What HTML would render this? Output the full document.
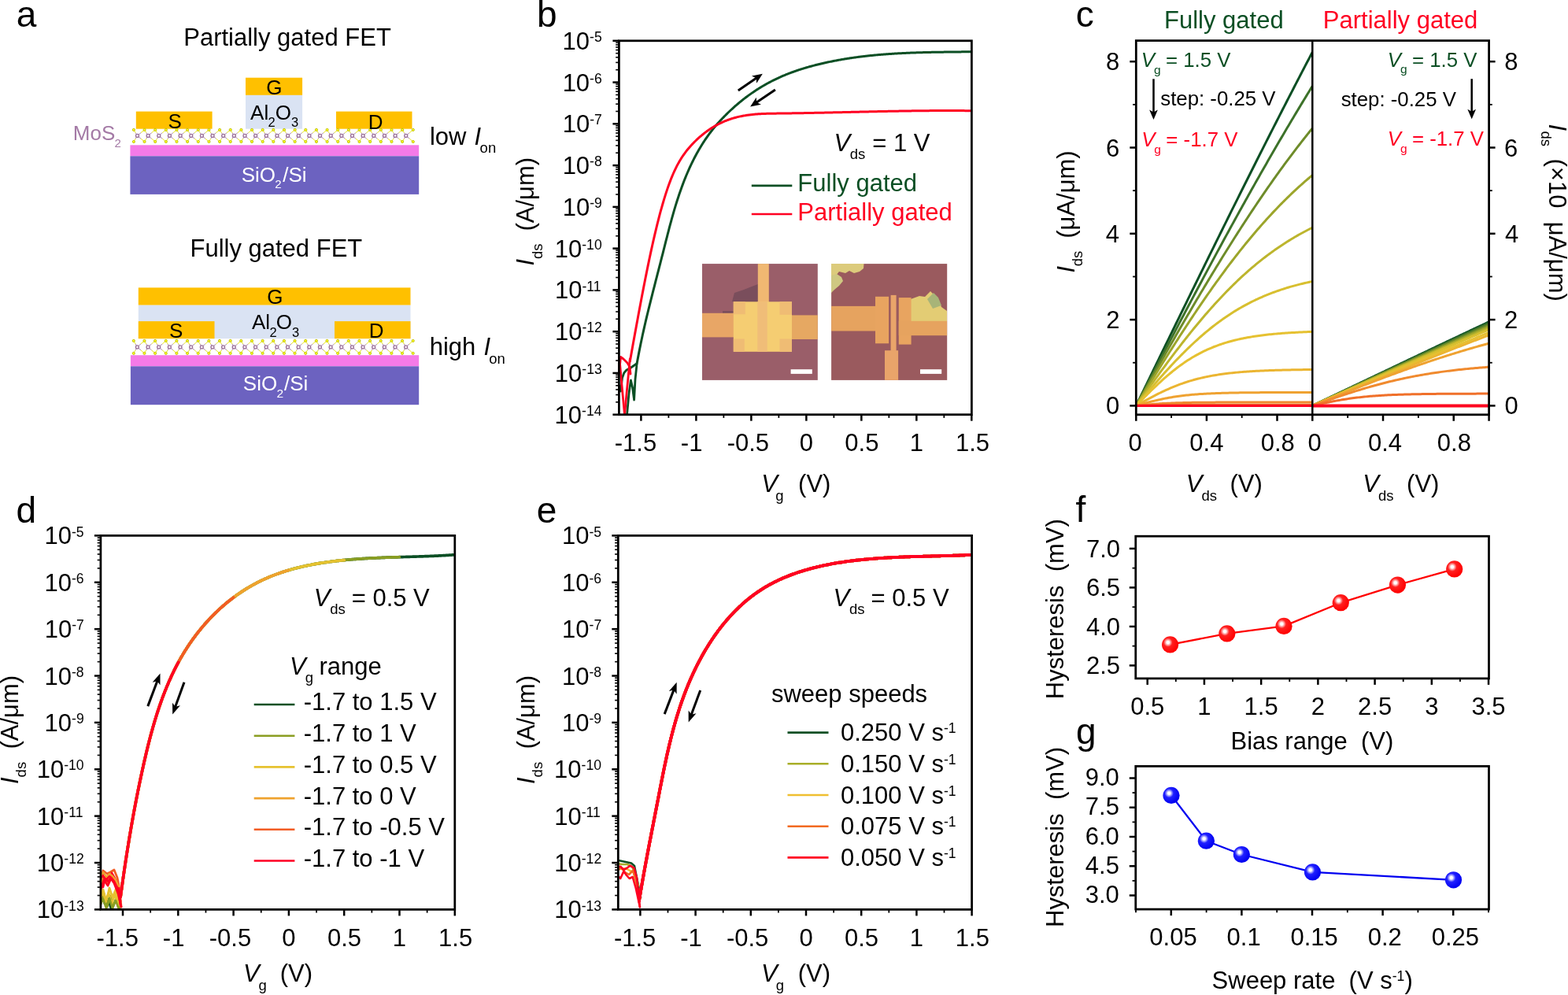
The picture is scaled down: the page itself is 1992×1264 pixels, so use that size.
<!DOCTYPE html>
<html><head><meta charset="utf-8"><title>Figure</title>
<style>
html,body{margin:0;padding:0;background:#fff;}
svg{display:block;}
text{font-family:'Liberation Sans', Arial, sans-serif;white-space:pre;}
</style></head>
<body>
<svg width="1992" height="1264" viewBox="0 0 1992 1264">
<rect width="1992" height="1264" fill="#fff"/>
<text x="20.65" y="34.00" font-size="46">a</text>
<text x="233.26" y="57.80" font-size="31">Partially gated FET</text>
<text x="241.46" y="325.50" font-size="31">Fully gated FET</text>
<rect x="312.00" y="98.70" width="72.10" height="22.20" fill="#ffc000"/>
<rect x="312.00" y="120.90" width="72.10" height="42.80" fill="#dae3f3"/>
<rect x="172.80" y="141.60" width="96.80" height="22.10" fill="#ffc000"/>
<rect x="427.00" y="141.60" width="96.50" height="22.10" fill="#ffc000"/>
<rect x="165.40" y="184.30" width="366.80" height="14.00" fill="#f57ae8"/>
<rect x="165.40" y="198.30" width="366.80" height="48.60" fill="#6c62c0"/>
<line x1="174.50" y1="172.40" x2="172.20" y2="168.65" stroke="#a07aa0" stroke-width="0.9" stroke-linecap="butt"/>
<line x1="172.20" y1="168.65" x2="169.90" y2="164.90" stroke="#e6e600" stroke-width="0.9" stroke-linecap="butt"/>
<line x1="174.50" y1="172.40" x2="172.20" y2="176.20" stroke="#a07aa0" stroke-width="0.9" stroke-linecap="butt"/>
<line x1="172.20" y1="176.20" x2="169.90" y2="180.00" stroke="#e6e600" stroke-width="0.9" stroke-linecap="butt"/>
<line x1="174.50" y1="172.40" x2="179.03" y2="168.65" stroke="#a07aa0" stroke-width="0.9" stroke-linecap="butt"/>
<line x1="179.03" y1="168.65" x2="183.55" y2="164.90" stroke="#e6e600" stroke-width="0.9" stroke-linecap="butt"/>
<line x1="174.50" y1="172.40" x2="179.03" y2="176.20" stroke="#a07aa0" stroke-width="0.9" stroke-linecap="butt"/>
<line x1="179.03" y1="176.20" x2="183.55" y2="180.00" stroke="#e6e600" stroke-width="0.9" stroke-linecap="butt"/>
<line x1="188.15" y1="172.40" x2="185.85" y2="168.65" stroke="#a07aa0" stroke-width="0.9" stroke-linecap="butt"/>
<line x1="185.85" y1="168.65" x2="183.55" y2="164.90" stroke="#e6e600" stroke-width="0.9" stroke-linecap="butt"/>
<line x1="188.15" y1="172.40" x2="185.85" y2="176.20" stroke="#a07aa0" stroke-width="0.9" stroke-linecap="butt"/>
<line x1="185.85" y1="176.20" x2="183.55" y2="180.00" stroke="#e6e600" stroke-width="0.9" stroke-linecap="butt"/>
<line x1="188.15" y1="172.40" x2="192.68" y2="168.65" stroke="#a07aa0" stroke-width="0.9" stroke-linecap="butt"/>
<line x1="192.68" y1="168.65" x2="197.20" y2="164.90" stroke="#e6e600" stroke-width="0.9" stroke-linecap="butt"/>
<line x1="188.15" y1="172.40" x2="192.68" y2="176.20" stroke="#a07aa0" stroke-width="0.9" stroke-linecap="butt"/>
<line x1="192.68" y1="176.20" x2="197.20" y2="180.00" stroke="#e6e600" stroke-width="0.9" stroke-linecap="butt"/>
<line x1="201.80" y1="172.40" x2="199.50" y2="168.65" stroke="#a07aa0" stroke-width="0.9" stroke-linecap="butt"/>
<line x1="199.50" y1="168.65" x2="197.20" y2="164.90" stroke="#e6e600" stroke-width="0.9" stroke-linecap="butt"/>
<line x1="201.80" y1="172.40" x2="199.50" y2="176.20" stroke="#a07aa0" stroke-width="0.9" stroke-linecap="butt"/>
<line x1="199.50" y1="176.20" x2="197.20" y2="180.00" stroke="#e6e600" stroke-width="0.9" stroke-linecap="butt"/>
<line x1="201.80" y1="172.40" x2="206.33" y2="168.65" stroke="#a07aa0" stroke-width="0.9" stroke-linecap="butt"/>
<line x1="206.33" y1="168.65" x2="210.85" y2="164.90" stroke="#e6e600" stroke-width="0.9" stroke-linecap="butt"/>
<line x1="201.80" y1="172.40" x2="206.33" y2="176.20" stroke="#a07aa0" stroke-width="0.9" stroke-linecap="butt"/>
<line x1="206.33" y1="176.20" x2="210.85" y2="180.00" stroke="#e6e600" stroke-width="0.9" stroke-linecap="butt"/>
<line x1="215.45" y1="172.40" x2="213.15" y2="168.65" stroke="#a07aa0" stroke-width="0.9" stroke-linecap="butt"/>
<line x1="213.15" y1="168.65" x2="210.85" y2="164.90" stroke="#e6e600" stroke-width="0.9" stroke-linecap="butt"/>
<line x1="215.45" y1="172.40" x2="213.15" y2="176.20" stroke="#a07aa0" stroke-width="0.9" stroke-linecap="butt"/>
<line x1="213.15" y1="176.20" x2="210.85" y2="180.00" stroke="#e6e600" stroke-width="0.9" stroke-linecap="butt"/>
<line x1="215.45" y1="172.40" x2="219.97" y2="168.65" stroke="#a07aa0" stroke-width="0.9" stroke-linecap="butt"/>
<line x1="219.97" y1="168.65" x2="224.50" y2="164.90" stroke="#e6e600" stroke-width="0.9" stroke-linecap="butt"/>
<line x1="215.45" y1="172.40" x2="219.97" y2="176.20" stroke="#a07aa0" stroke-width="0.9" stroke-linecap="butt"/>
<line x1="219.97" y1="176.20" x2="224.50" y2="180.00" stroke="#e6e600" stroke-width="0.9" stroke-linecap="butt"/>
<line x1="229.10" y1="172.40" x2="226.80" y2="168.65" stroke="#a07aa0" stroke-width="0.9" stroke-linecap="butt"/>
<line x1="226.80" y1="168.65" x2="224.50" y2="164.90" stroke="#e6e600" stroke-width="0.9" stroke-linecap="butt"/>
<line x1="229.10" y1="172.40" x2="226.80" y2="176.20" stroke="#a07aa0" stroke-width="0.9" stroke-linecap="butt"/>
<line x1="226.80" y1="176.20" x2="224.50" y2="180.00" stroke="#e6e600" stroke-width="0.9" stroke-linecap="butt"/>
<line x1="229.10" y1="172.40" x2="233.62" y2="168.65" stroke="#a07aa0" stroke-width="0.9" stroke-linecap="butt"/>
<line x1="233.62" y1="168.65" x2="238.15" y2="164.90" stroke="#e6e600" stroke-width="0.9" stroke-linecap="butt"/>
<line x1="229.10" y1="172.40" x2="233.62" y2="176.20" stroke="#a07aa0" stroke-width="0.9" stroke-linecap="butt"/>
<line x1="233.62" y1="176.20" x2="238.15" y2="180.00" stroke="#e6e600" stroke-width="0.9" stroke-linecap="butt"/>
<line x1="242.75" y1="172.40" x2="240.45" y2="168.65" stroke="#a07aa0" stroke-width="0.9" stroke-linecap="butt"/>
<line x1="240.45" y1="168.65" x2="238.15" y2="164.90" stroke="#e6e600" stroke-width="0.9" stroke-linecap="butt"/>
<line x1="242.75" y1="172.40" x2="240.45" y2="176.20" stroke="#a07aa0" stroke-width="0.9" stroke-linecap="butt"/>
<line x1="240.45" y1="176.20" x2="238.15" y2="180.00" stroke="#e6e600" stroke-width="0.9" stroke-linecap="butt"/>
<line x1="242.75" y1="172.40" x2="247.28" y2="168.65" stroke="#a07aa0" stroke-width="0.9" stroke-linecap="butt"/>
<line x1="247.28" y1="168.65" x2="251.80" y2="164.90" stroke="#e6e600" stroke-width="0.9" stroke-linecap="butt"/>
<line x1="242.75" y1="172.40" x2="247.28" y2="176.20" stroke="#a07aa0" stroke-width="0.9" stroke-linecap="butt"/>
<line x1="247.28" y1="176.20" x2="251.80" y2="180.00" stroke="#e6e600" stroke-width="0.9" stroke-linecap="butt"/>
<line x1="256.40" y1="172.40" x2="254.10" y2="168.65" stroke="#a07aa0" stroke-width="0.9" stroke-linecap="butt"/>
<line x1="254.10" y1="168.65" x2="251.80" y2="164.90" stroke="#e6e600" stroke-width="0.9" stroke-linecap="butt"/>
<line x1="256.40" y1="172.40" x2="254.10" y2="176.20" stroke="#a07aa0" stroke-width="0.9" stroke-linecap="butt"/>
<line x1="254.10" y1="176.20" x2="251.80" y2="180.00" stroke="#e6e600" stroke-width="0.9" stroke-linecap="butt"/>
<line x1="256.40" y1="172.40" x2="260.92" y2="168.65" stroke="#a07aa0" stroke-width="0.9" stroke-linecap="butt"/>
<line x1="260.92" y1="168.65" x2="265.45" y2="164.90" stroke="#e6e600" stroke-width="0.9" stroke-linecap="butt"/>
<line x1="256.40" y1="172.40" x2="260.92" y2="176.20" stroke="#a07aa0" stroke-width="0.9" stroke-linecap="butt"/>
<line x1="260.92" y1="176.20" x2="265.45" y2="180.00" stroke="#e6e600" stroke-width="0.9" stroke-linecap="butt"/>
<line x1="270.05" y1="172.40" x2="267.75" y2="168.65" stroke="#a07aa0" stroke-width="0.9" stroke-linecap="butt"/>
<line x1="267.75" y1="168.65" x2="265.45" y2="164.90" stroke="#e6e600" stroke-width="0.9" stroke-linecap="butt"/>
<line x1="270.05" y1="172.40" x2="267.75" y2="176.20" stroke="#a07aa0" stroke-width="0.9" stroke-linecap="butt"/>
<line x1="267.75" y1="176.20" x2="265.45" y2="180.00" stroke="#e6e600" stroke-width="0.9" stroke-linecap="butt"/>
<line x1="270.05" y1="172.40" x2="274.58" y2="168.65" stroke="#a07aa0" stroke-width="0.9" stroke-linecap="butt"/>
<line x1="274.58" y1="168.65" x2="279.10" y2="164.90" stroke="#e6e600" stroke-width="0.9" stroke-linecap="butt"/>
<line x1="270.05" y1="172.40" x2="274.58" y2="176.20" stroke="#a07aa0" stroke-width="0.9" stroke-linecap="butt"/>
<line x1="274.58" y1="176.20" x2="279.10" y2="180.00" stroke="#e6e600" stroke-width="0.9" stroke-linecap="butt"/>
<line x1="283.70" y1="172.40" x2="281.40" y2="168.65" stroke="#a07aa0" stroke-width="0.9" stroke-linecap="butt"/>
<line x1="281.40" y1="168.65" x2="279.10" y2="164.90" stroke="#e6e600" stroke-width="0.9" stroke-linecap="butt"/>
<line x1="283.70" y1="172.40" x2="281.40" y2="176.20" stroke="#a07aa0" stroke-width="0.9" stroke-linecap="butt"/>
<line x1="281.40" y1="176.20" x2="279.10" y2="180.00" stroke="#e6e600" stroke-width="0.9" stroke-linecap="butt"/>
<line x1="283.70" y1="172.40" x2="288.23" y2="168.65" stroke="#a07aa0" stroke-width="0.9" stroke-linecap="butt"/>
<line x1="288.23" y1="168.65" x2="292.75" y2="164.90" stroke="#e6e600" stroke-width="0.9" stroke-linecap="butt"/>
<line x1="283.70" y1="172.40" x2="288.23" y2="176.20" stroke="#a07aa0" stroke-width="0.9" stroke-linecap="butt"/>
<line x1="288.23" y1="176.20" x2="292.75" y2="180.00" stroke="#e6e600" stroke-width="0.9" stroke-linecap="butt"/>
<line x1="297.35" y1="172.40" x2="295.05" y2="168.65" stroke="#a07aa0" stroke-width="0.9" stroke-linecap="butt"/>
<line x1="295.05" y1="168.65" x2="292.75" y2="164.90" stroke="#e6e600" stroke-width="0.9" stroke-linecap="butt"/>
<line x1="297.35" y1="172.40" x2="295.05" y2="176.20" stroke="#a07aa0" stroke-width="0.9" stroke-linecap="butt"/>
<line x1="295.05" y1="176.20" x2="292.75" y2="180.00" stroke="#e6e600" stroke-width="0.9" stroke-linecap="butt"/>
<line x1="297.35" y1="172.40" x2="301.88" y2="168.65" stroke="#a07aa0" stroke-width="0.9" stroke-linecap="butt"/>
<line x1="301.88" y1="168.65" x2="306.40" y2="164.90" stroke="#e6e600" stroke-width="0.9" stroke-linecap="butt"/>
<line x1="297.35" y1="172.40" x2="301.88" y2="176.20" stroke="#a07aa0" stroke-width="0.9" stroke-linecap="butt"/>
<line x1="301.88" y1="176.20" x2="306.40" y2="180.00" stroke="#e6e600" stroke-width="0.9" stroke-linecap="butt"/>
<line x1="311.00" y1="172.40" x2="308.70" y2="168.65" stroke="#a07aa0" stroke-width="0.9" stroke-linecap="butt"/>
<line x1="308.70" y1="168.65" x2="306.40" y2="164.90" stroke="#e6e600" stroke-width="0.9" stroke-linecap="butt"/>
<line x1="311.00" y1="172.40" x2="308.70" y2="176.20" stroke="#a07aa0" stroke-width="0.9" stroke-linecap="butt"/>
<line x1="308.70" y1="176.20" x2="306.40" y2="180.00" stroke="#e6e600" stroke-width="0.9" stroke-linecap="butt"/>
<line x1="311.00" y1="172.40" x2="315.52" y2="168.65" stroke="#a07aa0" stroke-width="0.9" stroke-linecap="butt"/>
<line x1="315.52" y1="168.65" x2="320.05" y2="164.90" stroke="#e6e600" stroke-width="0.9" stroke-linecap="butt"/>
<line x1="311.00" y1="172.40" x2="315.52" y2="176.20" stroke="#a07aa0" stroke-width="0.9" stroke-linecap="butt"/>
<line x1="315.52" y1="176.20" x2="320.05" y2="180.00" stroke="#e6e600" stroke-width="0.9" stroke-linecap="butt"/>
<line x1="324.65" y1="172.40" x2="322.35" y2="168.65" stroke="#a07aa0" stroke-width="0.9" stroke-linecap="butt"/>
<line x1="322.35" y1="168.65" x2="320.05" y2="164.90" stroke="#e6e600" stroke-width="0.9" stroke-linecap="butt"/>
<line x1="324.65" y1="172.40" x2="322.35" y2="176.20" stroke="#a07aa0" stroke-width="0.9" stroke-linecap="butt"/>
<line x1="322.35" y1="176.20" x2="320.05" y2="180.00" stroke="#e6e600" stroke-width="0.9" stroke-linecap="butt"/>
<line x1="324.65" y1="172.40" x2="329.18" y2="168.65" stroke="#a07aa0" stroke-width="0.9" stroke-linecap="butt"/>
<line x1="329.18" y1="168.65" x2="333.70" y2="164.90" stroke="#e6e600" stroke-width="0.9" stroke-linecap="butt"/>
<line x1="324.65" y1="172.40" x2="329.18" y2="176.20" stroke="#a07aa0" stroke-width="0.9" stroke-linecap="butt"/>
<line x1="329.18" y1="176.20" x2="333.70" y2="180.00" stroke="#e6e600" stroke-width="0.9" stroke-linecap="butt"/>
<line x1="338.30" y1="172.40" x2="336.00" y2="168.65" stroke="#a07aa0" stroke-width="0.9" stroke-linecap="butt"/>
<line x1="336.00" y1="168.65" x2="333.70" y2="164.90" stroke="#e6e600" stroke-width="0.9" stroke-linecap="butt"/>
<line x1="338.30" y1="172.40" x2="336.00" y2="176.20" stroke="#a07aa0" stroke-width="0.9" stroke-linecap="butt"/>
<line x1="336.00" y1="176.20" x2="333.70" y2="180.00" stroke="#e6e600" stroke-width="0.9" stroke-linecap="butt"/>
<line x1="338.30" y1="172.40" x2="342.83" y2="168.65" stroke="#a07aa0" stroke-width="0.9" stroke-linecap="butt"/>
<line x1="342.83" y1="168.65" x2="347.35" y2="164.90" stroke="#e6e600" stroke-width="0.9" stroke-linecap="butt"/>
<line x1="338.30" y1="172.40" x2="342.83" y2="176.20" stroke="#a07aa0" stroke-width="0.9" stroke-linecap="butt"/>
<line x1="342.83" y1="176.20" x2="347.35" y2="180.00" stroke="#e6e600" stroke-width="0.9" stroke-linecap="butt"/>
<line x1="351.95" y1="172.40" x2="349.65" y2="168.65" stroke="#a07aa0" stroke-width="0.9" stroke-linecap="butt"/>
<line x1="349.65" y1="168.65" x2="347.35" y2="164.90" stroke="#e6e600" stroke-width="0.9" stroke-linecap="butt"/>
<line x1="351.95" y1="172.40" x2="349.65" y2="176.20" stroke="#a07aa0" stroke-width="0.9" stroke-linecap="butt"/>
<line x1="349.65" y1="176.20" x2="347.35" y2="180.00" stroke="#e6e600" stroke-width="0.9" stroke-linecap="butt"/>
<line x1="351.95" y1="172.40" x2="356.48" y2="168.65" stroke="#a07aa0" stroke-width="0.9" stroke-linecap="butt"/>
<line x1="356.48" y1="168.65" x2="361.00" y2="164.90" stroke="#e6e600" stroke-width="0.9" stroke-linecap="butt"/>
<line x1="351.95" y1="172.40" x2="356.48" y2="176.20" stroke="#a07aa0" stroke-width="0.9" stroke-linecap="butt"/>
<line x1="356.48" y1="176.20" x2="361.00" y2="180.00" stroke="#e6e600" stroke-width="0.9" stroke-linecap="butt"/>
<line x1="365.60" y1="172.40" x2="363.30" y2="168.65" stroke="#a07aa0" stroke-width="0.9" stroke-linecap="butt"/>
<line x1="363.30" y1="168.65" x2="361.00" y2="164.90" stroke="#e6e600" stroke-width="0.9" stroke-linecap="butt"/>
<line x1="365.60" y1="172.40" x2="363.30" y2="176.20" stroke="#a07aa0" stroke-width="0.9" stroke-linecap="butt"/>
<line x1="363.30" y1="176.20" x2="361.00" y2="180.00" stroke="#e6e600" stroke-width="0.9" stroke-linecap="butt"/>
<line x1="365.60" y1="172.40" x2="370.12" y2="168.65" stroke="#a07aa0" stroke-width="0.9" stroke-linecap="butt"/>
<line x1="370.12" y1="168.65" x2="374.65" y2="164.90" stroke="#e6e600" stroke-width="0.9" stroke-linecap="butt"/>
<line x1="365.60" y1="172.40" x2="370.12" y2="176.20" stroke="#a07aa0" stroke-width="0.9" stroke-linecap="butt"/>
<line x1="370.12" y1="176.20" x2="374.65" y2="180.00" stroke="#e6e600" stroke-width="0.9" stroke-linecap="butt"/>
<line x1="379.25" y1="172.40" x2="376.95" y2="168.65" stroke="#a07aa0" stroke-width="0.9" stroke-linecap="butt"/>
<line x1="376.95" y1="168.65" x2="374.65" y2="164.90" stroke="#e6e600" stroke-width="0.9" stroke-linecap="butt"/>
<line x1="379.25" y1="172.40" x2="376.95" y2="176.20" stroke="#a07aa0" stroke-width="0.9" stroke-linecap="butt"/>
<line x1="376.95" y1="176.20" x2="374.65" y2="180.00" stroke="#e6e600" stroke-width="0.9" stroke-linecap="butt"/>
<line x1="379.25" y1="172.40" x2="383.77" y2="168.65" stroke="#a07aa0" stroke-width="0.9" stroke-linecap="butt"/>
<line x1="383.77" y1="168.65" x2="388.30" y2="164.90" stroke="#e6e600" stroke-width="0.9" stroke-linecap="butt"/>
<line x1="379.25" y1="172.40" x2="383.77" y2="176.20" stroke="#a07aa0" stroke-width="0.9" stroke-linecap="butt"/>
<line x1="383.77" y1="176.20" x2="388.30" y2="180.00" stroke="#e6e600" stroke-width="0.9" stroke-linecap="butt"/>
<line x1="392.90" y1="172.40" x2="390.60" y2="168.65" stroke="#a07aa0" stroke-width="0.9" stroke-linecap="butt"/>
<line x1="390.60" y1="168.65" x2="388.30" y2="164.90" stroke="#e6e600" stroke-width="0.9" stroke-linecap="butt"/>
<line x1="392.90" y1="172.40" x2="390.60" y2="176.20" stroke="#a07aa0" stroke-width="0.9" stroke-linecap="butt"/>
<line x1="390.60" y1="176.20" x2="388.30" y2="180.00" stroke="#e6e600" stroke-width="0.9" stroke-linecap="butt"/>
<line x1="392.90" y1="172.40" x2="397.43" y2="168.65" stroke="#a07aa0" stroke-width="0.9" stroke-linecap="butt"/>
<line x1="397.43" y1="168.65" x2="401.95" y2="164.90" stroke="#e6e600" stroke-width="0.9" stroke-linecap="butt"/>
<line x1="392.90" y1="172.40" x2="397.43" y2="176.20" stroke="#a07aa0" stroke-width="0.9" stroke-linecap="butt"/>
<line x1="397.43" y1="176.20" x2="401.95" y2="180.00" stroke="#e6e600" stroke-width="0.9" stroke-linecap="butt"/>
<line x1="406.55" y1="172.40" x2="404.25" y2="168.65" stroke="#a07aa0" stroke-width="0.9" stroke-linecap="butt"/>
<line x1="404.25" y1="168.65" x2="401.95" y2="164.90" stroke="#e6e600" stroke-width="0.9" stroke-linecap="butt"/>
<line x1="406.55" y1="172.40" x2="404.25" y2="176.20" stroke="#a07aa0" stroke-width="0.9" stroke-linecap="butt"/>
<line x1="404.25" y1="176.20" x2="401.95" y2="180.00" stroke="#e6e600" stroke-width="0.9" stroke-linecap="butt"/>
<line x1="406.55" y1="172.40" x2="411.08" y2="168.65" stroke="#a07aa0" stroke-width="0.9" stroke-linecap="butt"/>
<line x1="411.08" y1="168.65" x2="415.60" y2="164.90" stroke="#e6e600" stroke-width="0.9" stroke-linecap="butt"/>
<line x1="406.55" y1="172.40" x2="411.08" y2="176.20" stroke="#a07aa0" stroke-width="0.9" stroke-linecap="butt"/>
<line x1="411.08" y1="176.20" x2="415.60" y2="180.00" stroke="#e6e600" stroke-width="0.9" stroke-linecap="butt"/>
<line x1="420.20" y1="172.40" x2="417.90" y2="168.65" stroke="#a07aa0" stroke-width="0.9" stroke-linecap="butt"/>
<line x1="417.90" y1="168.65" x2="415.60" y2="164.90" stroke="#e6e600" stroke-width="0.9" stroke-linecap="butt"/>
<line x1="420.20" y1="172.40" x2="417.90" y2="176.20" stroke="#a07aa0" stroke-width="0.9" stroke-linecap="butt"/>
<line x1="417.90" y1="176.20" x2="415.60" y2="180.00" stroke="#e6e600" stroke-width="0.9" stroke-linecap="butt"/>
<line x1="420.20" y1="172.40" x2="424.73" y2="168.65" stroke="#a07aa0" stroke-width="0.9" stroke-linecap="butt"/>
<line x1="424.73" y1="168.65" x2="429.25" y2="164.90" stroke="#e6e600" stroke-width="0.9" stroke-linecap="butt"/>
<line x1="420.20" y1="172.40" x2="424.73" y2="176.20" stroke="#a07aa0" stroke-width="0.9" stroke-linecap="butt"/>
<line x1="424.73" y1="176.20" x2="429.25" y2="180.00" stroke="#e6e600" stroke-width="0.9" stroke-linecap="butt"/>
<line x1="433.85" y1="172.40" x2="431.55" y2="168.65" stroke="#a07aa0" stroke-width="0.9" stroke-linecap="butt"/>
<line x1="431.55" y1="168.65" x2="429.25" y2="164.90" stroke="#e6e600" stroke-width="0.9" stroke-linecap="butt"/>
<line x1="433.85" y1="172.40" x2="431.55" y2="176.20" stroke="#a07aa0" stroke-width="0.9" stroke-linecap="butt"/>
<line x1="431.55" y1="176.20" x2="429.25" y2="180.00" stroke="#e6e600" stroke-width="0.9" stroke-linecap="butt"/>
<line x1="433.85" y1="172.40" x2="438.38" y2="168.65" stroke="#a07aa0" stroke-width="0.9" stroke-linecap="butt"/>
<line x1="438.38" y1="168.65" x2="442.90" y2="164.90" stroke="#e6e600" stroke-width="0.9" stroke-linecap="butt"/>
<line x1="433.85" y1="172.40" x2="438.38" y2="176.20" stroke="#a07aa0" stroke-width="0.9" stroke-linecap="butt"/>
<line x1="438.38" y1="176.20" x2="442.90" y2="180.00" stroke="#e6e600" stroke-width="0.9" stroke-linecap="butt"/>
<line x1="447.50" y1="172.40" x2="445.20" y2="168.65" stroke="#a07aa0" stroke-width="0.9" stroke-linecap="butt"/>
<line x1="445.20" y1="168.65" x2="442.90" y2="164.90" stroke="#e6e600" stroke-width="0.9" stroke-linecap="butt"/>
<line x1="447.50" y1="172.40" x2="445.20" y2="176.20" stroke="#a07aa0" stroke-width="0.9" stroke-linecap="butt"/>
<line x1="445.20" y1="176.20" x2="442.90" y2="180.00" stroke="#e6e600" stroke-width="0.9" stroke-linecap="butt"/>
<line x1="447.50" y1="172.40" x2="452.03" y2="168.65" stroke="#a07aa0" stroke-width="0.9" stroke-linecap="butt"/>
<line x1="452.03" y1="168.65" x2="456.55" y2="164.90" stroke="#e6e600" stroke-width="0.9" stroke-linecap="butt"/>
<line x1="447.50" y1="172.40" x2="452.03" y2="176.20" stroke="#a07aa0" stroke-width="0.9" stroke-linecap="butt"/>
<line x1="452.03" y1="176.20" x2="456.55" y2="180.00" stroke="#e6e600" stroke-width="0.9" stroke-linecap="butt"/>
<line x1="461.15" y1="172.40" x2="458.85" y2="168.65" stroke="#a07aa0" stroke-width="0.9" stroke-linecap="butt"/>
<line x1="458.85" y1="168.65" x2="456.55" y2="164.90" stroke="#e6e600" stroke-width="0.9" stroke-linecap="butt"/>
<line x1="461.15" y1="172.40" x2="458.85" y2="176.20" stroke="#a07aa0" stroke-width="0.9" stroke-linecap="butt"/>
<line x1="458.85" y1="176.20" x2="456.55" y2="180.00" stroke="#e6e600" stroke-width="0.9" stroke-linecap="butt"/>
<line x1="461.15" y1="172.40" x2="465.68" y2="168.65" stroke="#a07aa0" stroke-width="0.9" stroke-linecap="butt"/>
<line x1="465.68" y1="168.65" x2="470.20" y2="164.90" stroke="#e6e600" stroke-width="0.9" stroke-linecap="butt"/>
<line x1="461.15" y1="172.40" x2="465.68" y2="176.20" stroke="#a07aa0" stroke-width="0.9" stroke-linecap="butt"/>
<line x1="465.68" y1="176.20" x2="470.20" y2="180.00" stroke="#e6e600" stroke-width="0.9" stroke-linecap="butt"/>
<line x1="474.80" y1="172.40" x2="472.50" y2="168.65" stroke="#a07aa0" stroke-width="0.9" stroke-linecap="butt"/>
<line x1="472.50" y1="168.65" x2="470.20" y2="164.90" stroke="#e6e600" stroke-width="0.9" stroke-linecap="butt"/>
<line x1="474.80" y1="172.40" x2="472.50" y2="176.20" stroke="#a07aa0" stroke-width="0.9" stroke-linecap="butt"/>
<line x1="472.50" y1="176.20" x2="470.20" y2="180.00" stroke="#e6e600" stroke-width="0.9" stroke-linecap="butt"/>
<line x1="474.80" y1="172.40" x2="479.33" y2="168.65" stroke="#a07aa0" stroke-width="0.9" stroke-linecap="butt"/>
<line x1="479.33" y1="168.65" x2="483.85" y2="164.90" stroke="#e6e600" stroke-width="0.9" stroke-linecap="butt"/>
<line x1="474.80" y1="172.40" x2="479.33" y2="176.20" stroke="#a07aa0" stroke-width="0.9" stroke-linecap="butt"/>
<line x1="479.33" y1="176.20" x2="483.85" y2="180.00" stroke="#e6e600" stroke-width="0.9" stroke-linecap="butt"/>
<line x1="488.45" y1="172.40" x2="486.15" y2="168.65" stroke="#a07aa0" stroke-width="0.9" stroke-linecap="butt"/>
<line x1="486.15" y1="168.65" x2="483.85" y2="164.90" stroke="#e6e600" stroke-width="0.9" stroke-linecap="butt"/>
<line x1="488.45" y1="172.40" x2="486.15" y2="176.20" stroke="#a07aa0" stroke-width="0.9" stroke-linecap="butt"/>
<line x1="486.15" y1="176.20" x2="483.85" y2="180.00" stroke="#e6e600" stroke-width="0.9" stroke-linecap="butt"/>
<line x1="488.45" y1="172.40" x2="492.98" y2="168.65" stroke="#a07aa0" stroke-width="0.9" stroke-linecap="butt"/>
<line x1="492.98" y1="168.65" x2="497.50" y2="164.90" stroke="#e6e600" stroke-width="0.9" stroke-linecap="butt"/>
<line x1="488.45" y1="172.40" x2="492.98" y2="176.20" stroke="#a07aa0" stroke-width="0.9" stroke-linecap="butt"/>
<line x1="492.98" y1="176.20" x2="497.50" y2="180.00" stroke="#e6e600" stroke-width="0.9" stroke-linecap="butt"/>
<line x1="502.10" y1="172.40" x2="499.80" y2="168.65" stroke="#a07aa0" stroke-width="0.9" stroke-linecap="butt"/>
<line x1="499.80" y1="168.65" x2="497.50" y2="164.90" stroke="#e6e600" stroke-width="0.9" stroke-linecap="butt"/>
<line x1="502.10" y1="172.40" x2="499.80" y2="176.20" stroke="#a07aa0" stroke-width="0.9" stroke-linecap="butt"/>
<line x1="499.80" y1="176.20" x2="497.50" y2="180.00" stroke="#e6e600" stroke-width="0.9" stroke-linecap="butt"/>
<line x1="502.10" y1="172.40" x2="506.62" y2="168.65" stroke="#a07aa0" stroke-width="0.9" stroke-linecap="butt"/>
<line x1="506.62" y1="168.65" x2="511.15" y2="164.90" stroke="#e6e600" stroke-width="0.9" stroke-linecap="butt"/>
<line x1="502.10" y1="172.40" x2="506.62" y2="176.20" stroke="#a07aa0" stroke-width="0.9" stroke-linecap="butt"/>
<line x1="506.62" y1="176.20" x2="511.15" y2="180.00" stroke="#e6e600" stroke-width="0.9" stroke-linecap="butt"/>
<line x1="515.75" y1="172.40" x2="513.45" y2="168.65" stroke="#a07aa0" stroke-width="0.9" stroke-linecap="butt"/>
<line x1="513.45" y1="168.65" x2="511.15" y2="164.90" stroke="#e6e600" stroke-width="0.9" stroke-linecap="butt"/>
<line x1="515.75" y1="172.40" x2="513.45" y2="176.20" stroke="#a07aa0" stroke-width="0.9" stroke-linecap="butt"/>
<line x1="513.45" y1="176.20" x2="511.15" y2="180.00" stroke="#e6e600" stroke-width="0.9" stroke-linecap="butt"/>
<line x1="515.75" y1="172.40" x2="520.28" y2="168.65" stroke="#a07aa0" stroke-width="0.9" stroke-linecap="butt"/>
<line x1="520.28" y1="168.65" x2="524.80" y2="164.90" stroke="#e6e600" stroke-width="0.9" stroke-linecap="butt"/>
<line x1="515.75" y1="172.40" x2="520.28" y2="176.20" stroke="#a07aa0" stroke-width="0.9" stroke-linecap="butt"/>
<line x1="520.28" y1="176.20" x2="524.80" y2="180.00" stroke="#e6e600" stroke-width="0.9" stroke-linecap="butt"/>
<circle cx="169.90" cy="164.90" r="1.6" fill="#ffff20" stroke="#b4b400" stroke-width="0.8"/>
<circle cx="169.90" cy="180.00" r="1.6" fill="#ffff20" stroke="#b4b400" stroke-width="0.8"/>
<circle cx="183.55" cy="164.90" r="1.6" fill="#ffff20" stroke="#b4b400" stroke-width="0.8"/>
<circle cx="183.55" cy="180.00" r="1.6" fill="#ffff20" stroke="#b4b400" stroke-width="0.8"/>
<circle cx="197.20" cy="164.90" r="1.6" fill="#ffff20" stroke="#b4b400" stroke-width="0.8"/>
<circle cx="197.20" cy="180.00" r="1.6" fill="#ffff20" stroke="#b4b400" stroke-width="0.8"/>
<circle cx="210.85" cy="164.90" r="1.6" fill="#ffff20" stroke="#b4b400" stroke-width="0.8"/>
<circle cx="210.85" cy="180.00" r="1.6" fill="#ffff20" stroke="#b4b400" stroke-width="0.8"/>
<circle cx="224.50" cy="164.90" r="1.6" fill="#ffff20" stroke="#b4b400" stroke-width="0.8"/>
<circle cx="224.50" cy="180.00" r="1.6" fill="#ffff20" stroke="#b4b400" stroke-width="0.8"/>
<circle cx="238.15" cy="164.90" r="1.6" fill="#ffff20" stroke="#b4b400" stroke-width="0.8"/>
<circle cx="238.15" cy="180.00" r="1.6" fill="#ffff20" stroke="#b4b400" stroke-width="0.8"/>
<circle cx="251.80" cy="164.90" r="1.6" fill="#ffff20" stroke="#b4b400" stroke-width="0.8"/>
<circle cx="251.80" cy="180.00" r="1.6" fill="#ffff20" stroke="#b4b400" stroke-width="0.8"/>
<circle cx="265.45" cy="164.90" r="1.6" fill="#ffff20" stroke="#b4b400" stroke-width="0.8"/>
<circle cx="265.45" cy="180.00" r="1.6" fill="#ffff20" stroke="#b4b400" stroke-width="0.8"/>
<circle cx="279.10" cy="164.90" r="1.6" fill="#ffff20" stroke="#b4b400" stroke-width="0.8"/>
<circle cx="279.10" cy="180.00" r="1.6" fill="#ffff20" stroke="#b4b400" stroke-width="0.8"/>
<circle cx="292.75" cy="164.90" r="1.6" fill="#ffff20" stroke="#b4b400" stroke-width="0.8"/>
<circle cx="292.75" cy="180.00" r="1.6" fill="#ffff20" stroke="#b4b400" stroke-width="0.8"/>
<circle cx="306.40" cy="164.90" r="1.6" fill="#ffff20" stroke="#b4b400" stroke-width="0.8"/>
<circle cx="306.40" cy="180.00" r="1.6" fill="#ffff20" stroke="#b4b400" stroke-width="0.8"/>
<circle cx="320.05" cy="164.90" r="1.6" fill="#ffff20" stroke="#b4b400" stroke-width="0.8"/>
<circle cx="320.05" cy="180.00" r="1.6" fill="#ffff20" stroke="#b4b400" stroke-width="0.8"/>
<circle cx="333.70" cy="164.90" r="1.6" fill="#ffff20" stroke="#b4b400" stroke-width="0.8"/>
<circle cx="333.70" cy="180.00" r="1.6" fill="#ffff20" stroke="#b4b400" stroke-width="0.8"/>
<circle cx="347.35" cy="164.90" r="1.6" fill="#ffff20" stroke="#b4b400" stroke-width="0.8"/>
<circle cx="347.35" cy="180.00" r="1.6" fill="#ffff20" stroke="#b4b400" stroke-width="0.8"/>
<circle cx="361.00" cy="164.90" r="1.6" fill="#ffff20" stroke="#b4b400" stroke-width="0.8"/>
<circle cx="361.00" cy="180.00" r="1.6" fill="#ffff20" stroke="#b4b400" stroke-width="0.8"/>
<circle cx="374.65" cy="164.90" r="1.6" fill="#ffff20" stroke="#b4b400" stroke-width="0.8"/>
<circle cx="374.65" cy="180.00" r="1.6" fill="#ffff20" stroke="#b4b400" stroke-width="0.8"/>
<circle cx="388.30" cy="164.90" r="1.6" fill="#ffff20" stroke="#b4b400" stroke-width="0.8"/>
<circle cx="388.30" cy="180.00" r="1.6" fill="#ffff20" stroke="#b4b400" stroke-width="0.8"/>
<circle cx="401.95" cy="164.90" r="1.6" fill="#ffff20" stroke="#b4b400" stroke-width="0.8"/>
<circle cx="401.95" cy="180.00" r="1.6" fill="#ffff20" stroke="#b4b400" stroke-width="0.8"/>
<circle cx="415.60" cy="164.90" r="1.6" fill="#ffff20" stroke="#b4b400" stroke-width="0.8"/>
<circle cx="415.60" cy="180.00" r="1.6" fill="#ffff20" stroke="#b4b400" stroke-width="0.8"/>
<circle cx="429.25" cy="164.90" r="1.6" fill="#ffff20" stroke="#b4b400" stroke-width="0.8"/>
<circle cx="429.25" cy="180.00" r="1.6" fill="#ffff20" stroke="#b4b400" stroke-width="0.8"/>
<circle cx="442.90" cy="164.90" r="1.6" fill="#ffff20" stroke="#b4b400" stroke-width="0.8"/>
<circle cx="442.90" cy="180.00" r="1.6" fill="#ffff20" stroke="#b4b400" stroke-width="0.8"/>
<circle cx="456.55" cy="164.90" r="1.6" fill="#ffff20" stroke="#b4b400" stroke-width="0.8"/>
<circle cx="456.55" cy="180.00" r="1.6" fill="#ffff20" stroke="#b4b400" stroke-width="0.8"/>
<circle cx="470.20" cy="164.90" r="1.6" fill="#ffff20" stroke="#b4b400" stroke-width="0.8"/>
<circle cx="470.20" cy="180.00" r="1.6" fill="#ffff20" stroke="#b4b400" stroke-width="0.8"/>
<circle cx="483.85" cy="164.90" r="1.6" fill="#ffff20" stroke="#b4b400" stroke-width="0.8"/>
<circle cx="483.85" cy="180.00" r="1.6" fill="#ffff20" stroke="#b4b400" stroke-width="0.8"/>
<circle cx="497.50" cy="164.90" r="1.6" fill="#ffff20" stroke="#b4b400" stroke-width="0.8"/>
<circle cx="497.50" cy="180.00" r="1.6" fill="#ffff20" stroke="#b4b400" stroke-width="0.8"/>
<circle cx="511.15" cy="164.90" r="1.6" fill="#ffff20" stroke="#b4b400" stroke-width="0.8"/>
<circle cx="511.15" cy="180.00" r="1.6" fill="#ffff20" stroke="#b4b400" stroke-width="0.8"/>
<circle cx="524.80" cy="164.90" r="1.6" fill="#ffff20" stroke="#b4b400" stroke-width="0.8"/>
<circle cx="524.80" cy="180.00" r="1.6" fill="#ffff20" stroke="#b4b400" stroke-width="0.8"/>
<circle cx="174.50" cy="172.40" r="2.0" fill="#f6eef6" stroke="#9a709a" stroke-width="1.3"/>
<circle cx="188.15" cy="172.40" r="2.0" fill="#f6eef6" stroke="#9a709a" stroke-width="1.3"/>
<circle cx="201.80" cy="172.40" r="2.0" fill="#f6eef6" stroke="#9a709a" stroke-width="1.3"/>
<circle cx="215.45" cy="172.40" r="2.0" fill="#f6eef6" stroke="#9a709a" stroke-width="1.3"/>
<circle cx="229.10" cy="172.40" r="2.0" fill="#f6eef6" stroke="#9a709a" stroke-width="1.3"/>
<circle cx="242.75" cy="172.40" r="2.0" fill="#f6eef6" stroke="#9a709a" stroke-width="1.3"/>
<circle cx="256.40" cy="172.40" r="2.0" fill="#f6eef6" stroke="#9a709a" stroke-width="1.3"/>
<circle cx="270.05" cy="172.40" r="2.0" fill="#f6eef6" stroke="#9a709a" stroke-width="1.3"/>
<circle cx="283.70" cy="172.40" r="2.0" fill="#f6eef6" stroke="#9a709a" stroke-width="1.3"/>
<circle cx="297.35" cy="172.40" r="2.0" fill="#f6eef6" stroke="#9a709a" stroke-width="1.3"/>
<circle cx="311.00" cy="172.40" r="2.0" fill="#f6eef6" stroke="#9a709a" stroke-width="1.3"/>
<circle cx="324.65" cy="172.40" r="2.0" fill="#f6eef6" stroke="#9a709a" stroke-width="1.3"/>
<circle cx="338.30" cy="172.40" r="2.0" fill="#f6eef6" stroke="#9a709a" stroke-width="1.3"/>
<circle cx="351.95" cy="172.40" r="2.0" fill="#f6eef6" stroke="#9a709a" stroke-width="1.3"/>
<circle cx="365.60" cy="172.40" r="2.0" fill="#f6eef6" stroke="#9a709a" stroke-width="1.3"/>
<circle cx="379.25" cy="172.40" r="2.0" fill="#f6eef6" stroke="#9a709a" stroke-width="1.3"/>
<circle cx="392.90" cy="172.40" r="2.0" fill="#f6eef6" stroke="#9a709a" stroke-width="1.3"/>
<circle cx="406.55" cy="172.40" r="2.0" fill="#f6eef6" stroke="#9a709a" stroke-width="1.3"/>
<circle cx="420.20" cy="172.40" r="2.0" fill="#f6eef6" stroke="#9a709a" stroke-width="1.3"/>
<circle cx="433.85" cy="172.40" r="2.0" fill="#f6eef6" stroke="#9a709a" stroke-width="1.3"/>
<circle cx="447.50" cy="172.40" r="2.0" fill="#f6eef6" stroke="#9a709a" stroke-width="1.3"/>
<circle cx="461.15" cy="172.40" r="2.0" fill="#f6eef6" stroke="#9a709a" stroke-width="1.3"/>
<circle cx="474.80" cy="172.40" r="2.0" fill="#f6eef6" stroke="#9a709a" stroke-width="1.3"/>
<circle cx="488.45" cy="172.40" r="2.0" fill="#f6eef6" stroke="#9a709a" stroke-width="1.3"/>
<circle cx="502.10" cy="172.40" r="2.0" fill="#f6eef6" stroke="#9a709a" stroke-width="1.3"/>
<circle cx="515.75" cy="172.40" r="2.0" fill="#f6eef6" stroke="#9a709a" stroke-width="1.3"/>
<text x="338.29" y="119.90" font-size="26">G</text>
<text x="318.05" y="151.90" font-size="26">Al</text>
<text x="340.47" y="161.00" font-size="16.5">2</text>
<text x="349.77" y="151.90" font-size="26">O</text>
<text x="369.97" y="161.00" font-size="16.5">3</text>
<text x="213.42" y="163.40" font-size="26">S</text>
<text x="467.67" y="163.60" font-size="26">D</text>
<text x="92.77" y="177.80" font-size="26" fill="#a47aa6">MoS</text>
<text x="145.45" y="186.80" font-size="15" fill="#a47aa6">2</text>
<text x="306.72" y="230.90" font-size="26" fill="#fff">SiO</text>
<text x="349.35" y="238.70" font-size="15" fill="#fff">2</text>
<text x="359.20" y="230.90" font-size="26" fill="#fff">/Si</text>
<text x="545.91" y="183.70" font-size="31">low</text>
<text x="602.57" y="183.70" font-size="31" font-style="italic">I</text>
<text x="609.62" y="193.90" font-size="18.5">on</text>
<rect x="175.80" y="365.40" width="345.70" height="22.30" fill="#ffc000"/>
<rect x="175.80" y="387.70" width="345.70" height="42.50" fill="#dae3f3"/>
<rect x="175.80" y="408.10" width="96.70" height="22.10" fill="#ffc000"/>
<rect x="425.00" y="408.10" width="96.50" height="22.10" fill="#ffc000"/>
<rect x="165.90" y="451.20" width="366.30" height="14.10" fill="#f57ae8"/>
<rect x="165.90" y="465.30" width="366.30" height="48.90" fill="#6c62c0"/>
<line x1="174.40" y1="440.90" x2="172.10" y2="436.90" stroke="#a07aa0" stroke-width="0.9" stroke-linecap="butt"/>
<line x1="172.10" y1="436.90" x2="169.80" y2="432.90" stroke="#e6e600" stroke-width="0.9" stroke-linecap="butt"/>
<line x1="174.40" y1="440.90" x2="172.10" y2="444.85" stroke="#a07aa0" stroke-width="0.9" stroke-linecap="butt"/>
<line x1="172.10" y1="444.85" x2="169.80" y2="448.80" stroke="#e6e600" stroke-width="0.9" stroke-linecap="butt"/>
<line x1="174.40" y1="440.90" x2="178.93" y2="436.90" stroke="#a07aa0" stroke-width="0.9" stroke-linecap="butt"/>
<line x1="178.93" y1="436.90" x2="183.45" y2="432.90" stroke="#e6e600" stroke-width="0.9" stroke-linecap="butt"/>
<line x1="174.40" y1="440.90" x2="178.93" y2="444.85" stroke="#a07aa0" stroke-width="0.9" stroke-linecap="butt"/>
<line x1="178.93" y1="444.85" x2="183.45" y2="448.80" stroke="#e6e600" stroke-width="0.9" stroke-linecap="butt"/>
<line x1="188.05" y1="440.90" x2="185.75" y2="436.90" stroke="#a07aa0" stroke-width="0.9" stroke-linecap="butt"/>
<line x1="185.75" y1="436.90" x2="183.45" y2="432.90" stroke="#e6e600" stroke-width="0.9" stroke-linecap="butt"/>
<line x1="188.05" y1="440.90" x2="185.75" y2="444.85" stroke="#a07aa0" stroke-width="0.9" stroke-linecap="butt"/>
<line x1="185.75" y1="444.85" x2="183.45" y2="448.80" stroke="#e6e600" stroke-width="0.9" stroke-linecap="butt"/>
<line x1="188.05" y1="440.90" x2="192.58" y2="436.90" stroke="#a07aa0" stroke-width="0.9" stroke-linecap="butt"/>
<line x1="192.58" y1="436.90" x2="197.10" y2="432.90" stroke="#e6e600" stroke-width="0.9" stroke-linecap="butt"/>
<line x1="188.05" y1="440.90" x2="192.58" y2="444.85" stroke="#a07aa0" stroke-width="0.9" stroke-linecap="butt"/>
<line x1="192.58" y1="444.85" x2="197.10" y2="448.80" stroke="#e6e600" stroke-width="0.9" stroke-linecap="butt"/>
<line x1="201.70" y1="440.90" x2="199.40" y2="436.90" stroke="#a07aa0" stroke-width="0.9" stroke-linecap="butt"/>
<line x1="199.40" y1="436.90" x2="197.10" y2="432.90" stroke="#e6e600" stroke-width="0.9" stroke-linecap="butt"/>
<line x1="201.70" y1="440.90" x2="199.40" y2="444.85" stroke="#a07aa0" stroke-width="0.9" stroke-linecap="butt"/>
<line x1="199.40" y1="444.85" x2="197.10" y2="448.80" stroke="#e6e600" stroke-width="0.9" stroke-linecap="butt"/>
<line x1="201.70" y1="440.90" x2="206.23" y2="436.90" stroke="#a07aa0" stroke-width="0.9" stroke-linecap="butt"/>
<line x1="206.23" y1="436.90" x2="210.75" y2="432.90" stroke="#e6e600" stroke-width="0.9" stroke-linecap="butt"/>
<line x1="201.70" y1="440.90" x2="206.23" y2="444.85" stroke="#a07aa0" stroke-width="0.9" stroke-linecap="butt"/>
<line x1="206.23" y1="444.85" x2="210.75" y2="448.80" stroke="#e6e600" stroke-width="0.9" stroke-linecap="butt"/>
<line x1="215.35" y1="440.90" x2="213.05" y2="436.90" stroke="#a07aa0" stroke-width="0.9" stroke-linecap="butt"/>
<line x1="213.05" y1="436.90" x2="210.75" y2="432.90" stroke="#e6e600" stroke-width="0.9" stroke-linecap="butt"/>
<line x1="215.35" y1="440.90" x2="213.05" y2="444.85" stroke="#a07aa0" stroke-width="0.9" stroke-linecap="butt"/>
<line x1="213.05" y1="444.85" x2="210.75" y2="448.80" stroke="#e6e600" stroke-width="0.9" stroke-linecap="butt"/>
<line x1="215.35" y1="440.90" x2="219.88" y2="436.90" stroke="#a07aa0" stroke-width="0.9" stroke-linecap="butt"/>
<line x1="219.88" y1="436.90" x2="224.40" y2="432.90" stroke="#e6e600" stroke-width="0.9" stroke-linecap="butt"/>
<line x1="215.35" y1="440.90" x2="219.88" y2="444.85" stroke="#a07aa0" stroke-width="0.9" stroke-linecap="butt"/>
<line x1="219.88" y1="444.85" x2="224.40" y2="448.80" stroke="#e6e600" stroke-width="0.9" stroke-linecap="butt"/>
<line x1="229.00" y1="440.90" x2="226.70" y2="436.90" stroke="#a07aa0" stroke-width="0.9" stroke-linecap="butt"/>
<line x1="226.70" y1="436.90" x2="224.40" y2="432.90" stroke="#e6e600" stroke-width="0.9" stroke-linecap="butt"/>
<line x1="229.00" y1="440.90" x2="226.70" y2="444.85" stroke="#a07aa0" stroke-width="0.9" stroke-linecap="butt"/>
<line x1="226.70" y1="444.85" x2="224.40" y2="448.80" stroke="#e6e600" stroke-width="0.9" stroke-linecap="butt"/>
<line x1="229.00" y1="440.90" x2="233.53" y2="436.90" stroke="#a07aa0" stroke-width="0.9" stroke-linecap="butt"/>
<line x1="233.53" y1="436.90" x2="238.05" y2="432.90" stroke="#e6e600" stroke-width="0.9" stroke-linecap="butt"/>
<line x1="229.00" y1="440.90" x2="233.53" y2="444.85" stroke="#a07aa0" stroke-width="0.9" stroke-linecap="butt"/>
<line x1="233.53" y1="444.85" x2="238.05" y2="448.80" stroke="#e6e600" stroke-width="0.9" stroke-linecap="butt"/>
<line x1="242.65" y1="440.90" x2="240.35" y2="436.90" stroke="#a07aa0" stroke-width="0.9" stroke-linecap="butt"/>
<line x1="240.35" y1="436.90" x2="238.05" y2="432.90" stroke="#e6e600" stroke-width="0.9" stroke-linecap="butt"/>
<line x1="242.65" y1="440.90" x2="240.35" y2="444.85" stroke="#a07aa0" stroke-width="0.9" stroke-linecap="butt"/>
<line x1="240.35" y1="444.85" x2="238.05" y2="448.80" stroke="#e6e600" stroke-width="0.9" stroke-linecap="butt"/>
<line x1="242.65" y1="440.90" x2="247.18" y2="436.90" stroke="#a07aa0" stroke-width="0.9" stroke-linecap="butt"/>
<line x1="247.18" y1="436.90" x2="251.70" y2="432.90" stroke="#e6e600" stroke-width="0.9" stroke-linecap="butt"/>
<line x1="242.65" y1="440.90" x2="247.18" y2="444.85" stroke="#a07aa0" stroke-width="0.9" stroke-linecap="butt"/>
<line x1="247.18" y1="444.85" x2="251.70" y2="448.80" stroke="#e6e600" stroke-width="0.9" stroke-linecap="butt"/>
<line x1="256.30" y1="440.90" x2="254.00" y2="436.90" stroke="#a07aa0" stroke-width="0.9" stroke-linecap="butt"/>
<line x1="254.00" y1="436.90" x2="251.70" y2="432.90" stroke="#e6e600" stroke-width="0.9" stroke-linecap="butt"/>
<line x1="256.30" y1="440.90" x2="254.00" y2="444.85" stroke="#a07aa0" stroke-width="0.9" stroke-linecap="butt"/>
<line x1="254.00" y1="444.85" x2="251.70" y2="448.80" stroke="#e6e600" stroke-width="0.9" stroke-linecap="butt"/>
<line x1="256.30" y1="440.90" x2="260.83" y2="436.90" stroke="#a07aa0" stroke-width="0.9" stroke-linecap="butt"/>
<line x1="260.83" y1="436.90" x2="265.35" y2="432.90" stroke="#e6e600" stroke-width="0.9" stroke-linecap="butt"/>
<line x1="256.30" y1="440.90" x2="260.83" y2="444.85" stroke="#a07aa0" stroke-width="0.9" stroke-linecap="butt"/>
<line x1="260.83" y1="444.85" x2="265.35" y2="448.80" stroke="#e6e600" stroke-width="0.9" stroke-linecap="butt"/>
<line x1="269.95" y1="440.90" x2="267.65" y2="436.90" stroke="#a07aa0" stroke-width="0.9" stroke-linecap="butt"/>
<line x1="267.65" y1="436.90" x2="265.35" y2="432.90" stroke="#e6e600" stroke-width="0.9" stroke-linecap="butt"/>
<line x1="269.95" y1="440.90" x2="267.65" y2="444.85" stroke="#a07aa0" stroke-width="0.9" stroke-linecap="butt"/>
<line x1="267.65" y1="444.85" x2="265.35" y2="448.80" stroke="#e6e600" stroke-width="0.9" stroke-linecap="butt"/>
<line x1="269.95" y1="440.90" x2="274.48" y2="436.90" stroke="#a07aa0" stroke-width="0.9" stroke-linecap="butt"/>
<line x1="274.48" y1="436.90" x2="279.00" y2="432.90" stroke="#e6e600" stroke-width="0.9" stroke-linecap="butt"/>
<line x1="269.95" y1="440.90" x2="274.48" y2="444.85" stroke="#a07aa0" stroke-width="0.9" stroke-linecap="butt"/>
<line x1="274.48" y1="444.85" x2="279.00" y2="448.80" stroke="#e6e600" stroke-width="0.9" stroke-linecap="butt"/>
<line x1="283.60" y1="440.90" x2="281.30" y2="436.90" stroke="#a07aa0" stroke-width="0.9" stroke-linecap="butt"/>
<line x1="281.30" y1="436.90" x2="279.00" y2="432.90" stroke="#e6e600" stroke-width="0.9" stroke-linecap="butt"/>
<line x1="283.60" y1="440.90" x2="281.30" y2="444.85" stroke="#a07aa0" stroke-width="0.9" stroke-linecap="butt"/>
<line x1="281.30" y1="444.85" x2="279.00" y2="448.80" stroke="#e6e600" stroke-width="0.9" stroke-linecap="butt"/>
<line x1="283.60" y1="440.90" x2="288.12" y2="436.90" stroke="#a07aa0" stroke-width="0.9" stroke-linecap="butt"/>
<line x1="288.12" y1="436.90" x2="292.65" y2="432.90" stroke="#e6e600" stroke-width="0.9" stroke-linecap="butt"/>
<line x1="283.60" y1="440.90" x2="288.12" y2="444.85" stroke="#a07aa0" stroke-width="0.9" stroke-linecap="butt"/>
<line x1="288.12" y1="444.85" x2="292.65" y2="448.80" stroke="#e6e600" stroke-width="0.9" stroke-linecap="butt"/>
<line x1="297.25" y1="440.90" x2="294.95" y2="436.90" stroke="#a07aa0" stroke-width="0.9" stroke-linecap="butt"/>
<line x1="294.95" y1="436.90" x2="292.65" y2="432.90" stroke="#e6e600" stroke-width="0.9" stroke-linecap="butt"/>
<line x1="297.25" y1="440.90" x2="294.95" y2="444.85" stroke="#a07aa0" stroke-width="0.9" stroke-linecap="butt"/>
<line x1="294.95" y1="444.85" x2="292.65" y2="448.80" stroke="#e6e600" stroke-width="0.9" stroke-linecap="butt"/>
<line x1="297.25" y1="440.90" x2="301.77" y2="436.90" stroke="#a07aa0" stroke-width="0.9" stroke-linecap="butt"/>
<line x1="301.77" y1="436.90" x2="306.30" y2="432.90" stroke="#e6e600" stroke-width="0.9" stroke-linecap="butt"/>
<line x1="297.25" y1="440.90" x2="301.77" y2="444.85" stroke="#a07aa0" stroke-width="0.9" stroke-linecap="butt"/>
<line x1="301.77" y1="444.85" x2="306.30" y2="448.80" stroke="#e6e600" stroke-width="0.9" stroke-linecap="butt"/>
<line x1="310.90" y1="440.90" x2="308.60" y2="436.90" stroke="#a07aa0" stroke-width="0.9" stroke-linecap="butt"/>
<line x1="308.60" y1="436.90" x2="306.30" y2="432.90" stroke="#e6e600" stroke-width="0.9" stroke-linecap="butt"/>
<line x1="310.90" y1="440.90" x2="308.60" y2="444.85" stroke="#a07aa0" stroke-width="0.9" stroke-linecap="butt"/>
<line x1="308.60" y1="444.85" x2="306.30" y2="448.80" stroke="#e6e600" stroke-width="0.9" stroke-linecap="butt"/>
<line x1="310.90" y1="440.90" x2="315.43" y2="436.90" stroke="#a07aa0" stroke-width="0.9" stroke-linecap="butt"/>
<line x1="315.43" y1="436.90" x2="319.95" y2="432.90" stroke="#e6e600" stroke-width="0.9" stroke-linecap="butt"/>
<line x1="310.90" y1="440.90" x2="315.43" y2="444.85" stroke="#a07aa0" stroke-width="0.9" stroke-linecap="butt"/>
<line x1="315.43" y1="444.85" x2="319.95" y2="448.80" stroke="#e6e600" stroke-width="0.9" stroke-linecap="butt"/>
<line x1="324.55" y1="440.90" x2="322.25" y2="436.90" stroke="#a07aa0" stroke-width="0.9" stroke-linecap="butt"/>
<line x1="322.25" y1="436.90" x2="319.95" y2="432.90" stroke="#e6e600" stroke-width="0.9" stroke-linecap="butt"/>
<line x1="324.55" y1="440.90" x2="322.25" y2="444.85" stroke="#a07aa0" stroke-width="0.9" stroke-linecap="butt"/>
<line x1="322.25" y1="444.85" x2="319.95" y2="448.80" stroke="#e6e600" stroke-width="0.9" stroke-linecap="butt"/>
<line x1="324.55" y1="440.90" x2="329.08" y2="436.90" stroke="#a07aa0" stroke-width="0.9" stroke-linecap="butt"/>
<line x1="329.08" y1="436.90" x2="333.60" y2="432.90" stroke="#e6e600" stroke-width="0.9" stroke-linecap="butt"/>
<line x1="324.55" y1="440.90" x2="329.08" y2="444.85" stroke="#a07aa0" stroke-width="0.9" stroke-linecap="butt"/>
<line x1="329.08" y1="444.85" x2="333.60" y2="448.80" stroke="#e6e600" stroke-width="0.9" stroke-linecap="butt"/>
<line x1="338.20" y1="440.90" x2="335.90" y2="436.90" stroke="#a07aa0" stroke-width="0.9" stroke-linecap="butt"/>
<line x1="335.90" y1="436.90" x2="333.60" y2="432.90" stroke="#e6e600" stroke-width="0.9" stroke-linecap="butt"/>
<line x1="338.20" y1="440.90" x2="335.90" y2="444.85" stroke="#a07aa0" stroke-width="0.9" stroke-linecap="butt"/>
<line x1="335.90" y1="444.85" x2="333.60" y2="448.80" stroke="#e6e600" stroke-width="0.9" stroke-linecap="butt"/>
<line x1="338.20" y1="440.90" x2="342.73" y2="436.90" stroke="#a07aa0" stroke-width="0.9" stroke-linecap="butt"/>
<line x1="342.73" y1="436.90" x2="347.25" y2="432.90" stroke="#e6e600" stroke-width="0.9" stroke-linecap="butt"/>
<line x1="338.20" y1="440.90" x2="342.73" y2="444.85" stroke="#a07aa0" stroke-width="0.9" stroke-linecap="butt"/>
<line x1="342.73" y1="444.85" x2="347.25" y2="448.80" stroke="#e6e600" stroke-width="0.9" stroke-linecap="butt"/>
<line x1="351.85" y1="440.90" x2="349.55" y2="436.90" stroke="#a07aa0" stroke-width="0.9" stroke-linecap="butt"/>
<line x1="349.55" y1="436.90" x2="347.25" y2="432.90" stroke="#e6e600" stroke-width="0.9" stroke-linecap="butt"/>
<line x1="351.85" y1="440.90" x2="349.55" y2="444.85" stroke="#a07aa0" stroke-width="0.9" stroke-linecap="butt"/>
<line x1="349.55" y1="444.85" x2="347.25" y2="448.80" stroke="#e6e600" stroke-width="0.9" stroke-linecap="butt"/>
<line x1="351.85" y1="440.90" x2="356.38" y2="436.90" stroke="#a07aa0" stroke-width="0.9" stroke-linecap="butt"/>
<line x1="356.38" y1="436.90" x2="360.90" y2="432.90" stroke="#e6e600" stroke-width="0.9" stroke-linecap="butt"/>
<line x1="351.85" y1="440.90" x2="356.38" y2="444.85" stroke="#a07aa0" stroke-width="0.9" stroke-linecap="butt"/>
<line x1="356.38" y1="444.85" x2="360.90" y2="448.80" stroke="#e6e600" stroke-width="0.9" stroke-linecap="butt"/>
<line x1="365.50" y1="440.90" x2="363.20" y2="436.90" stroke="#a07aa0" stroke-width="0.9" stroke-linecap="butt"/>
<line x1="363.20" y1="436.90" x2="360.90" y2="432.90" stroke="#e6e600" stroke-width="0.9" stroke-linecap="butt"/>
<line x1="365.50" y1="440.90" x2="363.20" y2="444.85" stroke="#a07aa0" stroke-width="0.9" stroke-linecap="butt"/>
<line x1="363.20" y1="444.85" x2="360.90" y2="448.80" stroke="#e6e600" stroke-width="0.9" stroke-linecap="butt"/>
<line x1="365.50" y1="440.90" x2="370.02" y2="436.90" stroke="#a07aa0" stroke-width="0.9" stroke-linecap="butt"/>
<line x1="370.02" y1="436.90" x2="374.55" y2="432.90" stroke="#e6e600" stroke-width="0.9" stroke-linecap="butt"/>
<line x1="365.50" y1="440.90" x2="370.02" y2="444.85" stroke="#a07aa0" stroke-width="0.9" stroke-linecap="butt"/>
<line x1="370.02" y1="444.85" x2="374.55" y2="448.80" stroke="#e6e600" stroke-width="0.9" stroke-linecap="butt"/>
<line x1="379.15" y1="440.90" x2="376.85" y2="436.90" stroke="#a07aa0" stroke-width="0.9" stroke-linecap="butt"/>
<line x1="376.85" y1="436.90" x2="374.55" y2="432.90" stroke="#e6e600" stroke-width="0.9" stroke-linecap="butt"/>
<line x1="379.15" y1="440.90" x2="376.85" y2="444.85" stroke="#a07aa0" stroke-width="0.9" stroke-linecap="butt"/>
<line x1="376.85" y1="444.85" x2="374.55" y2="448.80" stroke="#e6e600" stroke-width="0.9" stroke-linecap="butt"/>
<line x1="379.15" y1="440.90" x2="383.68" y2="436.90" stroke="#a07aa0" stroke-width="0.9" stroke-linecap="butt"/>
<line x1="383.68" y1="436.90" x2="388.20" y2="432.90" stroke="#e6e600" stroke-width="0.9" stroke-linecap="butt"/>
<line x1="379.15" y1="440.90" x2="383.68" y2="444.85" stroke="#a07aa0" stroke-width="0.9" stroke-linecap="butt"/>
<line x1="383.68" y1="444.85" x2="388.20" y2="448.80" stroke="#e6e600" stroke-width="0.9" stroke-linecap="butt"/>
<line x1="392.80" y1="440.90" x2="390.50" y2="436.90" stroke="#a07aa0" stroke-width="0.9" stroke-linecap="butt"/>
<line x1="390.50" y1="436.90" x2="388.20" y2="432.90" stroke="#e6e600" stroke-width="0.9" stroke-linecap="butt"/>
<line x1="392.80" y1="440.90" x2="390.50" y2="444.85" stroke="#a07aa0" stroke-width="0.9" stroke-linecap="butt"/>
<line x1="390.50" y1="444.85" x2="388.20" y2="448.80" stroke="#e6e600" stroke-width="0.9" stroke-linecap="butt"/>
<line x1="392.80" y1="440.90" x2="397.33" y2="436.90" stroke="#a07aa0" stroke-width="0.9" stroke-linecap="butt"/>
<line x1="397.33" y1="436.90" x2="401.85" y2="432.90" stroke="#e6e600" stroke-width="0.9" stroke-linecap="butt"/>
<line x1="392.80" y1="440.90" x2="397.33" y2="444.85" stroke="#a07aa0" stroke-width="0.9" stroke-linecap="butt"/>
<line x1="397.33" y1="444.85" x2="401.85" y2="448.80" stroke="#e6e600" stroke-width="0.9" stroke-linecap="butt"/>
<line x1="406.45" y1="440.90" x2="404.15" y2="436.90" stroke="#a07aa0" stroke-width="0.9" stroke-linecap="butt"/>
<line x1="404.15" y1="436.90" x2="401.85" y2="432.90" stroke="#e6e600" stroke-width="0.9" stroke-linecap="butt"/>
<line x1="406.45" y1="440.90" x2="404.15" y2="444.85" stroke="#a07aa0" stroke-width="0.9" stroke-linecap="butt"/>
<line x1="404.15" y1="444.85" x2="401.85" y2="448.80" stroke="#e6e600" stroke-width="0.9" stroke-linecap="butt"/>
<line x1="406.45" y1="440.90" x2="410.98" y2="436.90" stroke="#a07aa0" stroke-width="0.9" stroke-linecap="butt"/>
<line x1="410.98" y1="436.90" x2="415.50" y2="432.90" stroke="#e6e600" stroke-width="0.9" stroke-linecap="butt"/>
<line x1="406.45" y1="440.90" x2="410.98" y2="444.85" stroke="#a07aa0" stroke-width="0.9" stroke-linecap="butt"/>
<line x1="410.98" y1="444.85" x2="415.50" y2="448.80" stroke="#e6e600" stroke-width="0.9" stroke-linecap="butt"/>
<line x1="420.10" y1="440.90" x2="417.80" y2="436.90" stroke="#a07aa0" stroke-width="0.9" stroke-linecap="butt"/>
<line x1="417.80" y1="436.90" x2="415.50" y2="432.90" stroke="#e6e600" stroke-width="0.9" stroke-linecap="butt"/>
<line x1="420.10" y1="440.90" x2="417.80" y2="444.85" stroke="#a07aa0" stroke-width="0.9" stroke-linecap="butt"/>
<line x1="417.80" y1="444.85" x2="415.50" y2="448.80" stroke="#e6e600" stroke-width="0.9" stroke-linecap="butt"/>
<line x1="420.10" y1="440.90" x2="424.62" y2="436.90" stroke="#a07aa0" stroke-width="0.9" stroke-linecap="butt"/>
<line x1="424.62" y1="436.90" x2="429.15" y2="432.90" stroke="#e6e600" stroke-width="0.9" stroke-linecap="butt"/>
<line x1="420.10" y1="440.90" x2="424.62" y2="444.85" stroke="#a07aa0" stroke-width="0.9" stroke-linecap="butt"/>
<line x1="424.62" y1="444.85" x2="429.15" y2="448.80" stroke="#e6e600" stroke-width="0.9" stroke-linecap="butt"/>
<line x1="433.75" y1="440.90" x2="431.45" y2="436.90" stroke="#a07aa0" stroke-width="0.9" stroke-linecap="butt"/>
<line x1="431.45" y1="436.90" x2="429.15" y2="432.90" stroke="#e6e600" stroke-width="0.9" stroke-linecap="butt"/>
<line x1="433.75" y1="440.90" x2="431.45" y2="444.85" stroke="#a07aa0" stroke-width="0.9" stroke-linecap="butt"/>
<line x1="431.45" y1="444.85" x2="429.15" y2="448.80" stroke="#e6e600" stroke-width="0.9" stroke-linecap="butt"/>
<line x1="433.75" y1="440.90" x2="438.27" y2="436.90" stroke="#a07aa0" stroke-width="0.9" stroke-linecap="butt"/>
<line x1="438.27" y1="436.90" x2="442.80" y2="432.90" stroke="#e6e600" stroke-width="0.9" stroke-linecap="butt"/>
<line x1="433.75" y1="440.90" x2="438.27" y2="444.85" stroke="#a07aa0" stroke-width="0.9" stroke-linecap="butt"/>
<line x1="438.27" y1="444.85" x2="442.80" y2="448.80" stroke="#e6e600" stroke-width="0.9" stroke-linecap="butt"/>
<line x1="447.40" y1="440.90" x2="445.10" y2="436.90" stroke="#a07aa0" stroke-width="0.9" stroke-linecap="butt"/>
<line x1="445.10" y1="436.90" x2="442.80" y2="432.90" stroke="#e6e600" stroke-width="0.9" stroke-linecap="butt"/>
<line x1="447.40" y1="440.90" x2="445.10" y2="444.85" stroke="#a07aa0" stroke-width="0.9" stroke-linecap="butt"/>
<line x1="445.10" y1="444.85" x2="442.80" y2="448.80" stroke="#e6e600" stroke-width="0.9" stroke-linecap="butt"/>
<line x1="447.40" y1="440.90" x2="451.93" y2="436.90" stroke="#a07aa0" stroke-width="0.9" stroke-linecap="butt"/>
<line x1="451.93" y1="436.90" x2="456.45" y2="432.90" stroke="#e6e600" stroke-width="0.9" stroke-linecap="butt"/>
<line x1="447.40" y1="440.90" x2="451.93" y2="444.85" stroke="#a07aa0" stroke-width="0.9" stroke-linecap="butt"/>
<line x1="451.93" y1="444.85" x2="456.45" y2="448.80" stroke="#e6e600" stroke-width="0.9" stroke-linecap="butt"/>
<line x1="461.05" y1="440.90" x2="458.75" y2="436.90" stroke="#a07aa0" stroke-width="0.9" stroke-linecap="butt"/>
<line x1="458.75" y1="436.90" x2="456.45" y2="432.90" stroke="#e6e600" stroke-width="0.9" stroke-linecap="butt"/>
<line x1="461.05" y1="440.90" x2="458.75" y2="444.85" stroke="#a07aa0" stroke-width="0.9" stroke-linecap="butt"/>
<line x1="458.75" y1="444.85" x2="456.45" y2="448.80" stroke="#e6e600" stroke-width="0.9" stroke-linecap="butt"/>
<line x1="461.05" y1="440.90" x2="465.58" y2="436.90" stroke="#a07aa0" stroke-width="0.9" stroke-linecap="butt"/>
<line x1="465.58" y1="436.90" x2="470.10" y2="432.90" stroke="#e6e600" stroke-width="0.9" stroke-linecap="butt"/>
<line x1="461.05" y1="440.90" x2="465.58" y2="444.85" stroke="#a07aa0" stroke-width="0.9" stroke-linecap="butt"/>
<line x1="465.58" y1="444.85" x2="470.10" y2="448.80" stroke="#e6e600" stroke-width="0.9" stroke-linecap="butt"/>
<line x1="474.70" y1="440.90" x2="472.40" y2="436.90" stroke="#a07aa0" stroke-width="0.9" stroke-linecap="butt"/>
<line x1="472.40" y1="436.90" x2="470.10" y2="432.90" stroke="#e6e600" stroke-width="0.9" stroke-linecap="butt"/>
<line x1="474.70" y1="440.90" x2="472.40" y2="444.85" stroke="#a07aa0" stroke-width="0.9" stroke-linecap="butt"/>
<line x1="472.40" y1="444.85" x2="470.10" y2="448.80" stroke="#e6e600" stroke-width="0.9" stroke-linecap="butt"/>
<line x1="474.70" y1="440.90" x2="479.23" y2="436.90" stroke="#a07aa0" stroke-width="0.9" stroke-linecap="butt"/>
<line x1="479.23" y1="436.90" x2="483.75" y2="432.90" stroke="#e6e600" stroke-width="0.9" stroke-linecap="butt"/>
<line x1="474.70" y1="440.90" x2="479.23" y2="444.85" stroke="#a07aa0" stroke-width="0.9" stroke-linecap="butt"/>
<line x1="479.23" y1="444.85" x2="483.75" y2="448.80" stroke="#e6e600" stroke-width="0.9" stroke-linecap="butt"/>
<line x1="488.35" y1="440.90" x2="486.05" y2="436.90" stroke="#a07aa0" stroke-width="0.9" stroke-linecap="butt"/>
<line x1="486.05" y1="436.90" x2="483.75" y2="432.90" stroke="#e6e600" stroke-width="0.9" stroke-linecap="butt"/>
<line x1="488.35" y1="440.90" x2="486.05" y2="444.85" stroke="#a07aa0" stroke-width="0.9" stroke-linecap="butt"/>
<line x1="486.05" y1="444.85" x2="483.75" y2="448.80" stroke="#e6e600" stroke-width="0.9" stroke-linecap="butt"/>
<line x1="488.35" y1="440.90" x2="492.88" y2="436.90" stroke="#a07aa0" stroke-width="0.9" stroke-linecap="butt"/>
<line x1="492.88" y1="436.90" x2="497.40" y2="432.90" stroke="#e6e600" stroke-width="0.9" stroke-linecap="butt"/>
<line x1="488.35" y1="440.90" x2="492.88" y2="444.85" stroke="#a07aa0" stroke-width="0.9" stroke-linecap="butt"/>
<line x1="492.88" y1="444.85" x2="497.40" y2="448.80" stroke="#e6e600" stroke-width="0.9" stroke-linecap="butt"/>
<line x1="502.00" y1="440.90" x2="499.70" y2="436.90" stroke="#a07aa0" stroke-width="0.9" stroke-linecap="butt"/>
<line x1="499.70" y1="436.90" x2="497.40" y2="432.90" stroke="#e6e600" stroke-width="0.9" stroke-linecap="butt"/>
<line x1="502.00" y1="440.90" x2="499.70" y2="444.85" stroke="#a07aa0" stroke-width="0.9" stroke-linecap="butt"/>
<line x1="499.70" y1="444.85" x2="497.40" y2="448.80" stroke="#e6e600" stroke-width="0.9" stroke-linecap="butt"/>
<line x1="502.00" y1="440.90" x2="506.52" y2="436.90" stroke="#a07aa0" stroke-width="0.9" stroke-linecap="butt"/>
<line x1="506.52" y1="436.90" x2="511.05" y2="432.90" stroke="#e6e600" stroke-width="0.9" stroke-linecap="butt"/>
<line x1="502.00" y1="440.90" x2="506.52" y2="444.85" stroke="#a07aa0" stroke-width="0.9" stroke-linecap="butt"/>
<line x1="506.52" y1="444.85" x2="511.05" y2="448.80" stroke="#e6e600" stroke-width="0.9" stroke-linecap="butt"/>
<line x1="515.65" y1="440.90" x2="513.35" y2="436.90" stroke="#a07aa0" stroke-width="0.9" stroke-linecap="butt"/>
<line x1="513.35" y1="436.90" x2="511.05" y2="432.90" stroke="#e6e600" stroke-width="0.9" stroke-linecap="butt"/>
<line x1="515.65" y1="440.90" x2="513.35" y2="444.85" stroke="#a07aa0" stroke-width="0.9" stroke-linecap="butt"/>
<line x1="513.35" y1="444.85" x2="511.05" y2="448.80" stroke="#e6e600" stroke-width="0.9" stroke-linecap="butt"/>
<line x1="515.65" y1="440.90" x2="520.17" y2="436.90" stroke="#a07aa0" stroke-width="0.9" stroke-linecap="butt"/>
<line x1="520.17" y1="436.90" x2="524.70" y2="432.90" stroke="#e6e600" stroke-width="0.9" stroke-linecap="butt"/>
<line x1="515.65" y1="440.90" x2="520.17" y2="444.85" stroke="#a07aa0" stroke-width="0.9" stroke-linecap="butt"/>
<line x1="520.17" y1="444.85" x2="524.70" y2="448.80" stroke="#e6e600" stroke-width="0.9" stroke-linecap="butt"/>
<circle cx="169.80" cy="432.90" r="1.6" fill="#ffff20" stroke="#b4b400" stroke-width="0.8"/>
<circle cx="169.80" cy="448.80" r="1.6" fill="#ffff20" stroke="#b4b400" stroke-width="0.8"/>
<circle cx="183.45" cy="432.90" r="1.6" fill="#ffff20" stroke="#b4b400" stroke-width="0.8"/>
<circle cx="183.45" cy="448.80" r="1.6" fill="#ffff20" stroke="#b4b400" stroke-width="0.8"/>
<circle cx="197.10" cy="432.90" r="1.6" fill="#ffff20" stroke="#b4b400" stroke-width="0.8"/>
<circle cx="197.10" cy="448.80" r="1.6" fill="#ffff20" stroke="#b4b400" stroke-width="0.8"/>
<circle cx="210.75" cy="432.90" r="1.6" fill="#ffff20" stroke="#b4b400" stroke-width="0.8"/>
<circle cx="210.75" cy="448.80" r="1.6" fill="#ffff20" stroke="#b4b400" stroke-width="0.8"/>
<circle cx="224.40" cy="432.90" r="1.6" fill="#ffff20" stroke="#b4b400" stroke-width="0.8"/>
<circle cx="224.40" cy="448.80" r="1.6" fill="#ffff20" stroke="#b4b400" stroke-width="0.8"/>
<circle cx="238.05" cy="432.90" r="1.6" fill="#ffff20" stroke="#b4b400" stroke-width="0.8"/>
<circle cx="238.05" cy="448.80" r="1.6" fill="#ffff20" stroke="#b4b400" stroke-width="0.8"/>
<circle cx="251.70" cy="432.90" r="1.6" fill="#ffff20" stroke="#b4b400" stroke-width="0.8"/>
<circle cx="251.70" cy="448.80" r="1.6" fill="#ffff20" stroke="#b4b400" stroke-width="0.8"/>
<circle cx="265.35" cy="432.90" r="1.6" fill="#ffff20" stroke="#b4b400" stroke-width="0.8"/>
<circle cx="265.35" cy="448.80" r="1.6" fill="#ffff20" stroke="#b4b400" stroke-width="0.8"/>
<circle cx="279.00" cy="432.90" r="1.6" fill="#ffff20" stroke="#b4b400" stroke-width="0.8"/>
<circle cx="279.00" cy="448.80" r="1.6" fill="#ffff20" stroke="#b4b400" stroke-width="0.8"/>
<circle cx="292.65" cy="432.90" r="1.6" fill="#ffff20" stroke="#b4b400" stroke-width="0.8"/>
<circle cx="292.65" cy="448.80" r="1.6" fill="#ffff20" stroke="#b4b400" stroke-width="0.8"/>
<circle cx="306.30" cy="432.90" r="1.6" fill="#ffff20" stroke="#b4b400" stroke-width="0.8"/>
<circle cx="306.30" cy="448.80" r="1.6" fill="#ffff20" stroke="#b4b400" stroke-width="0.8"/>
<circle cx="319.95" cy="432.90" r="1.6" fill="#ffff20" stroke="#b4b400" stroke-width="0.8"/>
<circle cx="319.95" cy="448.80" r="1.6" fill="#ffff20" stroke="#b4b400" stroke-width="0.8"/>
<circle cx="333.60" cy="432.90" r="1.6" fill="#ffff20" stroke="#b4b400" stroke-width="0.8"/>
<circle cx="333.60" cy="448.80" r="1.6" fill="#ffff20" stroke="#b4b400" stroke-width="0.8"/>
<circle cx="347.25" cy="432.90" r="1.6" fill="#ffff20" stroke="#b4b400" stroke-width="0.8"/>
<circle cx="347.25" cy="448.80" r="1.6" fill="#ffff20" stroke="#b4b400" stroke-width="0.8"/>
<circle cx="360.90" cy="432.90" r="1.6" fill="#ffff20" stroke="#b4b400" stroke-width="0.8"/>
<circle cx="360.90" cy="448.80" r="1.6" fill="#ffff20" stroke="#b4b400" stroke-width="0.8"/>
<circle cx="374.55" cy="432.90" r="1.6" fill="#ffff20" stroke="#b4b400" stroke-width="0.8"/>
<circle cx="374.55" cy="448.80" r="1.6" fill="#ffff20" stroke="#b4b400" stroke-width="0.8"/>
<circle cx="388.20" cy="432.90" r="1.6" fill="#ffff20" stroke="#b4b400" stroke-width="0.8"/>
<circle cx="388.20" cy="448.80" r="1.6" fill="#ffff20" stroke="#b4b400" stroke-width="0.8"/>
<circle cx="401.85" cy="432.90" r="1.6" fill="#ffff20" stroke="#b4b400" stroke-width="0.8"/>
<circle cx="401.85" cy="448.80" r="1.6" fill="#ffff20" stroke="#b4b400" stroke-width="0.8"/>
<circle cx="415.50" cy="432.90" r="1.6" fill="#ffff20" stroke="#b4b400" stroke-width="0.8"/>
<circle cx="415.50" cy="448.80" r="1.6" fill="#ffff20" stroke="#b4b400" stroke-width="0.8"/>
<circle cx="429.15" cy="432.90" r="1.6" fill="#ffff20" stroke="#b4b400" stroke-width="0.8"/>
<circle cx="429.15" cy="448.80" r="1.6" fill="#ffff20" stroke="#b4b400" stroke-width="0.8"/>
<circle cx="442.80" cy="432.90" r="1.6" fill="#ffff20" stroke="#b4b400" stroke-width="0.8"/>
<circle cx="442.80" cy="448.80" r="1.6" fill="#ffff20" stroke="#b4b400" stroke-width="0.8"/>
<circle cx="456.45" cy="432.90" r="1.6" fill="#ffff20" stroke="#b4b400" stroke-width="0.8"/>
<circle cx="456.45" cy="448.80" r="1.6" fill="#ffff20" stroke="#b4b400" stroke-width="0.8"/>
<circle cx="470.10" cy="432.90" r="1.6" fill="#ffff20" stroke="#b4b400" stroke-width="0.8"/>
<circle cx="470.10" cy="448.80" r="1.6" fill="#ffff20" stroke="#b4b400" stroke-width="0.8"/>
<circle cx="483.75" cy="432.90" r="1.6" fill="#ffff20" stroke="#b4b400" stroke-width="0.8"/>
<circle cx="483.75" cy="448.80" r="1.6" fill="#ffff20" stroke="#b4b400" stroke-width="0.8"/>
<circle cx="497.40" cy="432.90" r="1.6" fill="#ffff20" stroke="#b4b400" stroke-width="0.8"/>
<circle cx="497.40" cy="448.80" r="1.6" fill="#ffff20" stroke="#b4b400" stroke-width="0.8"/>
<circle cx="511.05" cy="432.90" r="1.6" fill="#ffff20" stroke="#b4b400" stroke-width="0.8"/>
<circle cx="511.05" cy="448.80" r="1.6" fill="#ffff20" stroke="#b4b400" stroke-width="0.8"/>
<circle cx="524.70" cy="432.90" r="1.6" fill="#ffff20" stroke="#b4b400" stroke-width="0.8"/>
<circle cx="524.70" cy="448.80" r="1.6" fill="#ffff20" stroke="#b4b400" stroke-width="0.8"/>
<circle cx="174.40" cy="440.90" r="2.0" fill="#f6eef6" stroke="#9a709a" stroke-width="1.3"/>
<circle cx="188.05" cy="440.90" r="2.0" fill="#f6eef6" stroke="#9a709a" stroke-width="1.3"/>
<circle cx="201.70" cy="440.90" r="2.0" fill="#f6eef6" stroke="#9a709a" stroke-width="1.3"/>
<circle cx="215.35" cy="440.90" r="2.0" fill="#f6eef6" stroke="#9a709a" stroke-width="1.3"/>
<circle cx="229.00" cy="440.90" r="2.0" fill="#f6eef6" stroke="#9a709a" stroke-width="1.3"/>
<circle cx="242.65" cy="440.90" r="2.0" fill="#f6eef6" stroke="#9a709a" stroke-width="1.3"/>
<circle cx="256.30" cy="440.90" r="2.0" fill="#f6eef6" stroke="#9a709a" stroke-width="1.3"/>
<circle cx="269.95" cy="440.90" r="2.0" fill="#f6eef6" stroke="#9a709a" stroke-width="1.3"/>
<circle cx="283.60" cy="440.90" r="2.0" fill="#f6eef6" stroke="#9a709a" stroke-width="1.3"/>
<circle cx="297.25" cy="440.90" r="2.0" fill="#f6eef6" stroke="#9a709a" stroke-width="1.3"/>
<circle cx="310.90" cy="440.90" r="2.0" fill="#f6eef6" stroke="#9a709a" stroke-width="1.3"/>
<circle cx="324.55" cy="440.90" r="2.0" fill="#f6eef6" stroke="#9a709a" stroke-width="1.3"/>
<circle cx="338.20" cy="440.90" r="2.0" fill="#f6eef6" stroke="#9a709a" stroke-width="1.3"/>
<circle cx="351.85" cy="440.90" r="2.0" fill="#f6eef6" stroke="#9a709a" stroke-width="1.3"/>
<circle cx="365.50" cy="440.90" r="2.0" fill="#f6eef6" stroke="#9a709a" stroke-width="1.3"/>
<circle cx="379.15" cy="440.90" r="2.0" fill="#f6eef6" stroke="#9a709a" stroke-width="1.3"/>
<circle cx="392.80" cy="440.90" r="2.0" fill="#f6eef6" stroke="#9a709a" stroke-width="1.3"/>
<circle cx="406.45" cy="440.90" r="2.0" fill="#f6eef6" stroke="#9a709a" stroke-width="1.3"/>
<circle cx="420.10" cy="440.90" r="2.0" fill="#f6eef6" stroke="#9a709a" stroke-width="1.3"/>
<circle cx="433.75" cy="440.90" r="2.0" fill="#f6eef6" stroke="#9a709a" stroke-width="1.3"/>
<circle cx="447.40" cy="440.90" r="2.0" fill="#f6eef6" stroke="#9a709a" stroke-width="1.3"/>
<circle cx="461.05" cy="440.90" r="2.0" fill="#f6eef6" stroke="#9a709a" stroke-width="1.3"/>
<circle cx="474.70" cy="440.90" r="2.0" fill="#f6eef6" stroke="#9a709a" stroke-width="1.3"/>
<circle cx="488.35" cy="440.90" r="2.0" fill="#f6eef6" stroke="#9a709a" stroke-width="1.3"/>
<circle cx="502.00" cy="440.90" r="2.0" fill="#f6eef6" stroke="#9a709a" stroke-width="1.3"/>
<circle cx="515.65" cy="440.90" r="2.0" fill="#f6eef6" stroke="#9a709a" stroke-width="1.3"/>
<text x="339.29" y="386.00" font-size="26">G</text>
<text x="319.95" y="418.00" font-size="26">Al</text>
<text x="342.47" y="427.50" font-size="16.5">2</text>
<text x="350.77" y="418.00" font-size="26">O</text>
<text x="370.97" y="427.50" font-size="16.5">3</text>
<text x="214.92" y="428.80" font-size="26">S</text>
<text x="468.67" y="428.80" font-size="26">D</text>
<text x="308.82" y="495.80" font-size="26" fill="#fff">SiO</text>
<text x="351.42" y="504.60" font-size="15.5" fill="#fff">2</text>
<text x="361.00" y="495.80" font-size="26" fill="#fff">/Si</text>
<text x="545.65" y="451.00" font-size="31">high</text>
<text x="614.57" y="451.00" font-size="31" font-style="italic">I</text>
<text x="621.22" y="461.80" font-size="18.5">on</text>
<text x="682.04" y="33.80" font-size="46">b</text>
<g>
<rect x="892.00" y="335.10" width="146.80" height="147.80" fill="#9a5e69"/>
<path d="M930,383 L933,372 L945,368 L955,364 L963,361 L963,384 Z" fill="#7a4e5c"/>
<path d="M918,395 L933,395 L933,400 L918,400 Z" fill="#7a4e5c"/>
<rect x="892.00" y="397.80" width="40.00" height="30.60" fill="#e8a666"/>
<rect x="1005.00" y="400.40" width="33.80" height="30.60" fill="#e6a862"/>
<rect x="962.80" y="335.10" width="14.00" height="49.00" fill="#f0b872"/>
<rect x="931.80" y="383.30" width="74.20" height="63.50" fill="#f5cd72"/>
<rect x="931.80" y="383.30" width="15.00" height="16.00" fill="#efbc74"/>
<rect x="990.50" y="383.30" width="15.50" height="16.50" fill="#efbc74"/>
<rect x="931.80" y="430.50" width="14.00" height="16.30" fill="#efbc74"/>
<rect x="990.50" y="430.50" width="15.50" height="16.30" fill="#efbc74"/>
<rect x="962.30" y="383.30" width="12.40" height="63.50" fill="#f0bd78"/>
<rect x="1004.60" y="469.20" width="27.20" height="5.70" fill="#ffffff"/>
</g>
<rect x="1056.10" y="335.10" width="147.10" height="147.80" fill="#9a5a5e"/>
<path d="M1056,335 L1097.5,335 L1097,341 L1092,345 L1085,347 L1079,344 L1074,347 L1066,345 L1062,350 L1056,350 Z" fill="#dccb7c"/>
<path d="M1056,350 L1063,348 L1069,352 L1071,357 L1066,363 L1060,368 L1056,372 Z" fill="#cfc882"/>
<path d="M1157,380 L1168,376 L1175,377 L1182,370 L1186,374 L1192,380 L1196,390 L1203,395 L1203,413 L1185,413 L1170,410 L1157,408 Z" fill="#e3cc74"/>
<path d="M1178,380 L1186,372 L1192,378 L1196,388 L1185,392 Z" fill="#a8b478"/>
<rect x="1056.10" y="388.90" width="58.00" height="31.60" fill="#e6a35f"/>
<rect x="1112.00" y="376.80" width="17.10" height="59.50" fill="#e8a460"/>
<rect x="1141.80" y="378.10" width="15.80" height="59.50" fill="#e8a460"/>
<rect x="1141.80" y="407.80" width="61.30" height="18.40" fill="#e6a35f"/>
<rect x="1131.60" y="374.90" width="7.00" height="71.00" fill="#e9a46a"/>
<rect x="1124.00" y="445.20" width="17.10" height="37.70" fill="#e9a46a"/>
<rect x="1169.00" y="469.20" width="27.20" height="5.70" fill="#ffffff"/>
<clipPath id="cb"><rect x="786.4" y="51.8" width="448.0000000000001" height="474.90000000000003"/></clipPath>
<g clip-path="url(#cb)">
<path d="M808.80,465.00 L807.00,482.00 L805.60,508.00 L803.50,492.00 L801.40,483.00 L799.00,500.00 L796.50,527.00" fill="none" stroke="#0b4f24" stroke-width="2.8" stroke-linejoin="round" stroke-linecap="round"/>
<path d="M786.50,490.00 L788.50,497.00 L790.50,480.00 L792.80,473.70 L796.00,470.00 L800.00,468.00 L803.00,466.00 L808.80,462.00" fill="none" stroke="#0b4f24" stroke-width="2.8" stroke-linejoin="round" stroke-linecap="round"/>
<path d="M808.80,463.61 L809.86,457.78 L810.93,452.11 L811.99,446.60 L813.06,441.25 L814.12,436.03 L815.19,430.94 L816.25,425.98 L817.32,421.13 L818.38,416.38 L819.44,411.73 L820.51,407.16 L821.57,402.67 L822.64,398.25 L823.70,393.89 L824.77,389.57 L825.83,385.30 L826.89,381.06 L827.96,376.84 L829.02,372.64 L830.09,368.45 L831.15,364.28 L832.22,360.12 L833.28,355.97 L834.35,351.83 L835.41,347.69 L836.47,343.55 L837.54,339.41 L838.60,335.26 L839.67,331.11 L840.73,326.94 L841.80,322.77 L842.86,318.58 L843.93,314.38 L844.99,310.18 L846.05,305.99 L847.12,301.82 L848.18,297.67 L849.25,293.56 L850.31,289.49 L851.38,285.47 L852.44,281.52 L853.51,277.62 L854.57,273.81 L855.63,270.08 L856.70,266.44 L857.76,262.88 L858.83,259.40 L859.89,256.01 L860.96,252.69 L862.02,249.46 L863.08,246.29 L864.15,243.21 L865.21,240.19 L866.28,237.25 L867.34,234.38 L868.41,231.57 L869.47,228.83 L870.54,226.16 L871.60,223.55 L872.66,220.99 L873.73,218.50 L874.79,216.07 L875.86,213.70 L876.92,211.37 L877.99,209.11 L879.05,206.89 L880.12,204.72 L881.18,202.60 L882.24,200.53 L883.31,198.50 L884.37,196.52 L885.44,194.58 L886.50,192.68 L887.57,190.81 L888.63,188.99 L889.70,187.20 L890.76,185.44 L891.82,183.72 L892.89,182.03 L893.95,180.38 L895.02,178.76 L896.08,177.17 L897.15,175.61 L898.21,174.09 L899.27,172.59 L900.34,171.12 L901.40,169.67 L902.47,168.26 L903.53,166.87 L904.60,165.50 L905.66,164.16 L906.73,162.85 L907.79,161.55 L908.85,160.28 L909.92,159.03 L910.98,157.80 L912.05,156.59 L913.11,155.40 L914.18,154.22 L915.24,153.07 L916.31,151.93 L917.37,150.80 L918.43,149.69 L919.50,148.60 L920.56,147.51 L921.63,146.44 L922.69,145.39 L923.76,144.34 L924.82,143.30 L925.89,142.28 L926.95,141.27 L928.01,140.26 L929.08,139.27 L930.14,138.29 L931.21,137.32 L932.27,136.37 L933.34,135.42 L934.40,134.48 L935.46,133.56 L936.53,132.64 L937.59,131.74 L938.66,130.84 L939.72,129.96 L940.79,129.08 L941.85,128.22 L942.92,127.36 L943.98,126.52 L945.04,125.69 L946.11,124.86 L947.17,124.05 L948.24,123.24 L949.30,122.45 L950.37,121.66 L951.43,120.88 L952.50,120.12 L953.56,119.36 L954.62,118.61 L955.69,117.87 L956.75,117.14 L957.82,116.42 L958.88,115.71 L959.95,115.00 L961.01,114.31 L962.08,113.62 L963.14,112.95 L964.20,112.28 L965.27,111.62 L966.33,110.96 L967.40,110.32 L968.46,109.68 L969.53,109.06 L970.59,108.44 L971.65,107.83 L972.72,107.22 L973.78,106.63 L974.85,106.04 L975.91,105.46 L976.98,104.89 L978.04,104.32 L979.11,103.76 L980.17,103.21 L981.23,102.67 L982.30,102.13 L983.36,101.60 L984.43,101.08 L985.49,100.57 L986.56,100.06 L987.62,99.56 L988.69,99.06 L989.75,98.57 L990.81,98.09 L991.88,97.62 L992.94,97.15 L994.01,96.69 L995.07,96.23 L996.14,95.78 L997.20,95.34 L998.27,94.90 L999.33,94.47 L1000.39,94.05 L1001.46,93.63 L1002.52,93.21 L1003.59,92.81 L1004.65,92.40 L1005.72,92.01 L1006.78,91.61 L1007.84,91.23 L1008.91,90.85 L1009.97,90.47 L1011.04,90.10 L1012.10,89.74 L1013.17,89.38 L1014.23,89.02 L1015.30,88.67 L1016.36,88.32 L1017.42,87.98 L1018.49,87.64 L1019.55,87.31 L1020.62,86.98 L1021.68,86.66 L1022.75,86.34 L1023.81,86.03 L1024.88,85.71 L1025.94,85.41 L1027.00,85.11 L1028.07,84.81 L1029.13,84.51 L1030.20,84.22 L1031.26,83.93 L1032.33,83.65 L1033.39,83.37 L1034.46,83.09 L1035.52,82.82 L1036.58,82.54 L1037.65,82.28 L1038.71,82.01 L1039.78,81.75 L1040.84,81.49 L1041.91,81.24 L1042.97,80.98 L1044.03,80.74 L1045.10,80.49 L1046.16,80.24 L1047.23,80.00 L1048.29,79.77 L1049.36,79.53 L1050.42,79.30 L1051.49,79.07 L1052.55,78.84 L1053.61,78.62 L1054.68,78.39 L1055.74,78.17 L1056.81,77.96 L1057.87,77.74 L1058.94,77.53 L1060.00,77.33 L1061.07,77.12 L1062.13,76.92 L1063.19,76.72 L1064.26,76.52 L1065.32,76.32 L1066.39,76.13 L1067.45,75.94 L1068.52,75.75 L1069.58,75.57 L1070.65,75.38 L1071.71,75.20 L1072.77,75.02 L1073.84,74.85 L1074.90,74.68 L1075.97,74.50 L1077.03,74.34 L1078.10,74.17 L1079.16,74.01 L1080.22,73.84 L1081.29,73.68 L1082.35,73.53 L1083.42,73.37 L1084.48,73.22 L1085.55,73.07 L1086.61,72.92 L1087.68,72.77 L1088.74,72.63 L1089.80,72.49 L1090.87,72.35 L1091.93,72.21 L1093.00,72.08 L1094.06,71.94 L1095.13,71.81 L1096.19,71.68 L1097.26,71.56 L1098.32,71.43 L1099.38,71.31 L1100.45,71.19 L1101.51,71.07 L1102.58,70.95 L1103.64,70.83 L1104.71,70.72 L1105.77,70.61 L1106.84,70.50 L1107.90,70.39 L1108.96,70.28 L1110.03,70.18 L1111.09,70.08 L1112.16,69.98 L1113.22,69.88 L1114.29,69.78 L1115.35,69.69 L1116.41,69.59 L1117.48,69.50 L1118.54,69.41 L1119.61,69.32 L1120.67,69.23 L1121.74,69.15 L1122.80,69.06 L1123.87,68.98 L1124.93,68.90 L1125.99,68.82 L1127.06,68.74 L1128.12,68.67 L1129.19,68.59 L1130.25,68.52 L1131.32,68.45 L1132.38,68.38 L1133.45,68.31 L1134.51,68.24 L1135.57,68.18 L1136.64,68.11 L1137.70,68.05 L1138.77,67.99 L1139.83,67.93 L1140.90,67.87 L1141.96,67.81 L1143.03,67.75 L1144.09,67.70 L1145.15,67.64 L1146.22,67.59 L1147.28,67.54 L1148.35,67.49 L1149.41,67.44 L1150.48,67.39 L1151.54,67.34 L1152.60,67.30 L1153.67,67.25 L1154.73,67.21 L1155.80,67.16 L1156.86,67.12 L1157.93,67.08 L1158.99,67.04 L1160.06,67.00 L1161.12,66.97 L1162.18,66.93 L1163.25,66.89 L1164.31,66.86 L1165.38,66.82 L1166.44,66.79 L1167.51,66.76 L1168.57,66.73 L1169.64,66.70 L1170.70,66.67 L1171.76,66.64 L1172.83,66.61 L1173.89,66.58 L1174.96,66.56 L1176.02,66.53 L1177.09,66.51 L1178.15,66.48 L1179.22,66.46 L1180.28,66.43 L1181.34,66.41 L1182.41,66.39 L1183.47,66.37 L1184.54,66.35 L1185.60,66.33 L1186.67,66.31 L1187.73,66.29 L1188.79,66.27 L1189.86,66.25 L1190.92,66.24 L1191.99,66.22 L1193.05,66.20 L1194.12,66.19 L1195.18,66.17 L1196.25,66.16 L1197.31,66.14 L1198.37,66.13 L1199.44,66.11 L1200.50,66.10 L1201.57,66.09 L1202.63,66.07 L1203.70,66.06 L1204.76,66.05 L1205.83,66.04 L1206.89,66.02 L1207.95,66.01 L1209.02,66.00 L1210.08,65.99 L1211.15,65.98 L1212.21,65.97 L1213.28,65.95 L1214.34,65.94 L1215.41,65.93 L1216.47,65.92 L1217.53,65.91 L1218.60,65.90 L1219.66,65.89 L1220.73,65.88 L1221.79,65.87 L1222.86,65.86 L1223.92,65.85 L1224.98,65.84 L1226.05,65.83 L1227.11,65.82 L1228.18,65.80 L1229.24,65.79 L1230.31,65.78 L1231.37,65.77 L1232.44,65.76 L1233.50,65.75" fill="none" stroke="#0b4f24" stroke-width="3" stroke-linejoin="round" stroke-linecap="round"/>
<path d="M786.50,474.00 L788.50,453.50 L792.00,456.00 L797.00,461.00 L800.00,466.00 L801.00,475.00" fill="none" stroke="#ff0022" stroke-width="2.8" stroke-linejoin="round" stroke-linecap="round"/>
<path d="M787.50,462.00 L790.50,495.00 L793.50,527.00" fill="none" stroke="#ff0022" stroke-width="2.8" stroke-linejoin="round" stroke-linecap="round"/>
<path d="M793.50,527.00 L796.50,495.00 L800.30,456.00" fill="none" stroke="#ff0022" stroke-width="2.8" stroke-linejoin="round" stroke-linecap="round"/>
<path d="M800.30,458.95 L801.39,452.90 L802.47,446.87 L803.56,440.85 L804.64,434.84 L805.73,428.86 L806.81,422.89 L807.90,416.95 L808.99,411.04 L810.07,405.15 L811.16,399.30 L812.24,393.48 L813.33,387.70 L814.41,381.97 L815.50,376.28 L816.59,370.63 L817.67,365.03 L818.76,359.49 L819.84,354.00 L820.93,348.58 L822.01,343.21 L823.10,337.91 L824.19,332.67 L825.27,327.51 L826.36,322.41 L827.44,317.40 L828.53,312.46 L829.61,307.60 L830.70,302.83 L831.79,298.14 L832.87,293.55 L833.96,289.05 L835.04,284.64 L836.13,280.33 L837.21,276.11 L838.30,271.99 L839.39,267.97 L840.47,264.05 L841.56,260.22 L842.64,256.50 L843.73,252.87 L844.81,249.35 L845.90,245.92 L846.99,242.60 L848.07,239.38 L849.16,236.27 L850.24,233.26 L851.33,230.35 L852.41,227.55 L853.50,224.85 L854.59,222.26 L855.67,219.76 L856.76,217.36 L857.84,215.04 L858.93,212.82 L860.01,210.69 L861.10,208.63 L862.19,206.66 L863.27,204.76 L864.36,202.93 L865.44,201.17 L866.53,199.48 L867.61,197.85 L868.70,196.28 L869.79,194.76 L870.87,193.30 L871.96,191.89 L873.04,190.52 L874.13,189.20 L875.21,187.92 L876.30,186.67 L877.39,185.46 L878.47,184.28 L879.56,183.12 L880.64,181.99 L881.73,180.88 L882.81,179.80 L883.90,178.73 L884.99,177.69 L886.07,176.67 L887.16,175.67 L888.24,174.69 L889.33,173.73 L890.41,172.79 L891.50,171.87 L892.59,170.97 L893.67,170.09 L894.76,169.24 L895.84,168.40 L896.93,167.58 L898.01,166.78 L899.10,165.99 L900.19,165.23 L901.27,164.48 L902.36,163.76 L903.44,163.05 L904.53,162.35 L905.61,161.68 L906.70,161.02 L907.79,160.38 L908.87,159.76 L909.96,159.15 L911.04,158.56 L912.13,157.98 L913.21,157.42 L914.30,156.88 L915.39,156.35 L916.47,155.83 L917.56,155.34 L918.64,154.85 L919.73,154.38 L920.81,153.93 L921.90,153.48 L922.99,153.06 L924.07,152.64 L925.16,152.24 L926.24,151.85 L927.33,151.48 L928.41,151.12 L929.50,150.77 L930.59,150.43 L931.67,150.10 L932.76,149.79 L933.84,149.49 L934.93,149.20 L936.01,148.92 L937.10,148.65 L938.19,148.39 L939.27,148.14 L940.36,147.90 L941.44,147.68 L942.53,147.46 L943.61,147.25 L944.70,147.05 L945.79,146.86 L946.87,146.68 L947.96,146.50 L949.04,146.34 L950.13,146.18 L951.21,146.04 L952.30,145.89 L953.39,145.76 L954.47,145.64 L955.56,145.52 L956.64,145.40 L957.73,145.30 L958.81,145.20 L959.90,145.11 L960.99,145.02 L962.07,144.94 L963.16,144.86 L964.24,144.79 L965.33,144.73 L966.41,144.67 L967.50,144.61 L968.59,144.56 L969.67,144.51 L970.76,144.47 L971.84,144.43 L972.93,144.39 L974.01,144.35 L975.10,144.32 L976.19,144.30 L977.27,144.27 L978.36,144.25 L979.44,144.23 L980.53,144.21 L981.61,144.19 L982.70,144.18 L983.79,144.16 L984.87,144.15 L985.96,144.13 L987.04,144.12 L988.13,144.11 L989.21,144.10 L990.30,144.09 L991.39,144.07 L992.47,144.06 L993.56,144.05 L994.64,144.03 L995.73,144.02 L996.81,144.01 L997.90,143.99 L998.99,143.98 L1000.07,143.96 L1001.16,143.95 L1002.24,143.93 L1003.33,143.92 L1004.41,143.90 L1005.50,143.89 L1006.59,143.87 L1007.67,143.85 L1008.76,143.84 L1009.84,143.82 L1010.93,143.80 L1012.01,143.79 L1013.10,143.77 L1014.19,143.75 L1015.27,143.73 L1016.36,143.71 L1017.44,143.70 L1018.53,143.68 L1019.61,143.66 L1020.70,143.64 L1021.79,143.62 L1022.87,143.60 L1023.96,143.58 L1025.04,143.56 L1026.13,143.54 L1027.21,143.52 L1028.30,143.50 L1029.39,143.48 L1030.47,143.46 L1031.56,143.44 L1032.64,143.42 L1033.73,143.39 L1034.81,143.37 L1035.90,143.35 L1036.99,143.33 L1038.07,143.31 L1039.16,143.29 L1040.24,143.26 L1041.33,143.24 L1042.41,143.22 L1043.50,143.20 L1044.59,143.17 L1045.67,143.15 L1046.76,143.13 L1047.84,143.11 L1048.93,143.08 L1050.01,143.06 L1051.10,143.04 L1052.19,143.01 L1053.27,142.99 L1054.36,142.97 L1055.44,142.94 L1056.53,142.92 L1057.61,142.89 L1058.70,142.87 L1059.79,142.85 L1060.87,142.82 L1061.96,142.80 L1063.04,142.77 L1064.13,142.75 L1065.21,142.73 L1066.30,142.70 L1067.39,142.68 L1068.47,142.65 L1069.56,142.63 L1070.64,142.60 L1071.73,142.58 L1072.81,142.56 L1073.90,142.53 L1074.99,142.51 L1076.07,142.48 L1077.16,142.46 L1078.24,142.43 L1079.33,142.41 L1080.41,142.38 L1081.50,142.36 L1082.59,142.33 L1083.67,142.31 L1084.76,142.29 L1085.84,142.26 L1086.93,142.24 L1088.01,142.21 L1089.10,142.19 L1090.19,142.16 L1091.27,142.14 L1092.36,142.12 L1093.44,142.09 L1094.53,142.07 L1095.61,142.04 L1096.70,142.02 L1097.79,141.99 L1098.87,141.97 L1099.96,141.95 L1101.04,141.92 L1102.13,141.90 L1103.21,141.88 L1104.30,141.85 L1105.39,141.83 L1106.47,141.81 L1107.56,141.78 L1108.64,141.76 L1109.73,141.74 L1110.81,141.71 L1111.90,141.69 L1112.99,141.67 L1114.07,141.64 L1115.16,141.62 L1116.24,141.60 L1117.33,141.58 L1118.41,141.56 L1119.50,141.53 L1120.59,141.51 L1121.67,141.49 L1122.76,141.47 L1123.84,141.45 L1124.93,141.43 L1126.01,141.40 L1127.10,141.38 L1128.19,141.36 L1129.27,141.34 L1130.36,141.32 L1131.44,141.30 L1132.53,141.28 L1133.61,141.26 L1134.70,141.24 L1135.79,141.22 L1136.87,141.20 L1137.96,141.18 L1139.04,141.16 L1140.13,141.15 L1141.21,141.13 L1142.30,141.11 L1143.39,141.09 L1144.47,141.07 L1145.56,141.06 L1146.64,141.04 L1147.73,141.02 L1148.81,141.00 L1149.90,140.99 L1150.99,140.97 L1152.07,140.95 L1153.16,140.94 L1154.24,140.92 L1155.33,140.91 L1156.41,140.89 L1157.50,140.88 L1158.59,140.86 L1159.67,140.85 L1160.76,140.83 L1161.84,140.82 L1162.93,140.81 L1164.01,140.79 L1165.10,140.78 L1166.19,140.77 L1167.27,140.76 L1168.36,140.74 L1169.44,140.73 L1170.53,140.72 L1171.61,140.71 L1172.70,140.70 L1173.79,140.69 L1174.87,140.68 L1175.96,140.67 L1177.04,140.66 L1178.13,140.65 L1179.21,140.64 L1180.30,140.63 L1181.39,140.62 L1182.47,140.62 L1183.56,140.61 L1184.64,140.60 L1185.73,140.59 L1186.81,140.59 L1187.90,140.58 L1188.99,140.58 L1190.07,140.57 L1191.16,140.57 L1192.24,140.56 L1193.33,140.56 L1194.41,140.55 L1195.50,140.55 L1196.59,140.55 L1197.67,140.55 L1198.76,140.54 L1199.84,140.54 L1200.93,140.54 L1202.01,140.54 L1203.10,140.54 L1204.19,140.54 L1205.27,140.54 L1206.36,140.54 L1207.44,140.54 L1208.53,140.54 L1209.61,140.55 L1210.70,140.55 L1211.79,140.55 L1212.87,140.55 L1213.96,140.56 L1215.04,140.56 L1216.13,140.57 L1217.21,140.57 L1218.30,140.58 L1219.39,140.59 L1220.47,140.59 L1221.56,140.60 L1222.64,140.61 L1223.73,140.62 L1224.81,140.62 L1225.90,140.63 L1226.99,140.64 L1228.07,140.65 L1229.16,140.66 L1230.24,140.68 L1231.33,140.69 L1232.41,140.70 L1233.50,140.71" fill="none" stroke="#ff0022" stroke-width="3" stroke-linejoin="round" stroke-linecap="round"/>
</g>
<rect x="786.40" y="51.80" width="448.00" height="474.90" fill="none" stroke="#000" stroke-width="2.75"/>
<line x1="786.40" y1="51.80" x2="778.40" y2="51.80" stroke="#000" stroke-width="2.5" stroke-linecap="butt"/>
<line x1="786.40" y1="88.68" x2="782.20" y2="88.68" stroke="#000" stroke-width="1.6" stroke-linecap="butt"/>
<line x1="786.40" y1="79.39" x2="782.20" y2="79.39" stroke="#000" stroke-width="1.6" stroke-linecap="butt"/>
<line x1="786.40" y1="72.80" x2="782.20" y2="72.80" stroke="#000" stroke-width="1.6" stroke-linecap="butt"/>
<line x1="786.40" y1="67.68" x2="782.20" y2="67.68" stroke="#000" stroke-width="1.6" stroke-linecap="butt"/>
<line x1="786.40" y1="63.51" x2="782.20" y2="63.51" stroke="#000" stroke-width="1.6" stroke-linecap="butt"/>
<line x1="786.40" y1="59.97" x2="782.20" y2="59.97" stroke="#000" stroke-width="1.6" stroke-linecap="butt"/>
<line x1="786.40" y1="56.91" x2="782.20" y2="56.91" stroke="#000" stroke-width="1.6" stroke-linecap="butt"/>
<line x1="786.40" y1="54.21" x2="782.20" y2="54.21" stroke="#000" stroke-width="1.6" stroke-linecap="butt"/>
<text x="749.09" y="52.90" font-size="17.6">-5</text>
<text x="714.61" y="62.80" font-size="31">10</text>
<line x1="786.40" y1="104.57" x2="778.40" y2="104.57" stroke="#000" stroke-width="2.5" stroke-linecap="butt"/>
<line x1="786.40" y1="141.45" x2="782.20" y2="141.45" stroke="#000" stroke-width="1.6" stroke-linecap="butt"/>
<line x1="786.40" y1="132.16" x2="782.20" y2="132.16" stroke="#000" stroke-width="1.6" stroke-linecap="butt"/>
<line x1="786.40" y1="125.56" x2="782.20" y2="125.56" stroke="#000" stroke-width="1.6" stroke-linecap="butt"/>
<line x1="786.40" y1="120.45" x2="782.20" y2="120.45" stroke="#000" stroke-width="1.6" stroke-linecap="butt"/>
<line x1="786.40" y1="116.27" x2="782.20" y2="116.27" stroke="#000" stroke-width="1.6" stroke-linecap="butt"/>
<line x1="786.40" y1="112.74" x2="782.20" y2="112.74" stroke="#000" stroke-width="1.6" stroke-linecap="butt"/>
<line x1="786.40" y1="109.68" x2="782.20" y2="109.68" stroke="#000" stroke-width="1.6" stroke-linecap="butt"/>
<line x1="786.40" y1="106.98" x2="782.20" y2="106.98" stroke="#000" stroke-width="1.6" stroke-linecap="butt"/>
<text x="749.12" y="105.67" font-size="17.6">-6</text>
<text x="714.64" y="115.57" font-size="31">10</text>
<line x1="786.40" y1="157.33" x2="778.40" y2="157.33" stroke="#000" stroke-width="2.5" stroke-linecap="butt"/>
<line x1="786.40" y1="194.22" x2="782.20" y2="194.22" stroke="#000" stroke-width="1.6" stroke-linecap="butt"/>
<line x1="786.40" y1="184.92" x2="782.20" y2="184.92" stroke="#000" stroke-width="1.6" stroke-linecap="butt"/>
<line x1="786.40" y1="178.33" x2="782.20" y2="178.33" stroke="#000" stroke-width="1.6" stroke-linecap="butt"/>
<line x1="786.40" y1="173.22" x2="782.20" y2="173.22" stroke="#000" stroke-width="1.6" stroke-linecap="butt"/>
<line x1="786.40" y1="169.04" x2="782.20" y2="169.04" stroke="#000" stroke-width="1.6" stroke-linecap="butt"/>
<line x1="786.40" y1="165.51" x2="782.20" y2="165.51" stroke="#000" stroke-width="1.6" stroke-linecap="butt"/>
<line x1="786.40" y1="162.45" x2="782.20" y2="162.45" stroke="#000" stroke-width="1.6" stroke-linecap="butt"/>
<line x1="786.40" y1="159.75" x2="782.20" y2="159.75" stroke="#000" stroke-width="1.6" stroke-linecap="butt"/>
<text x="749.24" y="158.43" font-size="17.6">-7</text>
<text x="714.75" y="168.33" font-size="31">10</text>
<line x1="786.40" y1="210.10" x2="778.40" y2="210.10" stroke="#000" stroke-width="2.5" stroke-linecap="butt"/>
<line x1="786.40" y1="246.98" x2="782.20" y2="246.98" stroke="#000" stroke-width="1.6" stroke-linecap="butt"/>
<line x1="786.40" y1="237.69" x2="782.20" y2="237.69" stroke="#000" stroke-width="1.6" stroke-linecap="butt"/>
<line x1="786.40" y1="231.10" x2="782.20" y2="231.10" stroke="#000" stroke-width="1.6" stroke-linecap="butt"/>
<line x1="786.40" y1="225.98" x2="782.20" y2="225.98" stroke="#000" stroke-width="1.6" stroke-linecap="butt"/>
<line x1="786.40" y1="221.81" x2="782.20" y2="221.81" stroke="#000" stroke-width="1.6" stroke-linecap="butt"/>
<line x1="786.40" y1="218.27" x2="782.20" y2="218.27" stroke="#000" stroke-width="1.6" stroke-linecap="butt"/>
<line x1="786.40" y1="215.21" x2="782.20" y2="215.21" stroke="#000" stroke-width="1.6" stroke-linecap="butt"/>
<line x1="786.40" y1="212.51" x2="782.20" y2="212.51" stroke="#000" stroke-width="1.6" stroke-linecap="butt"/>
<text x="749.12" y="211.20" font-size="17.6">-8</text>
<text x="714.63" y="221.10" font-size="31">10</text>
<line x1="786.40" y1="262.87" x2="778.40" y2="262.87" stroke="#000" stroke-width="2.5" stroke-linecap="butt"/>
<line x1="786.40" y1="299.75" x2="782.20" y2="299.75" stroke="#000" stroke-width="1.6" stroke-linecap="butt"/>
<line x1="786.40" y1="290.46" x2="782.20" y2="290.46" stroke="#000" stroke-width="1.6" stroke-linecap="butt"/>
<line x1="786.40" y1="283.86" x2="782.20" y2="283.86" stroke="#000" stroke-width="1.6" stroke-linecap="butt"/>
<line x1="786.40" y1="278.75" x2="782.20" y2="278.75" stroke="#000" stroke-width="1.6" stroke-linecap="butt"/>
<line x1="786.40" y1="274.57" x2="782.20" y2="274.57" stroke="#000" stroke-width="1.6" stroke-linecap="butt"/>
<line x1="786.40" y1="271.04" x2="782.20" y2="271.04" stroke="#000" stroke-width="1.6" stroke-linecap="butt"/>
<line x1="786.40" y1="267.98" x2="782.20" y2="267.98" stroke="#000" stroke-width="1.6" stroke-linecap="butt"/>
<line x1="786.40" y1="265.28" x2="782.20" y2="265.28" stroke="#000" stroke-width="1.6" stroke-linecap="butt"/>
<text x="749.18" y="263.97" font-size="17.6">-9</text>
<text x="714.70" y="273.87" font-size="31">10</text>
<line x1="786.40" y1="315.63" x2="778.40" y2="315.63" stroke="#000" stroke-width="2.5" stroke-linecap="butt"/>
<line x1="786.40" y1="352.52" x2="782.20" y2="352.52" stroke="#000" stroke-width="1.6" stroke-linecap="butt"/>
<line x1="786.40" y1="343.22" x2="782.20" y2="343.22" stroke="#000" stroke-width="1.6" stroke-linecap="butt"/>
<line x1="786.40" y1="336.63" x2="782.20" y2="336.63" stroke="#000" stroke-width="1.6" stroke-linecap="butt"/>
<line x1="786.40" y1="331.52" x2="782.20" y2="331.52" stroke="#000" stroke-width="1.6" stroke-linecap="butt"/>
<line x1="786.40" y1="327.34" x2="782.20" y2="327.34" stroke="#000" stroke-width="1.6" stroke-linecap="butt"/>
<line x1="786.40" y1="323.81" x2="782.20" y2="323.81" stroke="#000" stroke-width="1.6" stroke-linecap="butt"/>
<line x1="786.40" y1="320.75" x2="782.20" y2="320.75" stroke="#000" stroke-width="1.6" stroke-linecap="butt"/>
<line x1="786.40" y1="318.05" x2="782.20" y2="318.05" stroke="#000" stroke-width="1.6" stroke-linecap="butt"/>
<text x="739.25" y="316.73" font-size="17.6">-10</text>
<text x="704.77" y="326.63" font-size="31">10</text>
<line x1="786.40" y1="368.40" x2="778.40" y2="368.40" stroke="#000" stroke-width="2.5" stroke-linecap="butt"/>
<line x1="786.40" y1="405.28" x2="782.20" y2="405.28" stroke="#000" stroke-width="1.6" stroke-linecap="butt"/>
<line x1="786.40" y1="395.99" x2="782.20" y2="395.99" stroke="#000" stroke-width="1.6" stroke-linecap="butt"/>
<line x1="786.40" y1="389.40" x2="782.20" y2="389.40" stroke="#000" stroke-width="1.6" stroke-linecap="butt"/>
<line x1="786.40" y1="384.28" x2="782.20" y2="384.28" stroke="#000" stroke-width="1.6" stroke-linecap="butt"/>
<line x1="786.40" y1="380.11" x2="782.20" y2="380.11" stroke="#000" stroke-width="1.6" stroke-linecap="butt"/>
<line x1="786.40" y1="376.57" x2="782.20" y2="376.57" stroke="#000" stroke-width="1.6" stroke-linecap="butt"/>
<line x1="786.40" y1="373.51" x2="782.20" y2="373.51" stroke="#000" stroke-width="1.6" stroke-linecap="butt"/>
<line x1="786.40" y1="370.81" x2="782.20" y2="370.81" stroke="#000" stroke-width="1.6" stroke-linecap="butt"/>
<text x="739.42" y="369.50" font-size="17.6">-11</text>
<text x="704.94" y="379.40" font-size="31">10</text>
<line x1="786.40" y1="421.17" x2="778.40" y2="421.17" stroke="#000" stroke-width="2.5" stroke-linecap="butt"/>
<line x1="786.40" y1="458.05" x2="782.20" y2="458.05" stroke="#000" stroke-width="1.6" stroke-linecap="butt"/>
<line x1="786.40" y1="448.76" x2="782.20" y2="448.76" stroke="#000" stroke-width="1.6" stroke-linecap="butt"/>
<line x1="786.40" y1="442.16" x2="782.20" y2="442.16" stroke="#000" stroke-width="1.6" stroke-linecap="butt"/>
<line x1="786.40" y1="437.05" x2="782.20" y2="437.05" stroke="#000" stroke-width="1.6" stroke-linecap="butt"/>
<line x1="786.40" y1="432.87" x2="782.20" y2="432.87" stroke="#000" stroke-width="1.6" stroke-linecap="butt"/>
<line x1="786.40" y1="429.34" x2="782.20" y2="429.34" stroke="#000" stroke-width="1.6" stroke-linecap="butt"/>
<line x1="786.40" y1="426.28" x2="782.20" y2="426.28" stroke="#000" stroke-width="1.6" stroke-linecap="butt"/>
<line x1="786.40" y1="423.58" x2="782.20" y2="423.58" stroke="#000" stroke-width="1.6" stroke-linecap="butt"/>
<text x="739.45" y="422.27" font-size="17.6">-12</text>
<text x="704.97" y="432.17" font-size="31">10</text>
<line x1="786.40" y1="473.93" x2="778.40" y2="473.93" stroke="#000" stroke-width="2.5" stroke-linecap="butt"/>
<line x1="786.40" y1="510.82" x2="782.20" y2="510.82" stroke="#000" stroke-width="1.6" stroke-linecap="butt"/>
<line x1="786.40" y1="501.52" x2="782.20" y2="501.52" stroke="#000" stroke-width="1.6" stroke-linecap="butt"/>
<line x1="786.40" y1="494.93" x2="782.20" y2="494.93" stroke="#000" stroke-width="1.6" stroke-linecap="butt"/>
<line x1="786.40" y1="489.82" x2="782.20" y2="489.82" stroke="#000" stroke-width="1.6" stroke-linecap="butt"/>
<line x1="786.40" y1="485.64" x2="782.20" y2="485.64" stroke="#000" stroke-width="1.6" stroke-linecap="butt"/>
<line x1="786.40" y1="482.11" x2="782.20" y2="482.11" stroke="#000" stroke-width="1.6" stroke-linecap="butt"/>
<line x1="786.40" y1="479.05" x2="782.20" y2="479.05" stroke="#000" stroke-width="1.6" stroke-linecap="butt"/>
<line x1="786.40" y1="476.35" x2="782.20" y2="476.35" stroke="#000" stroke-width="1.6" stroke-linecap="butt"/>
<text x="739.34" y="475.03" font-size="17.6">-13</text>
<text x="704.85" y="484.93" font-size="31">10</text>
<line x1="786.40" y1="526.70" x2="778.40" y2="526.70" stroke="#000" stroke-width="2.5" stroke-linecap="butt"/>
<text x="739.08" y="527.80" font-size="17.6">-14</text>
<text x="704.60" y="537.70" font-size="31">10</text>
<line x1="814.39" y1="526.70" x2="814.39" y2="534.70" stroke="#000" stroke-width="2.5" stroke-linecap="butt"/>
<line x1="884.38" y1="526.70" x2="884.38" y2="534.70" stroke="#000" stroke-width="2.5" stroke-linecap="butt"/>
<line x1="954.37" y1="526.70" x2="954.37" y2="534.70" stroke="#000" stroke-width="2.5" stroke-linecap="butt"/>
<line x1="1024.36" y1="526.70" x2="1024.36" y2="534.70" stroke="#000" stroke-width="2.5" stroke-linecap="butt"/>
<line x1="1094.35" y1="526.70" x2="1094.35" y2="534.70" stroke="#000" stroke-width="2.5" stroke-linecap="butt"/>
<line x1="1164.34" y1="526.70" x2="1164.34" y2="534.70" stroke="#000" stroke-width="2.5" stroke-linecap="butt"/>
<line x1="1234.33" y1="526.70" x2="1234.33" y2="534.70" stroke="#000" stroke-width="2.5" stroke-linecap="butt"/>
<line x1="849.38" y1="526.70" x2="849.38" y2="530.90" stroke="#000" stroke-width="1.8" stroke-linecap="butt"/>
<line x1="919.37" y1="526.70" x2="919.37" y2="530.90" stroke="#000" stroke-width="1.8" stroke-linecap="butt"/>
<line x1="989.36" y1="526.70" x2="989.36" y2="530.90" stroke="#000" stroke-width="1.8" stroke-linecap="butt"/>
<line x1="1059.35" y1="526.70" x2="1059.35" y2="530.90" stroke="#000" stroke-width="1.8" stroke-linecap="butt"/>
<line x1="1129.34" y1="526.70" x2="1129.34" y2="530.90" stroke="#000" stroke-width="1.8" stroke-linecap="butt"/>
<line x1="1199.33" y1="526.70" x2="1199.33" y2="530.90" stroke="#000" stroke-width="1.8" stroke-linecap="butt"/>
<text x="791.04" y="573.00" font-size="31">1.5</text>
<text x="780.72" y="573.00" font-size="31">-</text>
<text x="875.16" y="573.00" font-size="31">1</text>
<text x="864.84" y="573.00" font-size="31">-</text>
<text x="934.02" y="573.00" font-size="31">0.5</text>
<text x="923.70" y="573.00" font-size="31">-</text>
<text x="1015.74" y="573.00" font-size="31">0</text>
<text x="1073.30" y="573.00" font-size="31">0.5</text>
<text x="1155.72" y="573.00" font-size="31">1</text>
<text x="1213.98" y="573.00" font-size="31">1.5</text>
<text x="967.22" y="624.80" font-size="31" font-style="italic">V</text>
<text x="985.32" y="635.80" font-size="18.5">g</text>
<text x="1014.08" y="624.80" font-size="31">(V)</text>
<g transform="rotate(-90 678.30 337.53)">
<text x="678.30" y="337.53" font-size="31" font-style="italic">I</text>
<text x="686.75" y="348.03" font-size="18.5">ds</text>
<text x="722.30" y="337.53" font-size="31">(A/μm)</text>
</g>
<text x="1059.62" y="192.00" font-size="31" font-style="italic">V</text>
<text x="1079.82" y="201.90" font-size="18.5">ds</text>
<text x="1108.29" y="192.00" font-size="31">= 1 V</text>
<line x1="954.80" y1="235.90" x2="1006.30" y2="235.90" stroke="#0b4f24" stroke-width="2.7" stroke-linecap="butt"/>
<text x="1013.36" y="242.90" font-size="31" fill="#0b4f24">Fully gated</text>
<line x1="954.80" y1="272.00" x2="1006.30" y2="272.00" stroke="#ff0022" stroke-width="2.7" stroke-linecap="butt"/>
<text x="1013.36" y="279.80" font-size="31" fill="#ff0022">Partially gated</text>
<line x1="937.80" y1="115.00" x2="962.90" y2="97.84" stroke="#000" stroke-width="3.0" stroke-linecap="butt"/>
<path d="M968.80,93.80 L961.17,105.68 L960.75,99.30 L954.96,96.60Z" fill="#000"/>
<line x1="984.90" y1="114.00" x2="959.01" y2="131.58" stroke="#000" stroke-width="3.0" stroke-linecap="butt"/>
<path d="M953.10,135.60 L960.76,123.75 L961.17,130.12 L966.94,132.85Z" fill="#000"/>
<text x="1366.85" y="34.00" font-size="46">c</text>
<text x="1479.06" y="36.00" font-size="31" fill="#0b4f24">Fully gated</text>
<text x="1680.86" y="36.00" font-size="31" fill="#ff0022">Partially gated</text>
<clipPath id="ccl"><rect x="1443.3" y="51.6" width="224.0" height="475.19999999999993"/></clipPath>
<clipPath id="ccr"><rect x="1667.3" y="51.6" width="224.29999999999995" height="475.19999999999993"/></clipPath>
<g clip-path="url(#ccl)">
<path d="M1443.30,515.40 L1445.18,511.53 L1447.06,507.66 L1448.95,503.79 L1450.83,499.91 L1452.71,496.04 L1454.59,492.17 L1456.48,488.30 L1458.36,484.43 L1460.24,480.56 L1462.12,476.69 L1464.01,472.82 L1465.89,468.95 L1467.77,465.08 L1469.65,461.22 L1471.54,457.35 L1473.42,453.48 L1475.30,449.62 L1477.18,445.75 L1479.06,441.89 L1480.95,438.02 L1482.83,434.16 L1484.71,430.30 L1486.59,426.44 L1488.48,422.58 L1490.36,418.72 L1492.24,414.86 L1494.12,411.01 L1496.01,407.15 L1497.89,403.30 L1499.77,399.44 L1501.65,395.59 L1503.54,391.74 L1505.42,387.89 L1507.30,384.04 L1509.18,380.20 L1511.06,376.35 L1512.95,372.51 L1514.83,368.66 L1516.71,364.82 L1518.59,360.99 L1520.48,357.15 L1522.36,353.31 L1524.24,349.48 L1526.12,345.65 L1528.01,341.82 L1529.89,337.99 L1531.77,334.16 L1533.65,330.34 L1535.54,326.52 L1537.42,322.70 L1539.30,318.88 L1541.18,315.06 L1543.06,311.25 L1544.95,307.43 L1546.83,303.63 L1548.71,299.82 L1550.59,296.01 L1552.48,292.21 L1554.36,288.41 L1556.24,284.61 L1558.12,280.82 L1560.01,277.02 L1561.89,273.23 L1563.77,269.45 L1565.65,265.66 L1567.54,261.88 L1569.42,258.10 L1571.30,254.32 L1573.18,250.55 L1575.06,246.78 L1576.95,243.01 L1578.83,239.24 L1580.71,235.48 L1582.59,231.72 L1584.48,227.96 L1586.36,224.21 L1588.24,220.46 L1590.12,216.71 L1592.01,212.97 L1593.89,209.22 L1595.77,205.49 L1597.65,201.75 L1599.54,198.02 L1601.42,194.29 L1603.30,190.57 L1605.18,186.85 L1607.06,183.13 L1608.95,179.41 L1610.83,175.70 L1612.71,172.00 L1614.59,168.29 L1616.48,164.59 L1618.36,160.89 L1620.24,157.20 L1622.12,153.51 L1624.01,149.83 L1625.89,146.15 L1627.77,142.47 L1629.65,138.79 L1631.54,135.12 L1633.42,131.46 L1635.30,127.80 L1637.18,124.14 L1639.06,120.48 L1640.95,116.83 L1642.83,113.19 L1644.71,109.55 L1646.59,105.91 L1648.48,102.27 L1650.36,98.65 L1652.24,95.02 L1654.12,91.40 L1656.01,87.78 L1657.89,84.17 L1659.77,80.56 L1661.65,76.96 L1663.54,73.36 L1665.42,69.77 L1667.30,66.18" fill="none" stroke="#0b4f24" stroke-width="3" stroke-linejoin="round" stroke-linecap="round"/>
<path d="M1443.30,515.40 L1445.18,511.79 L1447.06,508.19 L1448.95,504.58 L1450.83,500.97 L1452.71,497.36 L1454.59,493.76 L1456.48,490.15 L1458.36,486.55 L1460.24,482.94 L1462.12,479.34 L1464.01,475.74 L1465.89,472.14 L1467.77,468.54 L1469.65,464.94 L1471.54,461.34 L1473.42,457.74 L1475.30,454.15 L1477.18,450.55 L1479.06,446.96 L1480.95,443.37 L1482.83,439.78 L1484.71,436.19 L1486.59,432.61 L1488.48,429.03 L1490.36,425.44 L1492.24,421.87 L1494.12,418.29 L1496.01,414.72 L1497.89,411.14 L1499.77,407.57 L1501.65,404.01 L1503.54,400.44 L1505.42,396.88 L1507.30,393.32 L1509.18,389.77 L1511.06,386.22 L1512.95,382.67 L1514.83,379.12 L1516.71,375.58 L1518.59,372.04 L1520.48,368.50 L1522.36,364.97 L1524.24,361.44 L1526.12,357.92 L1528.01,354.40 L1529.89,350.88 L1531.77,347.37 L1533.65,343.86 L1535.54,340.35 L1537.42,336.85 L1539.30,333.35 L1541.18,329.86 L1543.06,326.37 L1544.95,322.89 L1546.83,319.41 L1548.71,315.94 L1550.59,312.47 L1552.48,309.00 L1554.36,305.54 L1556.24,302.09 L1558.12,298.64 L1560.01,295.19 L1561.89,291.75 L1563.77,288.32 L1565.65,284.89 L1567.54,281.46 L1569.42,278.04 L1571.30,274.63 L1573.18,271.22 L1575.06,267.82 L1576.95,264.42 L1578.83,261.03 L1580.71,257.65 L1582.59,254.27 L1584.48,250.90 L1586.36,247.53 L1588.24,244.17 L1590.12,240.82 L1592.01,237.47 L1593.89,234.13 L1595.77,230.79 L1597.65,227.46 L1599.54,224.14 L1601.42,220.82 L1603.30,217.52 L1605.18,214.21 L1607.06,210.92 L1608.95,207.63 L1610.83,204.35 L1612.71,201.07 L1614.59,197.80 L1616.48,194.54 L1618.36,191.29 L1620.24,188.04 L1622.12,184.80 L1624.01,181.57 L1625.89,178.34 L1627.77,175.13 L1629.65,171.92 L1631.54,168.71 L1633.42,165.52 L1635.30,162.33 L1637.18,159.15 L1639.06,155.98 L1640.95,152.81 L1642.83,149.66 L1644.71,146.51 L1646.59,143.37 L1648.48,140.23 L1650.36,137.11 L1652.24,133.99 L1654.12,130.88 L1656.01,127.78 L1657.89,124.69 L1659.77,121.61 L1661.65,118.53 L1663.54,115.46 L1665.42,112.40 L1667.30,109.35" fill="none" stroke="#3d722a" stroke-width="3" stroke-linejoin="round" stroke-linecap="round"/>
<path d="M1443.30,515.40 L1445.18,512.06 L1447.06,508.72 L1448.95,505.39 L1450.83,502.05 L1452.71,498.71 L1454.59,495.38 L1456.48,492.04 L1458.36,488.71 L1460.24,485.38 L1462.12,482.05 L1464.01,478.72 L1465.89,475.40 L1467.77,472.07 L1469.65,468.75 L1471.54,465.43 L1473.42,462.12 L1475.30,458.80 L1477.18,455.49 L1479.06,452.19 L1480.95,448.88 L1482.83,445.58 L1484.71,442.29 L1486.59,438.99 L1488.48,435.71 L1490.36,432.42 L1492.24,429.14 L1494.12,425.87 L1496.01,422.60 L1497.89,419.34 L1499.77,416.08 L1501.65,412.82 L1503.54,409.57 L1505.42,406.33 L1507.30,403.09 L1509.18,399.86 L1511.06,396.64 L1512.95,393.42 L1514.83,390.21 L1516.71,387.00 L1518.59,383.81 L1520.48,380.61 L1522.36,377.43 L1524.24,374.25 L1526.12,371.08 L1528.01,367.92 L1529.89,364.77 L1531.77,361.62 L1533.65,358.48 L1535.54,355.35 L1537.42,352.23 L1539.30,349.11 L1541.18,346.01 L1543.06,342.91 L1544.95,339.82 L1546.83,336.74 L1548.71,333.67 L1550.59,330.61 L1552.48,327.56 L1554.36,324.52 L1556.24,321.49 L1558.12,318.47 L1560.01,315.45 L1561.89,312.45 L1563.77,309.46 L1565.65,306.48 L1567.54,303.50 L1569.42,300.54 L1571.30,297.59 L1573.18,294.65 L1575.06,291.72 L1576.95,288.80 L1578.83,285.89 L1580.71,282.99 L1582.59,280.11 L1584.48,277.23 L1586.36,274.37 L1588.24,271.52 L1590.12,268.68 L1592.01,265.85 L1593.89,263.03 L1595.77,260.22 L1597.65,257.43 L1599.54,254.65 L1601.42,251.88 L1603.30,249.12 L1605.18,246.37 L1607.06,243.64 L1608.95,240.92 L1610.83,238.21 L1612.71,235.51 L1614.59,232.83 L1616.48,230.15 L1618.36,227.49 L1620.24,224.85 L1622.12,222.21 L1624.01,219.59 L1625.89,216.98 L1627.77,214.39 L1629.65,211.80 L1631.54,209.23 L1633.42,206.68 L1635.30,204.13 L1637.18,201.60 L1639.06,199.08 L1640.95,196.58 L1642.83,194.09 L1644.71,191.61 L1646.59,189.14 L1648.48,186.69 L1650.36,184.25 L1652.24,181.83 L1654.12,179.42 L1656.01,177.02 L1657.89,174.63 L1659.77,172.26 L1661.65,169.90 L1663.54,167.56 L1665.42,165.23 L1667.30,162.91" fill="none" stroke="#6e8c2a" stroke-width="3" stroke-linejoin="round" stroke-linecap="round"/>
<path d="M1443.30,515.40 L1445.18,512.36 L1447.06,509.31 L1448.95,506.27 L1450.83,503.23 L1452.71,500.19 L1454.59,497.15 L1456.48,494.12 L1458.36,491.08 L1460.24,488.05 L1462.12,485.02 L1464.01,482.00 L1465.89,478.97 L1467.77,475.96 L1469.65,472.94 L1471.54,469.93 L1473.42,466.93 L1475.30,463.93 L1477.18,460.93 L1479.06,457.94 L1480.95,454.96 L1482.83,451.98 L1484.71,449.01 L1486.59,446.05 L1488.48,443.09 L1490.36,440.14 L1492.24,437.20 L1494.12,434.27 L1496.01,431.34 L1497.89,428.43 L1499.77,425.52 L1501.65,422.62 L1503.54,419.73 L1505.42,416.85 L1507.30,413.98 L1509.18,411.12 L1511.06,408.27 L1512.95,405.43 L1514.83,402.60 L1516.71,399.78 L1518.59,396.97 L1520.48,394.18 L1522.36,391.39 L1524.24,388.62 L1526.12,385.86 L1528.01,383.11 L1529.89,380.38 L1531.77,377.66 L1533.65,374.95 L1535.54,372.25 L1537.42,369.57 L1539.30,366.90 L1541.18,364.24 L1543.06,361.60 L1544.95,358.97 L1546.83,356.36 L1548.71,353.76 L1550.59,351.17 L1552.48,348.60 L1554.36,346.05 L1556.24,343.51 L1558.12,340.98 L1560.01,338.47 L1561.89,335.97 L1563.77,333.49 L1565.65,331.03 L1567.54,328.58 L1569.42,326.15 L1571.30,323.73 L1573.18,321.33 L1575.06,318.94 L1576.95,316.57 L1578.83,314.22 L1580.71,311.88 L1582.59,309.56 L1584.48,307.26 L1586.36,304.97 L1588.24,302.70 L1590.12,300.44 L1592.01,298.21 L1593.89,295.98 L1595.77,293.78 L1597.65,291.59 L1599.54,289.42 L1601.42,287.27 L1603.30,285.13 L1605.18,283.01 L1607.06,280.91 L1608.95,278.82 L1610.83,276.75 L1612.71,274.70 L1614.59,272.66 L1616.48,270.64 L1618.36,268.64 L1620.24,266.66 L1622.12,264.69 L1624.01,262.74 L1625.89,260.81 L1627.77,258.89 L1629.65,256.99 L1631.54,255.11 L1633.42,253.24 L1635.30,251.39 L1637.18,249.56 L1639.06,247.74 L1640.95,245.94 L1642.83,244.16 L1644.71,242.39 L1646.59,240.64 L1648.48,238.91 L1650.36,237.19 L1652.24,235.49 L1654.12,233.81 L1656.01,232.14 L1657.89,230.49 L1659.77,228.86 L1661.65,227.24 L1663.54,225.63 L1665.42,224.05 L1667.30,222.48" fill="none" stroke="#9ca52b" stroke-width="3" stroke-linejoin="round" stroke-linecap="round"/>
<path d="M1443.30,515.40 L1445.18,512.77 L1447.06,510.15 L1448.95,507.52 L1450.83,504.90 L1452.71,502.28 L1454.59,499.66 L1456.48,497.04 L1458.36,494.43 L1460.24,491.82 L1462.12,489.22 L1464.01,486.61 L1465.89,484.02 L1467.77,481.43 L1469.65,478.84 L1471.54,476.27 L1473.42,473.69 L1475.30,471.13 L1477.18,468.57 L1479.06,466.02 L1480.95,463.48 L1482.83,460.95 L1484.71,458.43 L1486.59,455.91 L1488.48,453.41 L1490.36,450.92 L1492.24,448.43 L1494.12,445.96 L1496.01,443.50 L1497.89,441.05 L1499.77,438.62 L1501.65,436.19 L1503.54,433.78 L1505.42,431.38 L1507.30,429.00 L1509.18,426.63 L1511.06,424.27 L1512.95,421.93 L1514.83,419.60 L1516.71,417.28 L1518.59,414.98 L1520.48,412.70 L1522.36,410.43 L1524.24,408.18 L1526.12,405.94 L1528.01,403.72 L1529.89,401.52 L1531.77,399.33 L1533.65,397.16 L1535.54,395.01 L1537.42,392.87 L1539.30,390.75 L1541.18,388.65 L1543.06,386.57 L1544.95,384.50 L1546.83,382.45 L1548.71,380.42 L1550.59,378.41 L1552.48,376.42 L1554.36,374.44 L1556.24,372.49 L1558.12,370.55 L1560.01,368.63 L1561.89,366.73 L1563.77,364.84 L1565.65,362.98 L1567.54,361.13 L1569.42,359.31 L1571.30,357.50 L1573.18,355.71 L1575.06,353.94 L1576.95,352.19 L1578.83,350.46 L1580.71,348.74 L1582.59,347.05 L1584.48,345.37 L1586.36,343.72 L1588.24,342.08 L1590.12,340.46 L1592.01,338.86 L1593.89,337.28 L1595.77,335.71 L1597.65,334.17 L1599.54,332.64 L1601.42,331.13 L1603.30,329.64 L1605.18,328.17 L1607.06,326.72 L1608.95,325.28 L1610.83,323.87 L1612.71,322.47 L1614.59,321.09 L1616.48,319.72 L1618.36,318.38 L1620.24,317.05 L1622.12,315.74 L1624.01,314.44 L1625.89,313.17 L1627.77,311.91 L1629.65,310.66 L1631.54,309.44 L1633.42,308.23 L1635.30,307.04 L1637.18,305.86 L1639.06,304.70 L1640.95,303.55 L1642.83,302.43 L1644.71,301.31 L1646.59,300.22 L1648.48,299.14 L1650.36,298.07 L1652.24,297.02 L1654.12,295.98 L1656.01,294.96 L1657.89,293.96 L1659.77,292.97 L1661.65,291.99 L1663.54,291.03 L1665.42,290.08 L1667.30,289.15" fill="none" stroke="#bdb52d" stroke-width="3" stroke-linejoin="round" stroke-linecap="round"/>
<path d="M1443.30,515.40 L1445.18,513.19 L1447.06,510.97 L1448.95,508.76 L1450.83,506.55 L1452.71,504.34 L1454.59,502.14 L1456.48,499.94 L1458.36,497.74 L1460.24,495.55 L1462.12,493.37 L1464.01,491.19 L1465.89,489.02 L1467.77,486.86 L1469.65,484.71 L1471.54,482.57 L1473.42,480.44 L1475.30,478.32 L1477.18,476.21 L1479.06,474.12 L1480.95,472.03 L1482.83,469.96 L1484.71,467.90 L1486.59,465.86 L1488.48,463.83 L1490.36,461.82 L1492.24,459.82 L1494.12,457.84 L1496.01,455.88 L1497.89,453.93 L1499.77,452.00 L1501.65,450.09 L1503.54,448.20 L1505.42,446.32 L1507.30,444.47 L1509.18,442.63 L1511.06,440.81 L1512.95,439.01 L1514.83,437.23 L1516.71,435.48 L1518.59,433.74 L1520.48,432.02 L1522.36,430.33 L1524.24,428.65 L1526.12,427.00 L1528.01,425.37 L1529.89,423.75 L1531.77,422.17 L1533.65,420.60 L1535.54,419.05 L1537.42,417.53 L1539.30,416.02 L1541.18,414.54 L1543.06,413.08 L1544.95,411.64 L1546.83,410.23 L1548.71,408.83 L1550.59,407.46 L1552.48,406.11 L1554.36,404.78 L1556.24,403.47 L1558.12,402.18 L1560.01,400.92 L1561.89,399.67 L1563.77,398.45 L1565.65,397.24 L1567.54,396.06 L1569.42,394.90 L1571.30,393.75 L1573.18,392.63 L1575.06,391.53 L1576.95,390.45 L1578.83,389.39 L1580.71,388.34 L1582.59,387.32 L1584.48,386.31 L1586.36,385.33 L1588.24,384.36 L1590.12,383.41 L1592.01,382.48 L1593.89,381.57 L1595.77,380.67 L1597.65,379.79 L1599.54,378.93 L1601.42,378.09 L1603.30,377.26 L1605.18,376.45 L1607.06,375.66 L1608.95,374.88 L1610.83,374.12 L1612.71,373.37 L1614.59,372.64 L1616.48,371.92 L1618.36,371.22 L1620.24,370.54 L1622.12,369.87 L1624.01,369.21 L1625.89,368.56 L1627.77,367.93 L1629.65,367.32 L1631.54,366.71 L1633.42,366.12 L1635.30,365.54 L1637.18,364.98 L1639.06,364.43 L1640.95,363.89 L1642.83,363.36 L1644.71,362.84 L1646.59,362.33 L1648.48,361.84 L1650.36,361.35 L1652.24,360.88 L1654.12,360.42 L1656.01,359.97 L1657.89,359.53 L1659.77,359.09 L1661.65,358.67 L1663.54,358.26 L1665.42,357.86 L1667.30,357.46" fill="none" stroke="#d8bf2f" stroke-width="3" stroke-linejoin="round" stroke-linecap="round"/>
<path d="M1443.30,515.40 L1445.18,513.49 L1447.06,511.58 L1448.95,509.67 L1450.83,507.76 L1452.71,505.87 L1454.59,503.98 L1456.48,502.09 L1458.36,500.22 L1460.24,498.37 L1462.12,496.52 L1464.01,494.69 L1465.89,492.87 L1467.77,491.08 L1469.65,489.30 L1471.54,487.53 L1473.42,485.79 L1475.30,484.08 L1477.18,482.38 L1479.06,480.71 L1480.95,479.06 L1482.83,477.43 L1484.71,475.83 L1486.59,474.26 L1488.48,472.72 L1490.36,471.20 L1492.24,469.71 L1494.12,468.25 L1496.01,466.81 L1497.89,465.41 L1499.77,464.03 L1501.65,462.69 L1503.54,461.37 L1505.42,460.08 L1507.30,458.82 L1509.18,457.59 L1511.06,456.39 L1512.95,455.22 L1514.83,454.08 L1516.71,452.97 L1518.59,451.89 L1520.48,450.83 L1522.36,449.81 L1524.24,448.81 L1526.12,447.84 L1528.01,446.89 L1529.89,445.97 L1531.77,445.08 L1533.65,444.22 L1535.54,443.38 L1537.42,442.56 L1539.30,441.77 L1541.18,441.00 L1543.06,440.26 L1544.95,439.54 L1546.83,438.84 L1548.71,438.17 L1550.59,437.51 L1552.48,436.88 L1554.36,436.27 L1556.24,435.67 L1558.12,435.10 L1560.01,434.54 L1561.89,434.01 L1563.77,433.49 L1565.65,432.99 L1567.54,432.51 L1569.42,432.04 L1571.30,431.59 L1573.18,431.15 L1575.06,430.73 L1576.95,430.33 L1578.83,429.93 L1580.71,429.56 L1582.59,429.19 L1584.48,428.84 L1586.36,428.50 L1588.24,428.17 L1590.12,427.86 L1592.01,427.55 L1593.89,427.26 L1595.77,426.98 L1597.65,426.71 L1599.54,426.44 L1601.42,426.19 L1603.30,425.95 L1605.18,425.71 L1607.06,425.49 L1608.95,425.27 L1610.83,425.06 L1612.71,424.86 L1614.59,424.67 L1616.48,424.48 L1618.36,424.30 L1620.24,424.13 L1622.12,423.96 L1624.01,423.80 L1625.89,423.64 L1627.77,423.50 L1629.65,423.35 L1631.54,423.22 L1633.42,423.08 L1635.30,422.96 L1637.18,422.83 L1639.06,422.71 L1640.95,422.60 L1642.83,422.49 L1644.71,422.39 L1646.59,422.29 L1648.48,422.19 L1650.36,422.10 L1652.24,422.01 L1654.12,421.92 L1656.01,421.84 L1657.89,421.76 L1659.77,421.68 L1661.65,421.61 L1663.54,421.54 L1665.42,421.47 L1667.30,421.40" fill="none" stroke="#e6c131" stroke-width="3" stroke-linejoin="round" stroke-linecap="round"/>
<path d="M1443.30,515.40 L1445.18,514.35 L1447.06,513.30 L1448.95,512.25 L1450.83,511.20 L1452.71,510.16 L1454.59,509.13 L1456.48,508.10 L1458.36,507.08 L1460.24,506.06 L1462.12,505.06 L1464.01,504.06 L1465.89,503.08 L1467.77,502.11 L1469.65,501.15 L1471.54,500.20 L1473.42,499.27 L1475.30,498.35 L1477.18,497.45 L1479.06,496.57 L1480.95,495.70 L1482.83,494.84 L1484.71,494.01 L1486.59,493.19 L1488.48,492.39 L1490.36,491.60 L1492.24,490.84 L1494.12,490.09 L1496.01,489.36 L1497.89,488.65 L1499.77,487.96 L1501.65,487.29 L1503.54,486.63 L1505.42,485.99 L1507.30,485.37 L1509.18,484.77 L1511.06,484.19 L1512.95,483.62 L1514.83,483.08 L1516.71,482.55 L1518.59,482.03 L1520.48,481.53 L1522.36,481.05 L1524.24,480.59 L1526.12,480.14 L1528.01,479.70 L1529.89,479.28 L1531.77,478.88 L1533.65,478.49 L1535.54,478.11 L1537.42,477.75 L1539.30,477.39 L1541.18,477.06 L1543.06,476.73 L1544.95,476.42 L1546.83,476.12 L1548.71,475.83 L1550.59,475.55 L1552.48,475.28 L1554.36,475.02 L1556.24,474.78 L1558.12,474.54 L1560.01,474.31 L1561.89,474.09 L1563.77,473.88 L1565.65,473.68 L1567.54,473.48 L1569.42,473.30 L1571.30,473.12 L1573.18,472.94 L1575.06,472.78 L1576.95,472.62 L1578.83,472.47 L1580.71,472.32 L1582.59,472.19 L1584.48,472.05 L1586.36,471.92 L1588.24,471.80 L1590.12,471.68 L1592.01,471.57 L1593.89,471.46 L1595.77,471.36 L1597.65,471.26 L1599.54,471.17 L1601.42,471.08 L1603.30,470.99 L1605.18,470.91 L1607.06,470.83 L1608.95,470.75 L1610.83,470.68 L1612.71,470.61 L1614.59,470.54 L1616.48,470.48 L1618.36,470.42 L1620.24,470.36 L1622.12,470.30 L1624.01,470.25 L1625.89,470.20 L1627.77,470.15 L1629.65,470.10 L1631.54,470.06 L1633.42,470.01 L1635.30,469.97 L1637.18,469.93 L1639.06,469.90 L1640.95,469.86 L1642.83,469.82 L1644.71,469.79 L1646.59,469.76 L1648.48,469.73 L1650.36,469.70 L1652.24,469.67 L1654.12,469.65 L1656.01,469.62 L1657.89,469.60 L1659.77,469.58 L1661.65,469.55 L1663.54,469.53 L1665.42,469.51 L1667.30,469.49" fill="none" stroke="#ebb531" stroke-width="3" stroke-linejoin="round" stroke-linecap="round"/>
<path d="M1443.30,515.40 L1445.18,514.87 L1447.06,514.35 L1448.95,513.82 L1450.83,513.30 L1452.71,512.78 L1454.59,512.27 L1456.48,511.76 L1458.36,511.26 L1460.24,510.77 L1462.12,510.28 L1464.01,509.81 L1465.89,509.34 L1467.77,508.89 L1469.65,508.44 L1471.54,508.01 L1473.42,507.59 L1475.30,507.18 L1477.18,506.78 L1479.06,506.40 L1480.95,506.02 L1482.83,505.66 L1484.71,505.31 L1486.59,504.98 L1488.48,504.66 L1490.36,504.35 L1492.24,504.05 L1494.12,503.76 L1496.01,503.49 L1497.89,503.23 L1499.77,502.98 L1501.65,502.74 L1503.54,502.51 L1505.42,502.29 L1507.30,502.09 L1509.18,501.89 L1511.06,501.70 L1512.95,501.52 L1514.83,501.35 L1516.71,501.19 L1518.59,501.04 L1520.48,500.89 L1522.36,500.75 L1524.24,500.62 L1526.12,500.50 L1528.01,500.38 L1529.89,500.27 L1531.77,500.16 L1533.65,500.07 L1535.54,499.97 L1537.42,499.88 L1539.30,499.80 L1541.18,499.72 L1543.06,499.65 L1544.95,499.58 L1546.83,499.51 L1548.71,499.45 L1550.59,499.39 L1552.48,499.33 L1554.36,499.28 L1556.24,499.23 L1558.12,499.18 L1560.01,499.14 L1561.89,499.10 L1563.77,499.06 L1565.65,499.02 L1567.54,498.99 L1569.42,498.95 L1571.30,498.92 L1573.18,498.89 L1575.06,498.87 L1576.95,498.84 L1578.83,498.82 L1580.71,498.79 L1582.59,498.77 L1584.48,498.75 L1586.36,498.73 L1588.24,498.72 L1590.12,498.70 L1592.01,498.68 L1593.89,498.67 L1595.77,498.66 L1597.65,498.64 L1599.54,498.63 L1601.42,498.62 L1603.30,498.61 L1605.18,498.60 L1607.06,498.59 L1608.95,498.58 L1610.83,498.57 L1612.71,498.56 L1614.59,498.56 L1616.48,498.55 L1618.36,498.54 L1620.24,498.54 L1622.12,498.53 L1624.01,498.52 L1625.89,498.52 L1627.77,498.51 L1629.65,498.51 L1631.54,498.50 L1633.42,498.50 L1635.30,498.50 L1637.18,498.49 L1639.06,498.49 L1640.95,498.49 L1642.83,498.48 L1644.71,498.48 L1646.59,498.48 L1648.48,498.48 L1650.36,498.47 L1652.24,498.47 L1654.12,498.47 L1656.01,498.47 L1657.89,498.47 L1659.77,498.46 L1661.65,498.46 L1663.54,498.46 L1665.42,498.46 L1667.30,498.46" fill="none" stroke="#efa231" stroke-width="3" stroke-linejoin="round" stroke-linecap="round"/>
<path d="M1443.30,515.40 L1445.18,515.22 L1447.06,515.03 L1448.95,514.85 L1450.83,514.67 L1452.71,514.49 L1454.59,514.32 L1456.48,514.15 L1458.36,513.98 L1460.24,513.82 L1462.12,513.66 L1464.01,513.51 L1465.89,513.37 L1467.77,513.22 L1469.65,513.09 L1471.54,512.96 L1473.42,512.84 L1475.30,512.72 L1477.18,512.61 L1479.06,512.50 L1480.95,512.40 L1482.83,512.31 L1484.71,512.22 L1486.59,512.13 L1488.48,512.05 L1490.36,511.98 L1492.24,511.91 L1494.12,511.85 L1496.01,511.79 L1497.89,511.73 L1499.77,511.68 L1501.65,511.63 L1503.54,511.58 L1505.42,511.54 L1507.30,511.50 L1509.18,511.47 L1511.06,511.43 L1512.95,511.40 L1514.83,511.37 L1516.71,511.35 L1518.59,511.32 L1520.48,511.30 L1522.36,511.28 L1524.24,511.26 L1526.12,511.24 L1528.01,511.22 L1529.89,511.21 L1531.77,511.19 L1533.65,511.18 L1535.54,511.17 L1537.42,511.16 L1539.30,511.15 L1541.18,511.14 L1543.06,511.13 L1544.95,511.12 L1546.83,511.11 L1548.71,511.11 L1550.59,511.10 L1552.48,511.09 L1554.36,511.09 L1556.24,511.08 L1558.12,511.08 L1560.01,511.08 L1561.89,511.07 L1563.77,511.07 L1565.65,511.06 L1567.54,511.06 L1569.42,511.06 L1571.30,511.06 L1573.18,511.05 L1575.06,511.05 L1576.95,511.05 L1578.83,511.05 L1580.71,511.05 L1582.59,511.04 L1584.48,511.04 L1586.36,511.04 L1588.24,511.04 L1590.12,511.04 L1592.01,511.04 L1593.89,511.04 L1595.77,511.04 L1597.65,511.04 L1599.54,511.04 L1601.42,511.04 L1603.30,511.03 L1605.18,511.03 L1607.06,511.03 L1608.95,511.03 L1610.83,511.03 L1612.71,511.03 L1614.59,511.03 L1616.48,511.03 L1618.36,511.03 L1620.24,511.03 L1622.12,511.03 L1624.01,511.03 L1625.89,511.03 L1627.77,511.03 L1629.65,511.03 L1631.54,511.03 L1633.42,511.03 L1635.30,511.03 L1637.18,511.03 L1639.06,511.03 L1640.95,511.03 L1642.83,511.03 L1644.71,511.03 L1646.59,511.03 L1648.48,511.03 L1650.36,511.03 L1652.24,511.03 L1654.12,511.03 L1656.01,511.03 L1657.89,511.03 L1659.77,511.03 L1661.65,511.03 L1663.54,511.03 L1665.42,511.03 L1667.30,511.03" fill="none" stroke="#f08a2e" stroke-width="3" stroke-linejoin="round" stroke-linecap="round"/>
<path d="M1443.30,515.40 L1445.18,515.34 L1447.06,515.28 L1448.95,515.22 L1450.83,515.16 L1452.71,515.10 L1454.59,515.05 L1456.48,514.99 L1458.36,514.94 L1460.24,514.89 L1462.12,514.84 L1464.01,514.80 L1465.89,514.76 L1467.77,514.72 L1469.65,514.68 L1471.54,514.65 L1473.42,514.62 L1475.30,514.59 L1477.18,514.56 L1479.06,514.54 L1480.95,514.52 L1482.83,514.50 L1484.71,514.48 L1486.59,514.46 L1488.48,514.45 L1490.36,514.43 L1492.24,514.42 L1494.12,514.41 L1496.01,514.40 L1497.89,514.39 L1499.77,514.38 L1501.65,514.37 L1503.54,514.37 L1505.42,514.36 L1507.30,514.35 L1509.18,514.35 L1511.06,514.35 L1512.95,514.34 L1514.83,514.34 L1516.71,514.33 L1518.59,514.33 L1520.48,514.33 L1522.36,514.33 L1524.24,514.32 L1526.12,514.32 L1528.01,514.32 L1529.89,514.32 L1531.77,514.32 L1533.65,514.32 L1535.54,514.32 L1537.42,514.32 L1539.30,514.31 L1541.18,514.31 L1543.06,514.31 L1544.95,514.31 L1546.83,514.31 L1548.71,514.31 L1550.59,514.31 L1552.48,514.31 L1554.36,514.31 L1556.24,514.31 L1558.12,514.31 L1560.01,514.31 L1561.89,514.31 L1563.77,514.31 L1565.65,514.31 L1567.54,514.31 L1569.42,514.31 L1571.30,514.31 L1573.18,514.31 L1575.06,514.31 L1576.95,514.31 L1578.83,514.31 L1580.71,514.31 L1582.59,514.31 L1584.48,514.31 L1586.36,514.31 L1588.24,514.31 L1590.12,514.31 L1592.01,514.31 L1593.89,514.31 L1595.77,514.31 L1597.65,514.31 L1599.54,514.31 L1601.42,514.31 L1603.30,514.31 L1605.18,514.31 L1607.06,514.31 L1608.95,514.31 L1610.83,514.31 L1612.71,514.31 L1614.59,514.31 L1616.48,514.31 L1618.36,514.31 L1620.24,514.31 L1622.12,514.31 L1624.01,514.31 L1625.89,514.31 L1627.77,514.31 L1629.65,514.31 L1631.54,514.31 L1633.42,514.31 L1635.30,514.31 L1637.18,514.31 L1639.06,514.31 L1640.95,514.31 L1642.83,514.31 L1644.71,514.31 L1646.59,514.31 L1648.48,514.31 L1650.36,514.31 L1652.24,514.31 L1654.12,514.31 L1656.01,514.31 L1657.89,514.31 L1659.77,514.31 L1661.65,514.31 L1663.54,514.31 L1665.42,514.31 L1667.30,514.31" fill="none" stroke="#f0702a" stroke-width="3" stroke-linejoin="round" stroke-linecap="round"/>
<path d="M1443.30,515.40 L1445.18,515.38 L1447.06,515.35 L1448.95,515.33 L1450.83,515.31 L1452.71,515.29 L1454.59,515.27 L1456.48,515.26 L1458.36,515.24 L1460.24,515.23 L1462.12,515.21 L1464.01,515.20 L1465.89,515.19 L1467.77,515.18 L1469.65,515.17 L1471.54,515.17 L1473.42,515.16 L1475.30,515.16 L1477.18,515.15 L1479.06,515.15 L1480.95,515.15 L1482.83,515.14 L1484.71,515.14 L1486.59,515.14 L1488.48,515.14 L1490.36,515.13 L1492.24,515.13 L1494.12,515.13 L1496.01,515.13 L1497.89,515.13 L1499.77,515.13 L1501.65,515.13 L1503.54,515.13 L1505.42,515.13 L1507.30,515.13 L1509.18,515.13 L1511.06,515.13 L1512.95,515.13 L1514.83,515.13 L1516.71,515.13 L1518.59,515.13 L1520.48,515.13 L1522.36,515.13 L1524.24,515.13 L1526.12,515.13 L1528.01,515.13 L1529.89,515.13 L1531.77,515.13 L1533.65,515.13 L1535.54,515.13 L1537.42,515.13 L1539.30,515.13 L1541.18,515.13 L1543.06,515.13 L1544.95,515.13 L1546.83,515.13 L1548.71,515.13 L1550.59,515.13 L1552.48,515.13 L1554.36,515.13 L1556.24,515.13 L1558.12,515.13 L1560.01,515.13 L1561.89,515.13 L1563.77,515.13 L1565.65,515.13 L1567.54,515.13 L1569.42,515.13 L1571.30,515.13 L1573.18,515.13 L1575.06,515.13 L1576.95,515.13 L1578.83,515.13 L1580.71,515.13 L1582.59,515.13 L1584.48,515.13 L1586.36,515.13 L1588.24,515.13 L1590.12,515.13 L1592.01,515.13 L1593.89,515.13 L1595.77,515.13 L1597.65,515.13 L1599.54,515.13 L1601.42,515.13 L1603.30,515.13 L1605.18,515.13 L1607.06,515.13 L1608.95,515.13 L1610.83,515.13 L1612.71,515.13 L1614.59,515.13 L1616.48,515.13 L1618.36,515.13 L1620.24,515.13 L1622.12,515.13 L1624.01,515.13 L1625.89,515.13 L1627.77,515.13 L1629.65,515.13 L1631.54,515.13 L1633.42,515.13 L1635.30,515.13 L1637.18,515.13 L1639.06,515.13 L1640.95,515.13 L1642.83,515.13 L1644.71,515.13 L1646.59,515.13 L1648.48,515.13 L1650.36,515.13 L1652.24,515.13 L1654.12,515.13 L1656.01,515.13 L1657.89,515.13 L1659.77,515.13 L1661.65,515.13 L1663.54,515.13 L1665.42,515.13 L1667.30,515.13" fill="none" stroke="#f05828" stroke-width="3" stroke-linejoin="round" stroke-linecap="round"/>
<path d="M1443.30,515.40 L1445.18,515.40 L1447.06,515.40 L1448.95,515.40 L1450.83,515.40 L1452.71,515.40 L1454.59,515.40 L1456.48,515.40 L1458.36,515.40 L1460.24,515.40 L1462.12,515.40 L1464.01,515.40 L1465.89,515.40 L1467.77,515.40 L1469.65,515.40 L1471.54,515.40 L1473.42,515.40 L1475.30,515.40 L1477.18,515.40 L1479.06,515.40 L1480.95,515.40 L1482.83,515.40 L1484.71,515.40 L1486.59,515.40 L1488.48,515.40 L1490.36,515.40 L1492.24,515.40 L1494.12,515.40 L1496.01,515.40 L1497.89,515.40 L1499.77,515.40 L1501.65,515.40 L1503.54,515.40 L1505.42,515.40 L1507.30,515.40 L1509.18,515.40 L1511.06,515.40 L1512.95,515.40 L1514.83,515.40 L1516.71,515.40 L1518.59,515.40 L1520.48,515.40 L1522.36,515.40 L1524.24,515.40 L1526.12,515.40 L1528.01,515.40 L1529.89,515.40 L1531.77,515.40 L1533.65,515.40 L1535.54,515.40 L1537.42,515.40 L1539.30,515.40 L1541.18,515.40 L1543.06,515.40 L1544.95,515.40 L1546.83,515.40 L1548.71,515.40 L1550.59,515.40 L1552.48,515.40 L1554.36,515.40 L1556.24,515.40 L1558.12,515.40 L1560.01,515.40 L1561.89,515.40 L1563.77,515.40 L1565.65,515.40 L1567.54,515.40 L1569.42,515.40 L1571.30,515.40 L1573.18,515.40 L1575.06,515.40 L1576.95,515.40 L1578.83,515.40 L1580.71,515.40 L1582.59,515.40 L1584.48,515.40 L1586.36,515.40 L1588.24,515.40 L1590.12,515.40 L1592.01,515.40 L1593.89,515.40 L1595.77,515.40 L1597.65,515.40 L1599.54,515.40 L1601.42,515.40 L1603.30,515.40 L1605.18,515.40 L1607.06,515.40 L1608.95,515.40 L1610.83,515.40 L1612.71,515.40 L1614.59,515.40 L1616.48,515.40 L1618.36,515.40 L1620.24,515.40 L1622.12,515.40 L1624.01,515.40 L1625.89,515.40 L1627.77,515.40 L1629.65,515.40 L1631.54,515.40 L1633.42,515.40 L1635.30,515.40 L1637.18,515.40 L1639.06,515.40 L1640.95,515.40 L1642.83,515.40 L1644.71,515.40 L1646.59,515.40 L1648.48,515.40 L1650.36,515.40 L1652.24,515.40 L1654.12,515.40 L1656.01,515.40 L1657.89,515.40 L1659.77,515.40 L1661.65,515.40 L1663.54,515.40 L1665.42,515.40 L1667.30,515.40" fill="none" stroke="#f0402e" stroke-width="3" stroke-linejoin="round" stroke-linecap="round"/>
<path d="M1443.30,515.40 L1445.18,515.40 L1447.06,515.40 L1448.95,515.40 L1450.83,515.40 L1452.71,515.40 L1454.59,515.40 L1456.48,515.40 L1458.36,515.40 L1460.24,515.40 L1462.12,515.40 L1464.01,515.40 L1465.89,515.40 L1467.77,515.40 L1469.65,515.40 L1471.54,515.40 L1473.42,515.40 L1475.30,515.40 L1477.18,515.40 L1479.06,515.40 L1480.95,515.40 L1482.83,515.40 L1484.71,515.40 L1486.59,515.40 L1488.48,515.40 L1490.36,515.40 L1492.24,515.40 L1494.12,515.40 L1496.01,515.40 L1497.89,515.40 L1499.77,515.40 L1501.65,515.40 L1503.54,515.40 L1505.42,515.40 L1507.30,515.40 L1509.18,515.40 L1511.06,515.40 L1512.95,515.40 L1514.83,515.40 L1516.71,515.40 L1518.59,515.40 L1520.48,515.40 L1522.36,515.40 L1524.24,515.40 L1526.12,515.40 L1528.01,515.40 L1529.89,515.40 L1531.77,515.40 L1533.65,515.40 L1535.54,515.40 L1537.42,515.40 L1539.30,515.40 L1541.18,515.40 L1543.06,515.40 L1544.95,515.40 L1546.83,515.40 L1548.71,515.40 L1550.59,515.40 L1552.48,515.40 L1554.36,515.40 L1556.24,515.40 L1558.12,515.40 L1560.01,515.40 L1561.89,515.40 L1563.77,515.40 L1565.65,515.40 L1567.54,515.40 L1569.42,515.40 L1571.30,515.40 L1573.18,515.40 L1575.06,515.40 L1576.95,515.40 L1578.83,515.40 L1580.71,515.40 L1582.59,515.40 L1584.48,515.40 L1586.36,515.40 L1588.24,515.40 L1590.12,515.40 L1592.01,515.40 L1593.89,515.40 L1595.77,515.40 L1597.65,515.40 L1599.54,515.40 L1601.42,515.40 L1603.30,515.40 L1605.18,515.40 L1607.06,515.40 L1608.95,515.40 L1610.83,515.40 L1612.71,515.40 L1614.59,515.40 L1616.48,515.40 L1618.36,515.40 L1620.24,515.40 L1622.12,515.40 L1624.01,515.40 L1625.89,515.40 L1627.77,515.40 L1629.65,515.40 L1631.54,515.40 L1633.42,515.40 L1635.30,515.40 L1637.18,515.40 L1639.06,515.40 L1640.95,515.40 L1642.83,515.40 L1644.71,515.40 L1646.59,515.40 L1648.48,515.40 L1650.36,515.40 L1652.24,515.40 L1654.12,515.40 L1656.01,515.40 L1657.89,515.40 L1659.77,515.40 L1661.65,515.40 L1663.54,515.40 L1665.42,515.40 L1667.30,515.40" fill="none" stroke="#ff0022" stroke-width="3" stroke-linejoin="round" stroke-linecap="round"/>
</g>
<g clip-path="url(#ccr)">
<path d="M1667.30,515.40 L1669.18,514.50 L1671.07,513.60 L1672.95,512.70 L1674.84,511.80 L1676.72,510.90 L1678.61,510.00 L1680.49,509.10 L1682.38,508.20 L1684.26,507.30 L1686.15,506.40 L1688.03,505.50 L1689.92,504.60 L1691.80,503.70 L1693.69,502.80 L1695.57,501.90 L1697.46,501.00 L1699.34,500.10 L1701.23,499.20 L1703.11,498.30 L1705.00,497.40 L1706.88,496.50 L1708.77,495.60 L1710.65,494.70 L1712.54,493.80 L1714.42,492.90 L1716.31,492.00 L1718.19,491.10 L1720.08,490.20 L1721.96,489.30 L1723.85,488.40 L1725.73,487.50 L1727.62,486.60 L1729.50,485.71 L1731.39,484.81 L1733.27,483.91 L1735.16,483.01 L1737.04,482.11 L1738.93,481.21 L1740.81,480.31 L1742.69,479.41 L1744.58,478.52 L1746.46,477.62 L1748.35,476.72 L1750.23,475.82 L1752.12,474.92 L1754.00,474.02 L1755.89,473.13 L1757.77,472.23 L1759.66,471.33 L1761.54,470.43 L1763.43,469.53 L1765.31,468.64 L1767.20,467.74 L1769.08,466.84 L1770.97,465.94 L1772.85,465.05 L1774.74,464.15 L1776.62,463.25 L1778.51,462.36 L1780.39,461.46 L1782.28,460.56 L1784.16,459.67 L1786.05,458.77 L1787.93,457.87 L1789.82,456.98 L1791.70,456.08 L1793.59,455.19 L1795.47,454.29 L1797.36,453.40 L1799.24,452.50 L1801.13,451.61 L1803.01,450.71 L1804.90,449.82 L1806.78,448.92 L1808.67,448.03 L1810.55,447.13 L1812.44,446.24 L1814.32,445.34 L1816.21,444.45 L1818.09,443.55 L1819.97,442.66 L1821.86,441.77 L1823.74,440.87 L1825.63,439.98 L1827.51,439.09 L1829.40,438.19 L1831.28,437.30 L1833.17,436.41 L1835.05,435.52 L1836.94,434.62 L1838.82,433.73 L1840.71,432.84 L1842.59,431.95 L1844.48,431.06 L1846.36,430.17 L1848.25,429.27 L1850.13,428.38 L1852.02,427.49 L1853.90,426.60 L1855.79,425.71 L1857.67,424.82 L1859.56,423.93 L1861.44,423.04 L1863.33,422.15 L1865.21,421.26 L1867.10,420.37 L1868.98,419.48 L1870.87,418.60 L1872.75,417.71 L1874.64,416.82 L1876.52,415.93 L1878.41,415.04 L1880.29,414.15 L1882.18,413.27 L1884.06,412.38 L1885.95,411.49 L1887.83,410.61 L1889.72,409.72 L1891.60,408.83" fill="none" stroke="#0b4f24" stroke-width="3" stroke-linejoin="round" stroke-linecap="round"/>
<path d="M1667.30,515.40 L1669.18,514.51 L1671.07,513.63 L1672.95,512.74 L1674.84,511.85 L1676.72,510.97 L1678.61,510.08 L1680.49,509.20 L1682.38,508.31 L1684.26,507.42 L1686.15,506.54 L1688.03,505.65 L1689.92,504.76 L1691.80,503.88 L1693.69,502.99 L1695.57,502.11 L1697.46,501.22 L1699.34,500.33 L1701.23,499.45 L1703.11,498.56 L1705.00,497.68 L1706.88,496.79 L1708.77,495.90 L1710.65,495.02 L1712.54,494.13 L1714.42,493.25 L1716.31,492.36 L1718.19,491.48 L1720.08,490.59 L1721.96,489.70 L1723.85,488.82 L1725.73,487.93 L1727.62,487.05 L1729.50,486.16 L1731.39,485.28 L1733.27,484.39 L1735.16,483.51 L1737.04,482.62 L1738.93,481.74 L1740.81,480.85 L1742.69,479.97 L1744.58,479.08 L1746.46,478.20 L1748.35,477.31 L1750.23,476.43 L1752.12,475.54 L1754.00,474.66 L1755.89,473.78 L1757.77,472.89 L1759.66,472.01 L1761.54,471.12 L1763.43,470.24 L1765.31,469.36 L1767.20,468.47 L1769.08,467.59 L1770.97,466.71 L1772.85,465.82 L1774.74,464.94 L1776.62,464.06 L1778.51,463.17 L1780.39,462.29 L1782.28,461.41 L1784.16,460.52 L1786.05,459.64 L1787.93,458.76 L1789.82,457.88 L1791.70,457.00 L1793.59,456.11 L1795.47,455.23 L1797.36,454.35 L1799.24,453.47 L1801.13,452.59 L1803.01,451.71 L1804.90,450.82 L1806.78,449.94 L1808.67,449.06 L1810.55,448.18 L1812.44,447.30 L1814.32,446.42 L1816.21,445.54 L1818.09,444.66 L1819.97,443.78 L1821.86,442.90 L1823.74,442.02 L1825.63,441.14 L1827.51,440.26 L1829.40,439.38 L1831.28,438.50 L1833.17,437.62 L1835.05,436.75 L1836.94,435.87 L1838.82,434.99 L1840.71,434.11 L1842.59,433.23 L1844.48,432.35 L1846.36,431.48 L1848.25,430.60 L1850.13,429.72 L1852.02,428.84 L1853.90,427.97 L1855.79,427.09 L1857.67,426.21 L1859.56,425.34 L1861.44,424.46 L1863.33,423.59 L1865.21,422.71 L1867.10,421.83 L1868.98,420.96 L1870.87,420.08 L1872.75,419.21 L1874.64,418.33 L1876.52,417.46 L1878.41,416.59 L1880.29,415.71 L1882.18,414.84 L1884.06,413.96 L1885.95,413.09 L1887.83,412.22 L1889.72,411.34 L1891.60,410.47" fill="none" stroke="#3d722a" stroke-width="3" stroke-linejoin="round" stroke-linecap="round"/>
<path d="M1667.30,515.40 L1669.18,514.53 L1671.07,513.66 L1672.95,512.79 L1674.84,511.92 L1676.72,511.05 L1678.61,510.18 L1680.49,509.32 L1682.38,508.45 L1684.26,507.58 L1686.15,506.71 L1688.03,505.84 L1689.92,504.97 L1691.80,504.10 L1693.69,503.23 L1695.57,502.36 L1697.46,501.49 L1699.34,500.62 L1701.23,499.76 L1703.11,498.89 L1705.00,498.02 L1706.88,497.15 L1708.77,496.28 L1710.65,495.41 L1712.54,494.54 L1714.42,493.68 L1716.31,492.81 L1718.19,491.94 L1720.08,491.07 L1721.96,490.20 L1723.85,489.33 L1725.73,488.47 L1727.62,487.60 L1729.50,486.73 L1731.39,485.86 L1733.27,484.99 L1735.16,484.13 L1737.04,483.26 L1738.93,482.39 L1740.81,481.52 L1742.69,480.66 L1744.58,479.79 L1746.46,478.92 L1748.35,478.06 L1750.23,477.19 L1752.12,476.32 L1754.00,475.46 L1755.89,474.59 L1757.77,473.72 L1759.66,472.86 L1761.54,471.99 L1763.43,471.12 L1765.31,470.26 L1767.20,469.39 L1769.08,468.53 L1770.97,467.66 L1772.85,466.80 L1774.74,465.93 L1776.62,465.07 L1778.51,464.20 L1780.39,463.34 L1782.28,462.47 L1784.16,461.61 L1786.05,460.74 L1787.93,459.88 L1789.82,459.01 L1791.70,458.15 L1793.59,457.29 L1795.47,456.42 L1797.36,455.56 L1799.24,454.70 L1801.13,453.83 L1803.01,452.97 L1804.90,452.11 L1806.78,451.24 L1808.67,450.38 L1810.55,449.52 L1812.44,448.66 L1814.32,447.80 L1816.21,446.93 L1818.09,446.07 L1819.97,445.21 L1821.86,444.35 L1823.74,443.49 L1825.63,442.63 L1827.51,441.77 L1829.40,440.91 L1831.28,440.05 L1833.17,439.19 L1835.05,438.33 L1836.94,437.47 L1838.82,436.61 L1840.71,435.75 L1842.59,434.89 L1844.48,434.04 L1846.36,433.18 L1848.25,432.32 L1850.13,431.46 L1852.02,430.60 L1853.90,429.75 L1855.79,428.89 L1857.67,428.03 L1859.56,427.18 L1861.44,426.32 L1863.33,425.47 L1865.21,424.61 L1867.10,423.75 L1868.98,422.90 L1870.87,422.04 L1872.75,421.19 L1874.64,420.34 L1876.52,419.48 L1878.41,418.63 L1880.29,417.77 L1882.18,416.92 L1884.06,416.07 L1885.95,415.21 L1887.83,414.36 L1889.72,413.51 L1891.60,412.66" fill="none" stroke="#6e8c2a" stroke-width="3" stroke-linejoin="round" stroke-linecap="round"/>
<path d="M1667.30,515.40 L1669.18,514.55 L1671.07,513.69 L1672.95,512.84 L1674.84,511.99 L1676.72,511.14 L1678.61,510.28 L1680.49,509.43 L1682.38,508.58 L1684.26,507.73 L1686.15,506.87 L1688.03,506.02 L1689.92,505.17 L1691.80,504.31 L1693.69,503.46 L1695.57,502.61 L1697.46,501.76 L1699.34,500.90 L1701.23,500.05 L1703.11,499.20 L1705.00,498.35 L1706.88,497.50 L1708.77,496.64 L1710.65,495.79 L1712.54,494.94 L1714.42,494.09 L1716.31,493.24 L1718.19,492.38 L1720.08,491.53 L1721.96,490.68 L1723.85,489.83 L1725.73,488.98 L1727.62,488.13 L1729.50,487.28 L1731.39,486.43 L1733.27,485.58 L1735.16,484.72 L1737.04,483.87 L1738.93,483.02 L1740.81,482.17 L1742.69,481.32 L1744.58,480.47 L1746.46,479.62 L1748.35,478.77 L1750.23,477.92 L1752.12,477.07 L1754.00,476.22 L1755.89,475.38 L1757.77,474.53 L1759.66,473.68 L1761.54,472.83 L1763.43,471.98 L1765.31,471.13 L1767.20,470.28 L1769.08,469.44 L1770.97,468.59 L1772.85,467.74 L1774.74,466.89 L1776.62,466.05 L1778.51,465.20 L1780.39,464.35 L1782.28,463.50 L1784.16,462.66 L1786.05,461.81 L1787.93,460.97 L1789.82,460.12 L1791.70,459.27 L1793.59,458.43 L1795.47,457.58 L1797.36,456.74 L1799.24,455.89 L1801.13,455.05 L1803.01,454.20 L1804.90,453.36 L1806.78,452.52 L1808.67,451.67 L1810.55,450.83 L1812.44,449.99 L1814.32,449.14 L1816.21,448.30 L1818.09,447.46 L1819.97,446.62 L1821.86,445.77 L1823.74,444.93 L1825.63,444.09 L1827.51,443.25 L1829.40,442.41 L1831.28,441.57 L1833.17,440.73 L1835.05,439.89 L1836.94,439.05 L1838.82,438.21 L1840.71,437.37 L1842.59,436.53 L1844.48,435.70 L1846.36,434.86 L1848.25,434.02 L1850.13,433.18 L1852.02,432.34 L1853.90,431.51 L1855.79,430.67 L1857.67,429.84 L1859.56,429.00 L1861.44,428.16 L1863.33,427.33 L1865.21,426.49 L1867.10,425.66 L1868.98,424.83 L1870.87,423.99 L1872.75,423.16 L1874.64,422.33 L1876.52,421.49 L1878.41,420.66 L1880.29,419.83 L1882.18,419.00 L1884.06,418.17 L1885.95,417.33 L1887.83,416.50 L1889.72,415.67 L1891.60,414.84" fill="none" stroke="#9ca52b" stroke-width="3" stroke-linejoin="round" stroke-linecap="round"/>
<path d="M1667.30,515.40 L1669.18,514.56 L1671.07,513.72 L1672.95,512.89 L1674.84,512.05 L1676.72,511.21 L1678.61,510.37 L1680.49,509.54 L1682.38,508.70 L1684.26,507.86 L1686.15,507.02 L1688.03,506.19 L1689.92,505.35 L1691.80,504.51 L1693.69,503.68 L1695.57,502.84 L1697.46,502.00 L1699.34,501.16 L1701.23,500.33 L1703.11,499.49 L1705.00,498.65 L1706.88,497.82 L1708.77,496.98 L1710.65,496.14 L1712.54,495.31 L1714.42,494.47 L1716.31,493.64 L1718.19,492.80 L1720.08,491.96 L1721.96,491.13 L1723.85,490.29 L1725.73,489.46 L1727.62,488.62 L1729.50,487.79 L1731.39,486.95 L1733.27,486.12 L1735.16,485.28 L1737.04,484.45 L1738.93,483.61 L1740.81,482.78 L1742.69,481.95 L1744.58,481.11 L1746.46,480.28 L1748.35,479.44 L1750.23,478.61 L1752.12,477.78 L1754.00,476.95 L1755.89,476.11 L1757.77,475.28 L1759.66,474.45 L1761.54,473.62 L1763.43,472.79 L1765.31,471.95 L1767.20,471.12 L1769.08,470.29 L1770.97,469.46 L1772.85,468.63 L1774.74,467.80 L1776.62,466.97 L1778.51,466.14 L1780.39,465.31 L1782.28,464.48 L1784.16,463.65 L1786.05,462.83 L1787.93,462.00 L1789.82,461.17 L1791.70,460.34 L1793.59,459.51 L1795.47,458.69 L1797.36,457.86 L1799.24,457.03 L1801.13,456.21 L1803.01,455.38 L1804.90,454.56 L1806.78,453.73 L1808.67,452.91 L1810.55,452.08 L1812.44,451.26 L1814.32,450.44 L1816.21,449.61 L1818.09,448.79 L1819.97,447.97 L1821.86,447.15 L1823.74,446.32 L1825.63,445.50 L1827.51,444.68 L1829.40,443.86 L1831.28,443.04 L1833.17,442.22 L1835.05,441.40 L1836.94,440.58 L1838.82,439.76 L1840.71,438.95 L1842.59,438.13 L1844.48,437.31 L1846.36,436.49 L1848.25,435.68 L1850.13,434.86 L1852.02,434.05 L1853.90,433.23 L1855.79,432.42 L1857.67,431.60 L1859.56,430.79 L1861.44,429.98 L1863.33,429.16 L1865.21,428.35 L1867.10,427.54 L1868.98,426.73 L1870.87,425.92 L1872.75,425.11 L1874.64,424.30 L1876.52,423.49 L1878.41,422.68 L1880.29,421.87 L1882.18,421.06 L1884.06,420.25 L1885.95,419.45 L1887.83,418.64 L1889.72,417.84 L1891.60,417.03" fill="none" stroke="#bdb52d" stroke-width="3" stroke-linejoin="round" stroke-linecap="round"/>
<path d="M1667.30,515.40 L1669.18,514.58 L1671.07,513.75 L1672.95,512.93 L1674.84,512.11 L1676.72,511.28 L1678.61,510.46 L1680.49,509.63 L1682.38,508.81 L1684.26,507.99 L1686.15,507.16 L1688.03,506.34 L1689.92,505.52 L1691.80,504.69 L1693.69,503.87 L1695.57,503.05 L1697.46,502.22 L1699.34,501.40 L1701.23,500.58 L1703.11,499.76 L1705.00,498.93 L1706.88,498.11 L1708.77,497.29 L1710.65,496.47 L1712.54,495.64 L1714.42,494.82 L1716.31,494.00 L1718.19,493.18 L1720.08,492.35 L1721.96,491.53 L1723.85,490.71 L1725.73,489.89 L1727.62,489.07 L1729.50,488.25 L1731.39,487.43 L1733.27,486.60 L1735.16,485.78 L1737.04,484.96 L1738.93,484.14 L1740.81,483.32 L1742.69,482.50 L1744.58,481.68 L1746.46,480.86 L1748.35,480.04 L1750.23,479.22 L1752.12,478.41 L1754.00,477.59 L1755.89,476.77 L1757.77,475.95 L1759.66,475.13 L1761.54,474.31 L1763.43,473.50 L1765.31,472.68 L1767.20,471.86 L1769.08,471.04 L1770.97,470.23 L1772.85,469.41 L1774.74,468.59 L1776.62,467.78 L1778.51,466.96 L1780.39,466.15 L1782.28,465.33 L1784.16,464.52 L1786.05,463.70 L1787.93,462.89 L1789.82,462.07 L1791.70,461.26 L1793.59,460.45 L1795.47,459.63 L1797.36,458.82 L1799.24,458.01 L1801.13,457.20 L1803.01,456.38 L1804.90,455.57 L1806.78,454.76 L1808.67,453.95 L1810.55,453.14 L1812.44,452.33 L1814.32,451.52 L1816.21,450.71 L1818.09,449.90 L1819.97,449.09 L1821.86,448.28 L1823.74,447.48 L1825.63,446.67 L1827.51,445.86 L1829.40,445.05 L1831.28,444.25 L1833.17,443.44 L1835.05,442.64 L1836.94,441.83 L1838.82,441.02 L1840.71,440.22 L1842.59,439.42 L1844.48,438.61 L1846.36,437.81 L1848.25,437.01 L1850.13,436.20 L1852.02,435.40 L1853.90,434.60 L1855.79,433.80 L1857.67,433.00 L1859.56,432.20 L1861.44,431.40 L1863.33,430.60 L1865.21,429.80 L1867.10,429.00 L1868.98,428.21 L1870.87,427.41 L1872.75,426.61 L1874.64,425.81 L1876.52,425.02 L1878.41,424.22 L1880.29,423.43 L1882.18,422.63 L1884.06,421.84 L1885.95,421.05 L1887.83,420.25 L1889.72,419.46 L1891.60,418.67" fill="none" stroke="#d8bf2f" stroke-width="3" stroke-linejoin="round" stroke-linecap="round"/>
<path d="M1667.30,515.40 L1669.18,514.60 L1671.07,513.81 L1672.95,513.01 L1674.84,512.21 L1676.72,511.42 L1678.61,510.62 L1680.49,509.82 L1682.38,509.03 L1684.26,508.23 L1686.15,507.43 L1688.03,506.64 L1689.92,505.84 L1691.80,505.04 L1693.69,504.25 L1695.57,503.45 L1697.46,502.65 L1699.34,501.86 L1701.23,501.06 L1703.11,500.27 L1705.00,499.47 L1706.88,498.68 L1708.77,497.88 L1710.65,497.09 L1712.54,496.29 L1714.42,495.50 L1716.31,494.70 L1718.19,493.91 L1720.08,493.11 L1721.96,492.32 L1723.85,491.52 L1725.73,490.73 L1727.62,489.94 L1729.50,489.14 L1731.39,488.35 L1733.27,487.56 L1735.16,486.77 L1737.04,485.97 L1738.93,485.18 L1740.81,484.39 L1742.69,483.60 L1744.58,482.81 L1746.46,482.02 L1748.35,481.23 L1750.23,480.44 L1752.12,479.65 L1754.00,478.86 L1755.89,478.07 L1757.77,477.28 L1759.66,476.49 L1761.54,475.70 L1763.43,474.91 L1765.31,474.12 L1767.20,473.34 L1769.08,472.55 L1770.97,471.76 L1772.85,470.98 L1774.74,470.19 L1776.62,469.41 L1778.51,468.62 L1780.39,467.84 L1782.28,467.05 L1784.16,466.27 L1786.05,465.49 L1787.93,464.70 L1789.82,463.92 L1791.70,463.14 L1793.59,462.36 L1795.47,461.58 L1797.36,460.80 L1799.24,460.01 L1801.13,459.24 L1803.01,458.46 L1804.90,457.68 L1806.78,456.90 L1808.67,456.12 L1810.55,455.34 L1812.44,454.57 L1814.32,453.79 L1816.21,453.02 L1818.09,452.24 L1819.97,451.47 L1821.86,450.69 L1823.74,449.92 L1825.63,449.15 L1827.51,448.37 L1829.40,447.60 L1831.28,446.83 L1833.17,446.06 L1835.05,445.29 L1836.94,444.52 L1838.82,443.75 L1840.71,442.98 L1842.59,442.22 L1844.48,441.45 L1846.36,440.68 L1848.25,439.92 L1850.13,439.15 L1852.02,438.39 L1853.90,437.62 L1855.79,436.86 L1857.67,436.10 L1859.56,435.34 L1861.44,434.58 L1863.33,433.82 L1865.21,433.06 L1867.10,432.30 L1868.98,431.54 L1870.87,430.78 L1872.75,430.02 L1874.64,429.27 L1876.52,428.51 L1878.41,427.76 L1880.29,427.00 L1882.18,426.25 L1884.06,425.50 L1885.95,424.75 L1887.83,423.99 L1889.72,423.24 L1891.60,422.50" fill="none" stroke="#e6c131" stroke-width="3" stroke-linejoin="round" stroke-linecap="round"/>
<path d="M1667.30,515.40 L1669.18,514.63 L1671.07,513.85 L1672.95,513.08 L1674.84,512.31 L1676.72,511.53 L1678.61,510.76 L1680.49,509.99 L1682.38,509.21 L1684.26,508.44 L1686.15,507.67 L1688.03,506.89 L1689.92,506.12 L1691.80,505.35 L1693.69,504.57 L1695.57,503.80 L1697.46,503.03 L1699.34,502.26 L1701.23,501.48 L1703.11,500.71 L1705.00,499.94 L1706.88,499.17 L1708.77,498.40 L1710.65,497.63 L1712.54,496.86 L1714.42,496.08 L1716.31,495.31 L1718.19,494.54 L1720.08,493.77 L1721.96,493.00 L1723.85,492.23 L1725.73,491.46 L1727.62,490.70 L1729.50,489.93 L1731.39,489.16 L1733.27,488.39 L1735.16,487.62 L1737.04,486.85 L1738.93,486.09 L1740.81,485.32 L1742.69,484.55 L1744.58,483.79 L1746.46,483.02 L1748.35,482.26 L1750.23,481.49 L1752.12,480.73 L1754.00,479.96 L1755.89,479.20 L1757.77,478.43 L1759.66,477.67 L1761.54,476.91 L1763.43,476.15 L1765.31,475.38 L1767.20,474.62 L1769.08,473.86 L1770.97,473.10 L1772.85,472.34 L1774.74,471.58 L1776.62,470.82 L1778.51,470.06 L1780.39,469.31 L1782.28,468.55 L1784.16,467.79 L1786.05,467.04 L1787.93,466.28 L1789.82,465.52 L1791.70,464.77 L1793.59,464.02 L1795.47,463.26 L1797.36,462.51 L1799.24,461.76 L1801.13,461.00 L1803.01,460.25 L1804.90,459.50 L1806.78,458.75 L1808.67,458.00 L1810.55,457.25 L1812.44,456.51 L1814.32,455.76 L1816.21,455.01 L1818.09,454.27 L1819.97,453.52 L1821.86,452.78 L1823.74,452.03 L1825.63,451.29 L1827.51,450.55 L1829.40,449.80 L1831.28,449.06 L1833.17,448.32 L1835.05,447.58 L1836.94,446.84 L1838.82,446.11 L1840.71,445.37 L1842.59,444.63 L1844.48,443.90 L1846.36,443.16 L1848.25,442.43 L1850.13,441.69 L1852.02,440.96 L1853.90,440.23 L1855.79,439.50 L1857.67,438.77 L1859.56,438.04 L1861.44,437.31 L1863.33,436.58 L1865.21,435.86 L1867.10,435.13 L1868.98,434.40 L1870.87,433.68 L1872.75,432.96 L1874.64,432.23 L1876.52,431.51 L1878.41,430.79 L1880.29,430.07 L1882.18,429.35 L1884.06,428.64 L1885.95,427.92 L1887.83,427.20 L1889.72,426.49 L1891.60,425.77" fill="none" stroke="#ebb531" stroke-width="3" stroke-linejoin="round" stroke-linecap="round"/>
<path d="M1667.30,515.40 L1669.18,514.64 L1671.07,513.89 L1672.95,513.13 L1674.84,512.37 L1676.72,511.62 L1678.61,510.86 L1680.49,510.10 L1682.38,509.35 L1684.26,508.59 L1686.15,507.84 L1688.03,507.08 L1689.92,506.33 L1691.80,505.58 L1693.69,504.82 L1695.57,504.07 L1697.46,503.32 L1699.34,502.57 L1701.23,501.82 L1703.11,501.07 L1705.00,500.32 L1706.88,499.57 L1708.77,498.83 L1710.65,498.08 L1712.54,497.34 L1714.42,496.59 L1716.31,495.85 L1718.19,495.11 L1720.08,494.37 L1721.96,493.63 L1723.85,492.89 L1725.73,492.16 L1727.62,491.42 L1729.50,490.69 L1731.39,489.95 L1733.27,489.22 L1735.16,488.49 L1737.04,487.77 L1738.93,487.04 L1740.81,486.32 L1742.69,485.59 L1744.58,484.87 L1746.46,484.15 L1748.35,483.43 L1750.23,482.72 L1752.12,482.00 L1754.00,481.29 L1755.89,480.58 L1757.77,479.87 L1759.66,479.17 L1761.54,478.46 L1763.43,477.76 L1765.31,477.06 L1767.20,476.36 L1769.08,475.67 L1770.97,474.97 L1772.85,474.28 L1774.74,473.59 L1776.62,472.91 L1778.51,472.22 L1780.39,471.54 L1782.28,470.86 L1784.16,470.18 L1786.05,469.50 L1787.93,468.83 L1789.82,468.16 L1791.70,467.49 L1793.59,466.83 L1795.47,466.17 L1797.36,465.50 L1799.24,464.85 L1801.13,464.19 L1803.01,463.54 L1804.90,462.89 L1806.78,462.24 L1808.67,461.60 L1810.55,460.96 L1812.44,460.32 L1814.32,459.68 L1816.21,459.05 L1818.09,458.42 L1819.97,457.79 L1821.86,457.16 L1823.74,456.54 L1825.63,455.92 L1827.51,455.31 L1829.40,454.69 L1831.28,454.08 L1833.17,453.47 L1835.05,452.87 L1836.94,452.27 L1838.82,451.67 L1840.71,451.07 L1842.59,450.48 L1844.48,449.89 L1846.36,449.31 L1848.25,448.72 L1850.13,448.14 L1852.02,447.56 L1853.90,446.99 L1855.79,446.42 L1857.67,445.85 L1859.56,445.28 L1861.44,444.72 L1863.33,444.16 L1865.21,443.61 L1867.10,443.05 L1868.98,442.51 L1870.87,441.96 L1872.75,441.42 L1874.64,440.88 L1876.52,440.34 L1878.41,439.81 L1880.29,439.27 L1882.18,438.75 L1884.06,438.22 L1885.95,437.70 L1887.83,437.18 L1889.72,436.67 L1891.60,436.16" fill="none" stroke="#efa231" stroke-width="3" stroke-linejoin="round" stroke-linecap="round"/>
<path d="M1667.30,515.40 L1669.18,514.74 L1671.07,514.08 L1672.95,513.41 L1674.84,512.75 L1676.72,512.09 L1678.61,511.43 L1680.49,510.77 L1682.38,510.12 L1684.26,509.46 L1686.15,508.81 L1688.03,508.16 L1689.92,507.51 L1691.80,506.86 L1693.69,506.21 L1695.57,505.57 L1697.46,504.93 L1699.34,504.29 L1701.23,503.66 L1703.11,503.03 L1705.00,502.40 L1706.88,501.78 L1708.77,501.16 L1710.65,500.54 L1712.54,499.93 L1714.42,499.32 L1716.31,498.72 L1718.19,498.12 L1720.08,497.52 L1721.96,496.93 L1723.85,496.34 L1725.73,495.76 L1727.62,495.19 L1729.50,494.62 L1731.39,494.05 L1733.27,493.49 L1735.16,492.93 L1737.04,492.38 L1738.93,491.84 L1740.81,491.30 L1742.69,490.77 L1744.58,490.24 L1746.46,489.72 L1748.35,489.20 L1750.23,488.69 L1752.12,488.19 L1754.00,487.69 L1755.89,487.20 L1757.77,486.71 L1759.66,486.23 L1761.54,485.76 L1763.43,485.29 L1765.31,484.83 L1767.20,484.37 L1769.08,483.92 L1770.97,483.48 L1772.85,483.04 L1774.74,482.61 L1776.62,482.18 L1778.51,481.76 L1780.39,481.35 L1782.28,480.94 L1784.16,480.54 L1786.05,480.15 L1787.93,479.76 L1789.82,479.37 L1791.70,479.00 L1793.59,478.63 L1795.47,478.26 L1797.36,477.90 L1799.24,477.55 L1801.13,477.20 L1803.01,476.86 L1804.90,476.52 L1806.78,476.19 L1808.67,475.87 L1810.55,475.55 L1812.44,475.23 L1814.32,474.92 L1816.21,474.62 L1818.09,474.32 L1819.97,474.03 L1821.86,473.74 L1823.74,473.46 L1825.63,473.18 L1827.51,472.91 L1829.40,472.64 L1831.28,472.38 L1833.17,472.12 L1835.05,471.87 L1836.94,471.62 L1838.82,471.38 L1840.71,471.14 L1842.59,470.91 L1844.48,470.68 L1846.36,470.45 L1848.25,470.23 L1850.13,470.02 L1852.02,469.80 L1853.90,469.60 L1855.79,469.39 L1857.67,469.19 L1859.56,469.00 L1861.44,468.80 L1863.33,468.62 L1865.21,468.43 L1867.10,468.25 L1868.98,468.07 L1870.87,467.90 L1872.75,467.73 L1874.64,467.56 L1876.52,467.40 L1878.41,467.24 L1880.29,467.09 L1882.18,466.93 L1884.06,466.78 L1885.95,466.64 L1887.83,466.49 L1889.72,466.35 L1891.60,466.21" fill="none" stroke="#f08a2e" stroke-width="3" stroke-linejoin="round" stroke-linecap="round"/>
<path d="M1667.30,515.40 L1669.18,514.98 L1671.07,514.57 L1672.95,514.15 L1674.84,513.74 L1676.72,513.33 L1678.61,512.93 L1680.49,512.52 L1682.38,512.12 L1684.26,511.73 L1686.15,511.34 L1688.03,510.95 L1689.92,510.58 L1691.80,510.20 L1693.69,509.84 L1695.57,509.48 L1697.46,509.13 L1699.34,508.79 L1701.23,508.45 L1703.11,508.13 L1705.00,507.81 L1706.88,507.50 L1708.77,507.20 L1710.65,506.90 L1712.54,506.62 L1714.42,506.34 L1716.31,506.08 L1718.19,505.82 L1720.08,505.57 L1721.96,505.33 L1723.85,505.09 L1725.73,504.87 L1727.62,504.65 L1729.50,504.45 L1731.39,504.25 L1733.27,504.05 L1735.16,503.87 L1737.04,503.69 L1738.93,503.52 L1740.81,503.36 L1742.69,503.20 L1744.58,503.05 L1746.46,502.91 L1748.35,502.77 L1750.23,502.64 L1752.12,502.51 L1754.00,502.39 L1755.89,502.28 L1757.77,502.17 L1759.66,502.06 L1761.54,501.96 L1763.43,501.87 L1765.31,501.78 L1767.20,501.69 L1769.08,501.61 L1770.97,501.53 L1772.85,501.46 L1774.74,501.39 L1776.62,501.32 L1778.51,501.25 L1780.39,501.19 L1782.28,501.13 L1784.16,501.08 L1786.05,501.03 L1787.93,500.98 L1789.82,500.93 L1791.70,500.88 L1793.59,500.84 L1795.47,500.80 L1797.36,500.76 L1799.24,500.72 L1801.13,500.69 L1803.01,500.66 L1804.90,500.63 L1806.78,500.60 L1808.67,500.57 L1810.55,500.54 L1812.44,500.51 L1814.32,500.49 L1816.21,500.47 L1818.09,500.45 L1819.97,500.43 L1821.86,500.41 L1823.74,500.39 L1825.63,500.37 L1827.51,500.35 L1829.40,500.34 L1831.28,500.32 L1833.17,500.31 L1835.05,500.29 L1836.94,500.28 L1838.82,500.27 L1840.71,500.26 L1842.59,500.25 L1844.48,500.24 L1846.36,500.23 L1848.25,500.22 L1850.13,500.21 L1852.02,500.20 L1853.90,500.19 L1855.79,500.18 L1857.67,500.18 L1859.56,500.17 L1861.44,500.16 L1863.33,500.16 L1865.21,500.15 L1867.10,500.15 L1868.98,500.14 L1870.87,500.14 L1872.75,500.13 L1874.64,500.13 L1876.52,500.12 L1878.41,500.12 L1880.29,500.12 L1882.18,500.11 L1884.06,500.11 L1885.95,500.11 L1887.83,500.10 L1889.72,500.10 L1891.60,500.10" fill="none" stroke="#f0702a" stroke-width="3" stroke-linejoin="round" stroke-linecap="round"/>
<path d="M1667.30,515.40 L1669.18,515.40 L1671.07,515.40 L1672.95,515.40 L1674.84,515.40 L1676.72,515.40 L1678.61,515.40 L1680.49,515.40 L1682.38,515.40 L1684.26,515.40 L1686.15,515.40 L1688.03,515.40 L1689.92,515.40 L1691.80,515.40 L1693.69,515.40 L1695.57,515.40 L1697.46,515.40 L1699.34,515.40 L1701.23,515.40 L1703.11,515.40 L1705.00,515.40 L1706.88,515.40 L1708.77,515.40 L1710.65,515.40 L1712.54,515.40 L1714.42,515.40 L1716.31,515.40 L1718.19,515.40 L1720.08,515.40 L1721.96,515.40 L1723.85,515.40 L1725.73,515.40 L1727.62,515.40 L1729.50,515.40 L1731.39,515.40 L1733.27,515.40 L1735.16,515.40 L1737.04,515.40 L1738.93,515.40 L1740.81,515.40 L1742.69,515.40 L1744.58,515.40 L1746.46,515.40 L1748.35,515.40 L1750.23,515.40 L1752.12,515.40 L1754.00,515.40 L1755.89,515.40 L1757.77,515.40 L1759.66,515.40 L1761.54,515.40 L1763.43,515.40 L1765.31,515.40 L1767.20,515.40 L1769.08,515.40 L1770.97,515.40 L1772.85,515.40 L1774.74,515.40 L1776.62,515.40 L1778.51,515.40 L1780.39,515.40 L1782.28,515.40 L1784.16,515.40 L1786.05,515.40 L1787.93,515.40 L1789.82,515.40 L1791.70,515.40 L1793.59,515.40 L1795.47,515.40 L1797.36,515.40 L1799.24,515.40 L1801.13,515.40 L1803.01,515.40 L1804.90,515.40 L1806.78,515.40 L1808.67,515.40 L1810.55,515.40 L1812.44,515.40 L1814.32,515.40 L1816.21,515.40 L1818.09,515.40 L1819.97,515.40 L1821.86,515.40 L1823.74,515.40 L1825.63,515.40 L1827.51,515.40 L1829.40,515.40 L1831.28,515.40 L1833.17,515.40 L1835.05,515.40 L1836.94,515.40 L1838.82,515.40 L1840.71,515.40 L1842.59,515.40 L1844.48,515.40 L1846.36,515.40 L1848.25,515.40 L1850.13,515.40 L1852.02,515.40 L1853.90,515.40 L1855.79,515.40 L1857.67,515.40 L1859.56,515.40 L1861.44,515.40 L1863.33,515.40 L1865.21,515.40 L1867.10,515.40 L1868.98,515.40 L1870.87,515.40 L1872.75,515.40 L1874.64,515.40 L1876.52,515.40 L1878.41,515.40 L1880.29,515.40 L1882.18,515.40 L1884.06,515.40 L1885.95,515.40 L1887.83,515.40 L1889.72,515.40 L1891.60,515.40" fill="none" stroke="#f05828" stroke-width="3.5" stroke-linejoin="round" stroke-linecap="round"/>
<path d="M1667.30,515.40 L1669.18,515.40 L1671.07,515.40 L1672.95,515.40 L1674.84,515.40 L1676.72,515.40 L1678.61,515.40 L1680.49,515.40 L1682.38,515.40 L1684.26,515.40 L1686.15,515.40 L1688.03,515.40 L1689.92,515.40 L1691.80,515.40 L1693.69,515.40 L1695.57,515.40 L1697.46,515.40 L1699.34,515.40 L1701.23,515.40 L1703.11,515.40 L1705.00,515.40 L1706.88,515.40 L1708.77,515.40 L1710.65,515.40 L1712.54,515.40 L1714.42,515.40 L1716.31,515.40 L1718.19,515.40 L1720.08,515.40 L1721.96,515.40 L1723.85,515.40 L1725.73,515.40 L1727.62,515.40 L1729.50,515.40 L1731.39,515.40 L1733.27,515.40 L1735.16,515.40 L1737.04,515.40 L1738.93,515.40 L1740.81,515.40 L1742.69,515.40 L1744.58,515.40 L1746.46,515.40 L1748.35,515.40 L1750.23,515.40 L1752.12,515.40 L1754.00,515.40 L1755.89,515.40 L1757.77,515.40 L1759.66,515.40 L1761.54,515.40 L1763.43,515.40 L1765.31,515.40 L1767.20,515.40 L1769.08,515.40 L1770.97,515.40 L1772.85,515.40 L1774.74,515.40 L1776.62,515.40 L1778.51,515.40 L1780.39,515.40 L1782.28,515.40 L1784.16,515.40 L1786.05,515.40 L1787.93,515.40 L1789.82,515.40 L1791.70,515.40 L1793.59,515.40 L1795.47,515.40 L1797.36,515.40 L1799.24,515.40 L1801.13,515.40 L1803.01,515.40 L1804.90,515.40 L1806.78,515.40 L1808.67,515.40 L1810.55,515.40 L1812.44,515.40 L1814.32,515.40 L1816.21,515.40 L1818.09,515.40 L1819.97,515.40 L1821.86,515.40 L1823.74,515.40 L1825.63,515.40 L1827.51,515.40 L1829.40,515.40 L1831.28,515.40 L1833.17,515.40 L1835.05,515.40 L1836.94,515.40 L1838.82,515.40 L1840.71,515.40 L1842.59,515.40 L1844.48,515.40 L1846.36,515.40 L1848.25,515.40 L1850.13,515.40 L1852.02,515.40 L1853.90,515.40 L1855.79,515.40 L1857.67,515.40 L1859.56,515.40 L1861.44,515.40 L1863.33,515.40 L1865.21,515.40 L1867.10,515.40 L1868.98,515.40 L1870.87,515.40 L1872.75,515.40 L1874.64,515.40 L1876.52,515.40 L1878.41,515.40 L1880.29,515.40 L1882.18,515.40 L1884.06,515.40 L1885.95,515.40 L1887.83,515.40 L1889.72,515.40 L1891.60,515.40" fill="none" stroke="#f0402e" stroke-width="3.5" stroke-linejoin="round" stroke-linecap="round"/>
<path d="M1667.30,515.40 L1669.18,515.40 L1671.07,515.40 L1672.95,515.40 L1674.84,515.40 L1676.72,515.40 L1678.61,515.40 L1680.49,515.40 L1682.38,515.40 L1684.26,515.40 L1686.15,515.40 L1688.03,515.40 L1689.92,515.40 L1691.80,515.40 L1693.69,515.40 L1695.57,515.40 L1697.46,515.40 L1699.34,515.40 L1701.23,515.40 L1703.11,515.40 L1705.00,515.40 L1706.88,515.40 L1708.77,515.40 L1710.65,515.40 L1712.54,515.40 L1714.42,515.40 L1716.31,515.40 L1718.19,515.40 L1720.08,515.40 L1721.96,515.40 L1723.85,515.40 L1725.73,515.40 L1727.62,515.40 L1729.50,515.40 L1731.39,515.40 L1733.27,515.40 L1735.16,515.40 L1737.04,515.40 L1738.93,515.40 L1740.81,515.40 L1742.69,515.40 L1744.58,515.40 L1746.46,515.40 L1748.35,515.40 L1750.23,515.40 L1752.12,515.40 L1754.00,515.40 L1755.89,515.40 L1757.77,515.40 L1759.66,515.40 L1761.54,515.40 L1763.43,515.40 L1765.31,515.40 L1767.20,515.40 L1769.08,515.40 L1770.97,515.40 L1772.85,515.40 L1774.74,515.40 L1776.62,515.40 L1778.51,515.40 L1780.39,515.40 L1782.28,515.40 L1784.16,515.40 L1786.05,515.40 L1787.93,515.40 L1789.82,515.40 L1791.70,515.40 L1793.59,515.40 L1795.47,515.40 L1797.36,515.40 L1799.24,515.40 L1801.13,515.40 L1803.01,515.40 L1804.90,515.40 L1806.78,515.40 L1808.67,515.40 L1810.55,515.40 L1812.44,515.40 L1814.32,515.40 L1816.21,515.40 L1818.09,515.40 L1819.97,515.40 L1821.86,515.40 L1823.74,515.40 L1825.63,515.40 L1827.51,515.40 L1829.40,515.40 L1831.28,515.40 L1833.17,515.40 L1835.05,515.40 L1836.94,515.40 L1838.82,515.40 L1840.71,515.40 L1842.59,515.40 L1844.48,515.40 L1846.36,515.40 L1848.25,515.40 L1850.13,515.40 L1852.02,515.40 L1853.90,515.40 L1855.79,515.40 L1857.67,515.40 L1859.56,515.40 L1861.44,515.40 L1863.33,515.40 L1865.21,515.40 L1867.10,515.40 L1868.98,515.40 L1870.87,515.40 L1872.75,515.40 L1874.64,515.40 L1876.52,515.40 L1878.41,515.40 L1880.29,515.40 L1882.18,515.40 L1884.06,515.40 L1885.95,515.40 L1887.83,515.40 L1889.72,515.40 L1891.60,515.40" fill="none" stroke="#ff0022" stroke-width="3.5" stroke-linejoin="round" stroke-linecap="round"/>
</g>
<rect x="1443.30" y="51.60" width="448.30" height="475.20" fill="none" stroke="#000" stroke-width="2.75"/>
<line x1="1667.30" y1="51.60" x2="1667.30" y2="526.80" stroke="#000" stroke-width="2.5" stroke-linecap="butt"/>
<line x1="1443.30" y1="515.40" x2="1435.30" y2="515.40" stroke="#000" stroke-width="2.5" stroke-linecap="butt"/>
<line x1="1891.60" y1="515.40" x2="1899.60" y2="515.40" stroke="#000" stroke-width="2.5" stroke-linecap="butt"/>
<line x1="1443.30" y1="460.75" x2="1439.10" y2="460.75" stroke="#000" stroke-width="1.8" stroke-linecap="butt"/>
<line x1="1891.60" y1="460.75" x2="1895.80" y2="460.75" stroke="#000" stroke-width="1.8" stroke-linecap="butt"/>
<line x1="1443.30" y1="406.10" x2="1435.30" y2="406.10" stroke="#000" stroke-width="2.5" stroke-linecap="butt"/>
<line x1="1891.60" y1="406.10" x2="1899.60" y2="406.10" stroke="#000" stroke-width="2.5" stroke-linecap="butt"/>
<line x1="1443.30" y1="351.45" x2="1439.10" y2="351.45" stroke="#000" stroke-width="1.8" stroke-linecap="butt"/>
<line x1="1891.60" y1="351.45" x2="1895.80" y2="351.45" stroke="#000" stroke-width="1.8" stroke-linecap="butt"/>
<line x1="1443.30" y1="296.80" x2="1435.30" y2="296.80" stroke="#000" stroke-width="2.5" stroke-linecap="butt"/>
<line x1="1891.60" y1="296.80" x2="1899.60" y2="296.80" stroke="#000" stroke-width="2.5" stroke-linecap="butt"/>
<line x1="1443.30" y1="242.15" x2="1439.10" y2="242.15" stroke="#000" stroke-width="1.8" stroke-linecap="butt"/>
<line x1="1891.60" y1="242.15" x2="1895.80" y2="242.15" stroke="#000" stroke-width="1.8" stroke-linecap="butt"/>
<line x1="1443.30" y1="187.50" x2="1435.30" y2="187.50" stroke="#000" stroke-width="2.5" stroke-linecap="butt"/>
<line x1="1891.60" y1="187.50" x2="1899.60" y2="187.50" stroke="#000" stroke-width="2.5" stroke-linecap="butt"/>
<line x1="1443.30" y1="132.85" x2="1439.10" y2="132.85" stroke="#000" stroke-width="1.8" stroke-linecap="butt"/>
<line x1="1891.60" y1="132.85" x2="1895.80" y2="132.85" stroke="#000" stroke-width="1.8" stroke-linecap="butt"/>
<line x1="1443.30" y1="78.20" x2="1435.30" y2="78.20" stroke="#000" stroke-width="2.5" stroke-linecap="butt"/>
<line x1="1891.60" y1="78.20" x2="1899.60" y2="78.20" stroke="#000" stroke-width="2.5" stroke-linecap="butt"/>
<text x="1404.97" y="526.40" font-size="31">0</text>
<text x="1911.39" y="526.40" font-size="31">0</text>
<text x="1405.32" y="417.10" font-size="31">2</text>
<text x="1911.04" y="417.10" font-size="31">2</text>
<text x="1404.67" y="307.80" font-size="31">4</text>
<text x="1911.89" y="307.80" font-size="31">4</text>
<text x="1405.12" y="198.50" font-size="31">6</text>
<text x="1911.03" y="198.50" font-size="31">6</text>
<text x="1405.11" y="89.20" font-size="31">8</text>
<text x="1911.25" y="89.20" font-size="31">8</text>
<line x1="1443.30" y1="526.80" x2="1443.30" y2="534.80" stroke="#000" stroke-width="2.5" stroke-linecap="butt"/>
<line x1="1532.90" y1="526.80" x2="1532.90" y2="534.80" stroke="#000" stroke-width="2.5" stroke-linecap="butt"/>
<line x1="1622.50" y1="526.80" x2="1622.50" y2="534.80" stroke="#000" stroke-width="2.5" stroke-linecap="butt"/>
<line x1="1488.10" y1="526.80" x2="1488.10" y2="531.00" stroke="#000" stroke-width="1.8" stroke-linecap="butt"/>
<line x1="1577.70" y1="526.80" x2="1577.70" y2="531.00" stroke="#000" stroke-width="1.8" stroke-linecap="butt"/>
<line x1="1667.30" y1="526.80" x2="1667.30" y2="534.80" stroke="#000" stroke-width="2.5" stroke-linecap="butt"/>
<line x1="1757.02" y1="526.80" x2="1757.02" y2="534.80" stroke="#000" stroke-width="2.5" stroke-linecap="butt"/>
<line x1="1846.74" y1="526.80" x2="1846.74" y2="534.80" stroke="#000" stroke-width="2.5" stroke-linecap="butt"/>
<line x1="1712.16" y1="526.80" x2="1712.16" y2="531.00" stroke="#000" stroke-width="1.8" stroke-linecap="butt"/>
<line x1="1801.88" y1="526.80" x2="1801.88" y2="531.00" stroke="#000" stroke-width="1.8" stroke-linecap="butt"/>
<line x1="1891.60" y1="526.80" x2="1891.60" y2="534.80" stroke="#000" stroke-width="2.5" stroke-linecap="butt"/>
<text x="1433.48" y="573.00" font-size="31">0</text>
<text x="1511.35" y="573.00" font-size="31">0.4</text>
<text x="1601.75" y="573.00" font-size="31">0.8</text>
<text x="1661.58" y="573.00" font-size="31">0</text>
<text x="1737.97" y="573.00" font-size="31">0.4</text>
<text x="1825.79" y="573.00" font-size="31">0.8</text>
<text x="1506.72" y="624.80" font-size="31" font-style="italic">V</text>
<text x="1526.42" y="635.80" font-size="18.5">ds</text>
<text x="1562.48" y="624.80" font-size="31">(V)</text>
<text x="1731.32" y="624.80" font-size="31" font-style="italic">V</text>
<text x="1751.02" y="635.80" font-size="18.5">ds</text>
<text x="1787.08" y="624.80" font-size="31">(V)</text>
<g transform="rotate(-90 1364.60 346.43)">
<text x="1364.60" y="346.43" font-size="31" font-style="italic">I</text>
<text x="1372.85" y="356.93" font-size="18.5">ds</text>
<text x="1408.20" y="346.43" font-size="31">(μA/μm)</text>
</g>
<g transform="rotate(90 1968 158)">
<text x="1967.50" y="158.00" font-size="31" font-style="italic">I</text>
<text x="1976.50" y="168.50" font-size="18.5">ds</text>
<text x="2011.50" y="158.00" font-size="31">(×10  μA/μm)</text>
</g>
<text x="1449.77" y="84.80" font-size="25.8" font-style="italic" fill="#0b4f24">V</text>
<text x="1465.95" y="93.60" font-size="15.5" fill="#0b4f24">g</text>
<text x="1480.94" y="84.80" font-size="25.8" fill="#0b4f24">= 1.5 V</text>
<text x="1450.17" y="185.80" font-size="25.8" font-style="italic" fill="#ff0022">V</text>
<text x="1466.35" y="194.60" font-size="15.5" fill="#ff0022">g</text>
<text x="1481.34" y="185.80" font-size="25.8" fill="#ff0022">= -1.7 V</text>
<text x="1474.28" y="134.20" font-size="25.8">step: -0.25 V</text>
<line x1="1465.50" y1="100.30" x2="1465.50" y2="145.07" stroke="#000" stroke-width="2.5" stroke-linecap="butt"/>
<path d="M1465.50,152.00 L1460.15,139.40 L1465.50,142.55 L1470.85,139.40Z" fill="#000"/>
<text x="1762.77" y="84.60" font-size="25.8" font-style="italic" fill="#0b4f24">V</text>
<text x="1778.95" y="93.40" font-size="15.5" fill="#0b4f24">g</text>
<text x="1793.94" y="84.60" font-size="25.8" fill="#0b4f24">= 1.5 V</text>
<text x="1762.77" y="185.40" font-size="25.8" font-style="italic" fill="#ff0022">V</text>
<text x="1778.95" y="194.20" font-size="15.5" fill="#ff0022">g</text>
<text x="1793.94" y="185.40" font-size="25.8" fill="#ff0022">= -1.7 V</text>
<text x="1703.68" y="134.60" font-size="25.8">step: -0.25 V</text>
<line x1="1869.70" y1="100.20" x2="1869.70" y2="144.37" stroke="#000" stroke-width="2.5" stroke-linecap="butt"/>
<path d="M1869.70,151.30 L1864.35,138.70 L1869.70,141.85 L1875.05,138.70Z" fill="#000"/>
<text x="20.47" y="663.60" font-size="46">d</text>
<clipPath id="cd"><rect x="127.9" y="680.4" width="449.9" height="475.0000000000001"/></clipPath>
<g clip-path="url(#cd)">
<path d="M127.60,1145.00 L130.00,1138.00 L133.00,1148.00 L137.00,1142.00 L141.00,1154.00" fill="none" stroke="#0b4f24" stroke-width="2.8" stroke-linejoin="round" stroke-linecap="round"/>
<path d="M153.11,1139.38 L153.29,1138.00 L153.48,1136.61 L153.67,1135.22 L153.86,1133.84 L154.05,1132.45 L154.25,1131.06 L154.44,1129.68 L154.63,1128.29 L154.82,1126.90 L155.02,1125.52 L155.21,1124.13 L155.41,1122.75 L155.60,1121.36 L155.80,1119.97 L156.00,1118.59 L156.20,1117.20 L156.40,1115.82 L156.60,1114.43 L156.80,1113.05 L157.00,1111.66 L157.20,1110.27 L157.40,1108.89 L157.61,1107.50 L157.81,1106.12 L158.01,1104.73 L158.22,1103.35 L158.43,1101.96 L158.63,1100.58 L158.84,1099.19 L159.05,1097.81 L159.26,1096.42 L159.47,1095.03 L159.68,1093.65 L159.90,1092.26 L160.11,1090.88 L160.32,1089.49 L160.54,1088.11 L160.75,1086.72 L160.97,1085.33 L161.19,1083.95 L161.41,1082.56 L161.63,1081.18 L161.85,1079.79 L162.07,1078.40 L162.29,1077.02 L162.51,1075.63 L162.74,1074.25 L162.96,1072.86 L163.19,1071.47 L163.41,1070.09 L163.64,1068.70 L163.87,1067.31 L164.10,1065.93 L164.33,1064.54 L164.56,1063.15 L164.80,1061.77 L165.03,1060.38 L165.27,1058.99 L165.50,1057.60 L165.74,1056.22 L165.98,1054.83 L166.22,1053.44 L166.46,1052.05 L166.70,1050.66 L166.94,1049.28 L167.18,1047.89 L167.43,1046.50 L167.67,1045.11 L167.92,1043.72 L168.17,1042.33 L168.41,1040.94 L168.66,1039.55 L168.92,1038.16 L169.17,1036.77 L169.42,1035.38 L169.68,1033.99 L169.93,1032.60 L170.19,1031.21 L170.45,1029.82 L170.71,1028.43 L170.97,1027.04 L171.23,1025.65 L171.49,1024.25 L171.75,1022.86 L172.02,1021.47 L172.29,1020.08 L172.55,1018.69 L172.82,1017.29 L173.09,1015.90 L173.36,1014.51 L173.64,1013.11 L173.91,1011.72 L174.18,1010.32 L174.46,1008.93 L174.74,1007.53 L175.02,1006.14 L175.30,1004.74 L175.58,1003.35 L175.86,1001.95 L176.15,1000.56 L176.43,999.16 L176.72,997.76 L177.01,996.37 L177.30,994.97 L177.59,993.57 L177.88,992.17 L178.17,990.77 L178.47,989.38 L178.77,987.98 L179.06,986.58 L179.36,985.18 L179.66,983.78 L179.97,982.38 L180.27,980.98 L180.58,979.58 L180.88,978.17 L181.19,976.77 L181.50,975.37 L181.81,973.97 L182.12,972.57 L182.44,971.16 L182.75,969.76 L183.07,968.36 L183.39,966.95 L183.71,965.55 L184.03,964.14 L184.36,962.74 L184.68,961.34 L185.01,959.93 L185.34,958.53 L185.67,957.13 L186.01,955.72 L186.34,954.32 L186.68,952.92 L187.02,951.52 L187.37,950.12 L187.71,948.71 L188.06,947.31 L188.41,945.91 L188.76,944.51 L189.12,943.11 L189.48,941.71 L189.84,940.32 L190.20,938.92 L190.56,937.52 L190.93,936.13 L191.30,934.73 L191.68,933.34 L192.05,931.94 L192.43,930.55 L192.81,929.16 L193.20,927.77 L193.59,926.38 L193.98,924.99 L194.37,923.60 L194.77,922.22 L195.17,920.83 L195.57,919.45 L195.98,918.06 L196.39,916.68 L196.80,915.30 L197.22,913.92 L197.64,912.55 L198.06,911.17 L198.49,909.80 L198.92,908.42 L199.35,907.05 L199.79,905.68 L200.23,904.32 L200.68,902.95 L201.13,901.59 L201.58,900.22 L202.04,898.86 L202.50,897.50 L202.96,896.15 L203.43,894.79 L203.90,893.44 L204.38,892.09 L204.86,890.74 L205.34,889.39 L205.83,888.05 L206.33,886.71 L206.82,885.36 L207.33,884.03 L207.83,882.69 L208.34,881.36 L208.86,880.03 L209.38,878.70 L209.90,877.37 L210.43,876.05 L210.96,874.73 L211.50,873.41 L212.04,872.09 L212.59,870.78 L213.14,869.47 L213.70,868.16 L214.26,866.86 L214.83,865.56 L215.40,864.26 L215.98,862.96 L216.56,861.67 L217.15,860.38 L217.74,859.09 L218.34,857.80 L218.94,856.52 L219.55,855.25 L220.16,853.97 L220.78,852.70 L221.40,851.43 L222.03,850.16 L222.67,848.90 L223.31,847.64 L223.96,846.39 L224.61,845.14 L225.27,843.89 L225.93,842.65 L226.60,841.40 L227.27,840.17 L227.95,838.93 L228.64,837.70 L229.33,836.48 L230.03,835.25 L230.73,834.04 L231.44,832.82 L232.16,831.61 L232.88,830.40 L233.61,829.20 L234.35,828.00 L235.09,826.81 L235.84,825.62 L236.59,824.43 L237.35,823.25 L238.11,822.07 L238.88,820.89 L239.66,819.73 L240.44,818.56 L241.23,817.40 L242.03,816.24 L242.83,815.09 L243.63,813.94 L244.44,812.80 L245.26,811.66 L246.09,810.53 L246.92,809.40 L247.75,808.28 L248.59,807.16 L249.44,806.04 L250.29,804.93 L251.15,803.83 L252.02,802.73 L252.89,801.63 L253.76,800.54 L254.64,799.46 L255.53,798.38 L256.42,797.31 L257.32,796.24 L258.23,795.17 L259.14,794.11 L260.05,793.06 L260.97,792.01 L261.90,790.97 L262.83,789.93 L263.77,788.90 L264.71,787.88 L265.66,786.86 L266.61,785.84 L267.57,784.83 L268.54,783.83 L269.51,782.83 L270.48,781.84 L271.47,780.86 L272.45,779.88 L273.44,778.90 L274.44,777.93 L275.45,776.97 L276.45,776.02 L277.47,775.07 L278.49,774.12 L279.51,773.19 L280.54,772.25 L281.57,771.33 L282.61,770.41 L283.66,769.50 L284.71,768.59 L285.77,767.69 L286.83,766.80 L287.89,765.91 L288.96,765.03 L290.04,764.16 L291.12,763.29 L292.21,762.44 L293.30,761.58 L294.40,760.74 L295.50,759.90 L296.61,759.06 L297.72,758.24 L298.84,757.42 L299.96,756.61 L301.09,755.80 L302.22,755.01 L303.36,754.22 L304.50,753.43 L305.65,752.66 L306.80,751.89 L307.95,751.13 L309.12,750.37 L310.28,749.63 L311.46,748.89 L312.63,748.15 L313.81,747.43 L315.00,746.71 L316.19,746.00 L317.39,745.30 L318.59,744.61 L319.79,743.92 L321.00,743.25 L322.22,742.57 L323.44,741.91 L324.66,741.26 L325.89,740.61 L327.13,739.97 L328.36,739.34 L329.61,738.72 L330.85,738.10 L332.11,737.50 L333.36,736.90 L334.63,736.31 L335.89,735.73 L337.16,735.15 L338.44,734.59 L339.72,734.03 L341.00,733.48 L342.29,732.94 L343.58,732.41 L344.88,731.88 L346.18,731.37 L347.49,730.86 L348.80,730.36 L350.11,729.86 L351.43,729.38 L352.75,728.90 L354.07,728.43 L355.40,727.96 L356.74,727.51 L358.07,727.06 L359.41,726.62 L360.76,726.18 L362.11,725.75 L363.46,725.33 L364.81,724.92 L366.17,724.51 L367.53,724.11 L368.90,723.72 L370.26,723.33 L371.64,722.95 L373.01,722.58 L374.39,722.21 L375.77,721.85 L377.15,721.50 L378.54,721.15 L379.93,720.81 L381.32,720.47 L382.71,720.14 L384.11,719.82 L385.51,719.50 L386.92,719.19 L388.32,718.89 L389.73,718.59 L391.14,718.30 L392.55,718.01 L393.97,717.73 L395.39,717.45 L396.81,717.18 L398.23,716.91 L399.65,716.65 L401.08,716.40 L402.51,716.15 L403.94,715.90 L405.37,715.66 L406.81,715.43 L408.24,715.20 L409.68,714.97 L411.12,714.75 L412.56,714.54 L414.00,714.33 L415.45,714.12 L416.90,713.92 L418.34,713.72 L419.79,713.53 L421.24,713.34 L422.70,713.16 L424.15,712.98 L425.60,712.80 L427.06,712.63 L428.51,712.46 L429.97,712.30 L431.43,712.14 L432.89,711.99 L434.35,711.84 L435.81,711.69 L437.28,711.54 L438.74,711.40 L440.20,711.27 L441.67,711.13 L443.13,711.00 L444.60,710.88 L446.06,710.75 L447.53,710.63 L449.00,710.52 L450.46,710.40 L451.93,710.29 L453.40,710.18 L454.87,710.08 L456.33,709.98 L457.80,709.88 L459.27,709.78 L460.74,709.69 L462.21,709.60 L463.67,709.51 L465.14,709.42 L466.61,709.34 L468.08,709.25 L469.54,709.18 L471.01,709.10 L472.48,709.02 L473.94,708.95 L475.41,708.88 L476.87,708.81 L478.33,708.74 L479.80,708.68 L481.26,708.61 L482.72,708.55 L484.18,708.49 L485.64,708.43 L487.10,708.37 L488.56,708.32 L490.01,708.26 L491.47,708.21 L492.92,708.16 L494.37,708.11 L495.83,708.06 L497.28,708.01 L498.73,707.96 L500.17,707.91 L501.62,707.87 L503.06,707.82 L504.51,707.78 L505.95,707.73 L507.39,707.69 L508.82,707.65 L510.26,707.61 L511.69,707.56 L513.13,707.52 L514.56,707.48 L515.98,707.44 L517.41,707.40 L518.83,707.36 L520.26,707.32 L521.67,707.27 L523.09,707.23 L524.51,707.19 L525.92,707.15 L527.33,707.11 L528.74,707.07 L530.14,707.02 L531.54,706.98 L532.94,706.94 L534.34,706.89 L535.74,706.85 L537.13,706.80 L538.52,706.75 L539.90,706.71 L541.28,706.66 L542.66,706.61 L544.04,706.56 L545.41,706.50 L546.78,706.45 L548.15,706.40 L549.52,706.34 L550.88,706.28 L552.23,706.22 L553.59,706.16 L554.94,706.10 L556.28,706.04 L557.63,705.97 L558.97,705.91 L560.30,705.84 L561.63,705.77 L562.96,705.69 L564.29,705.62 L565.61,705.54 L566.92,705.46 L568.24,705.38 L569.55,705.30 L570.85,705.21 L572.15,705.12 L573.45,705.03 L574.74,704.94 L576.03,704.84" fill="none" stroke="#0b4f24" stroke-width="3.7" stroke-linejoin="round" stroke-linecap="round"/>
<path d="M127.60,1150.00 L132.00,1135.00 L136.00,1152.00 L140.00,1138.00 L144.00,1150.00 L148.00,1140.00 L152.00,1154.00" fill="none" stroke="#8a9e22" stroke-width="2.8" stroke-linejoin="round" stroke-linecap="round"/>
<path d="M153.11,1139.38 L153.29,1138.00 L153.48,1136.61 L153.67,1135.22 L153.86,1133.84 L154.05,1132.45 L154.25,1131.06 L154.44,1129.68 L154.63,1128.29 L154.82,1126.90 L155.02,1125.52 L155.21,1124.13 L155.41,1122.75 L155.60,1121.36 L155.80,1119.97 L156.00,1118.59 L156.20,1117.20 L156.40,1115.82 L156.60,1114.43 L156.80,1113.05 L157.00,1111.66 L157.20,1110.27 L157.40,1108.89 L157.61,1107.50 L157.81,1106.12 L158.01,1104.73 L158.22,1103.35 L158.43,1101.96 L158.63,1100.58 L158.84,1099.19 L159.05,1097.81 L159.26,1096.42 L159.47,1095.03 L159.68,1093.65 L159.90,1092.26 L160.11,1090.88 L160.32,1089.49 L160.54,1088.11 L160.75,1086.72 L160.97,1085.33 L161.19,1083.95 L161.41,1082.56 L161.63,1081.18 L161.85,1079.79 L162.07,1078.40 L162.29,1077.02 L162.51,1075.63 L162.74,1074.25 L162.96,1072.86 L163.19,1071.47 L163.41,1070.09 L163.64,1068.70 L163.87,1067.31 L164.10,1065.93 L164.33,1064.54 L164.56,1063.15 L164.80,1061.77 L165.03,1060.38 L165.27,1058.99 L165.50,1057.60 L165.74,1056.22 L165.98,1054.83 L166.22,1053.44 L166.46,1052.05 L166.70,1050.66 L166.94,1049.28 L167.18,1047.89 L167.43,1046.50 L167.67,1045.11 L167.92,1043.72 L168.17,1042.33 L168.41,1040.94 L168.66,1039.55 L168.92,1038.16 L169.17,1036.77 L169.42,1035.38 L169.68,1033.99 L169.93,1032.60 L170.19,1031.21 L170.45,1029.82 L170.71,1028.43 L170.97,1027.04 L171.23,1025.65 L171.49,1024.25 L171.75,1022.86 L172.02,1021.47 L172.29,1020.08 L172.55,1018.69 L172.82,1017.29 L173.09,1015.90 L173.36,1014.51 L173.64,1013.11 L173.91,1011.72 L174.18,1010.32 L174.46,1008.93 L174.74,1007.53 L175.02,1006.14 L175.30,1004.74 L175.58,1003.35 L175.86,1001.95 L176.15,1000.56 L176.43,999.16 L176.72,997.76 L177.01,996.37 L177.30,994.97 L177.59,993.57 L177.88,992.17 L178.17,990.77 L178.47,989.38 L178.77,987.98 L179.06,986.58 L179.36,985.18 L179.66,983.78 L179.97,982.38 L180.27,980.98 L180.58,979.58 L180.88,978.17 L181.19,976.77 L181.50,975.37 L181.81,973.97 L182.12,972.57 L182.44,971.16 L182.75,969.76 L183.07,968.36 L183.39,966.95 L183.71,965.55 L184.03,964.14 L184.36,962.74 L184.68,961.34 L185.01,959.93 L185.34,958.53 L185.67,957.13 L186.01,955.72 L186.34,954.32 L186.68,952.92 L187.02,951.52 L187.37,950.12 L187.71,948.71 L188.06,947.31 L188.41,945.91 L188.76,944.51 L189.12,943.11 L189.48,941.71 L189.84,940.32 L190.20,938.92 L190.56,937.52 L190.93,936.13 L191.30,934.73 L191.68,933.34 L192.05,931.94 L192.43,930.55 L192.81,929.16 L193.20,927.77 L193.59,926.38 L193.98,924.99 L194.37,923.60 L194.77,922.22 L195.17,920.83 L195.57,919.45 L195.98,918.06 L196.39,916.68 L196.80,915.30 L197.22,913.92 L197.64,912.55 L198.06,911.17 L198.49,909.80 L198.92,908.42 L199.35,907.05 L199.79,905.68 L200.23,904.32 L200.68,902.95 L201.13,901.59 L201.58,900.22 L202.04,898.86 L202.50,897.50 L202.96,896.15 L203.43,894.79 L203.90,893.44 L204.38,892.09 L204.86,890.74 L205.34,889.39 L205.83,888.05 L206.33,886.71 L206.82,885.36 L207.33,884.03 L207.83,882.69 L208.34,881.36 L208.86,880.03 L209.38,878.70 L209.90,877.37 L210.43,876.05 L210.96,874.73 L211.50,873.41 L212.04,872.09 L212.59,870.78 L213.14,869.47 L213.70,868.16 L214.26,866.86 L214.83,865.56 L215.40,864.26 L215.98,862.96 L216.56,861.67 L217.15,860.38 L217.74,859.09 L218.34,857.80 L218.94,856.52 L219.55,855.25 L220.16,853.97 L220.78,852.70 L221.40,851.43 L222.03,850.16 L222.67,848.90 L223.31,847.64 L223.96,846.39 L224.61,845.14 L225.27,843.89 L225.93,842.65 L226.60,841.40 L227.27,840.17 L227.95,838.93 L228.64,837.70 L229.33,836.48 L230.03,835.25 L230.73,834.04 L231.44,832.82 L232.16,831.61 L232.88,830.40 L233.61,829.20 L234.35,828.00 L235.09,826.81 L235.84,825.62 L236.59,824.43 L237.35,823.25 L238.11,822.07 L238.88,820.89 L239.66,819.73 L240.44,818.56 L241.23,817.40 L242.03,816.24 L242.83,815.09 L243.63,813.94 L244.44,812.80 L245.26,811.66 L246.09,810.53 L246.92,809.40 L247.75,808.28 L248.59,807.16 L249.44,806.04 L250.29,804.93 L251.15,803.83 L252.02,802.73 L252.89,801.63 L253.76,800.54 L254.64,799.46 L255.53,798.38 L256.42,797.31 L257.32,796.24 L258.23,795.17 L259.14,794.11 L260.05,793.06 L260.97,792.01 L261.90,790.97 L262.83,789.93 L263.77,788.90 L264.71,787.88 L265.66,786.86 L266.61,785.84 L267.57,784.83 L268.54,783.83 L269.51,782.83 L270.48,781.84 L271.47,780.86 L272.45,779.88 L273.44,778.90 L274.44,777.93 L275.45,776.97 L276.45,776.02 L277.47,775.07 L278.49,774.12 L279.51,773.19 L280.54,772.25 L281.57,771.33 L282.61,770.41 L283.66,769.50 L284.71,768.59 L285.77,767.69 L286.83,766.80 L287.89,765.91 L288.96,765.03 L290.04,764.16 L291.12,763.29 L292.21,762.44 L293.30,761.58 L294.40,760.74 L295.50,759.90 L296.61,759.06 L297.72,758.24 L298.84,757.42 L299.96,756.61 L301.09,755.80 L302.22,755.01 L303.36,754.22 L304.50,753.43 L305.65,752.66 L306.80,751.89 L307.95,751.13 L309.12,750.37 L310.28,749.63 L311.46,748.89 L312.63,748.15 L313.81,747.43 L315.00,746.71 L316.19,746.00 L317.39,745.30 L318.59,744.61 L319.79,743.92 L321.00,743.25 L322.22,742.57 L323.44,741.91 L324.66,741.26 L325.89,740.61 L327.13,739.97 L328.36,739.34 L329.61,738.72 L330.85,738.10 L332.11,737.50 L333.36,736.90 L334.63,736.31 L335.89,735.73 L337.16,735.15 L338.44,734.59 L339.72,734.03 L341.00,733.48 L342.29,732.94 L343.58,732.41 L344.88,731.88 L346.18,731.37 L347.49,730.86 L348.80,730.36 L350.11,729.86 L351.43,729.38 L352.75,728.90 L354.07,728.43 L355.40,727.96 L356.74,727.51 L358.07,727.06 L359.41,726.62 L360.76,726.18 L362.11,725.75 L363.46,725.33 L364.81,724.92 L366.17,724.51 L367.53,724.11 L368.90,723.72 L370.26,723.33 L371.64,722.95 L373.01,722.58 L374.39,722.21 L375.77,721.85 L377.15,721.50 L378.54,721.15 L379.93,720.81 L381.32,720.47 L382.71,720.14 L384.11,719.82 L385.51,719.50 L386.92,719.19 L388.32,718.89 L389.73,718.59 L391.14,718.30 L392.55,718.01 L393.97,717.73 L395.39,717.45 L396.81,717.18 L398.23,716.91 L399.65,716.65 L401.08,716.40 L402.51,716.15 L403.94,715.90 L405.37,715.66 L406.81,715.43 L408.24,715.20 L409.68,714.97 L411.12,714.75 L412.56,714.54 L414.00,714.33 L415.45,714.12 L416.90,713.92 L418.34,713.72 L419.79,713.53 L421.24,713.34 L422.70,713.16 L424.15,712.98 L425.60,712.80 L427.06,712.63 L428.51,712.46 L429.97,712.30 L431.43,712.14 L432.89,711.99 L434.35,711.84 L435.81,711.69 L437.28,711.54 L438.74,711.40 L440.20,711.27 L441.67,711.13 L443.13,711.00 L444.60,710.88 L446.06,710.75 L447.53,710.63 L449.00,710.52 L450.46,710.40 L451.93,710.29 L453.40,710.18 L454.87,710.08 L456.33,709.98 L457.80,709.88 L459.27,709.78 L460.74,709.69 L462.21,709.60 L463.67,709.51 L465.14,709.42 L466.61,709.34 L468.08,709.25 L469.54,709.18 L471.01,709.10 L472.48,709.02 L473.94,708.95 L475.41,708.88 L476.87,708.81 L478.33,708.74 L479.80,708.68 L481.26,708.61 L482.72,708.55 L484.18,708.49 L485.64,708.43 L487.10,708.37 L488.56,708.32 L490.01,708.26 L491.47,708.21 L492.92,708.16 L494.37,708.11 L495.83,708.06 L497.28,708.01 L498.73,707.96 L500.17,707.91 L501.62,707.87 L503.06,707.82 L504.51,707.78 L505.95,707.73 L507.39,707.69" fill="none" stroke="#8a9e22" stroke-width="3.7" stroke-linejoin="round" stroke-linecap="round"/>
<path d="M127.60,1140.00 L131.00,1130.00 L135.00,1145.00 L139.00,1128.00 L143.00,1140.00 L147.00,1130.00 L151.00,1150.00" fill="none" stroke="#e6c230" stroke-width="2.8" stroke-linejoin="round" stroke-linecap="round"/>
<path d="M153.11,1139.38 L153.29,1138.00 L153.48,1136.61 L153.67,1135.22 L153.86,1133.84 L154.05,1132.45 L154.25,1131.06 L154.44,1129.68 L154.63,1128.29 L154.82,1126.90 L155.02,1125.52 L155.21,1124.13 L155.41,1122.75 L155.60,1121.36 L155.80,1119.97 L156.00,1118.59 L156.20,1117.20 L156.40,1115.82 L156.60,1114.43 L156.80,1113.05 L157.00,1111.66 L157.20,1110.27 L157.40,1108.89 L157.61,1107.50 L157.81,1106.12 L158.01,1104.73 L158.22,1103.35 L158.43,1101.96 L158.63,1100.58 L158.84,1099.19 L159.05,1097.81 L159.26,1096.42 L159.47,1095.03 L159.68,1093.65 L159.90,1092.26 L160.11,1090.88 L160.32,1089.49 L160.54,1088.11 L160.75,1086.72 L160.97,1085.33 L161.19,1083.95 L161.41,1082.56 L161.63,1081.18 L161.85,1079.79 L162.07,1078.40 L162.29,1077.02 L162.51,1075.63 L162.74,1074.25 L162.96,1072.86 L163.19,1071.47 L163.41,1070.09 L163.64,1068.70 L163.87,1067.31 L164.10,1065.93 L164.33,1064.54 L164.56,1063.15 L164.80,1061.77 L165.03,1060.38 L165.27,1058.99 L165.50,1057.60 L165.74,1056.22 L165.98,1054.83 L166.22,1053.44 L166.46,1052.05 L166.70,1050.66 L166.94,1049.28 L167.18,1047.89 L167.43,1046.50 L167.67,1045.11 L167.92,1043.72 L168.17,1042.33 L168.41,1040.94 L168.66,1039.55 L168.92,1038.16 L169.17,1036.77 L169.42,1035.38 L169.68,1033.99 L169.93,1032.60 L170.19,1031.21 L170.45,1029.82 L170.71,1028.43 L170.97,1027.04 L171.23,1025.65 L171.49,1024.25 L171.75,1022.86 L172.02,1021.47 L172.29,1020.08 L172.55,1018.69 L172.82,1017.29 L173.09,1015.90 L173.36,1014.51 L173.64,1013.11 L173.91,1011.72 L174.18,1010.32 L174.46,1008.93 L174.74,1007.53 L175.02,1006.14 L175.30,1004.74 L175.58,1003.35 L175.86,1001.95 L176.15,1000.56 L176.43,999.16 L176.72,997.76 L177.01,996.37 L177.30,994.97 L177.59,993.57 L177.88,992.17 L178.17,990.77 L178.47,989.38 L178.77,987.98 L179.06,986.58 L179.36,985.18 L179.66,983.78 L179.97,982.38 L180.27,980.98 L180.58,979.58 L180.88,978.17 L181.19,976.77 L181.50,975.37 L181.81,973.97 L182.12,972.57 L182.44,971.16 L182.75,969.76 L183.07,968.36 L183.39,966.95 L183.71,965.55 L184.03,964.14 L184.36,962.74 L184.68,961.34 L185.01,959.93 L185.34,958.53 L185.67,957.13 L186.01,955.72 L186.34,954.32 L186.68,952.92 L187.02,951.52 L187.37,950.12 L187.71,948.71 L188.06,947.31 L188.41,945.91 L188.76,944.51 L189.12,943.11 L189.48,941.71 L189.84,940.32 L190.20,938.92 L190.56,937.52 L190.93,936.13 L191.30,934.73 L191.68,933.34 L192.05,931.94 L192.43,930.55 L192.81,929.16 L193.20,927.77 L193.59,926.38 L193.98,924.99 L194.37,923.60 L194.77,922.22 L195.17,920.83 L195.57,919.45 L195.98,918.06 L196.39,916.68 L196.80,915.30 L197.22,913.92 L197.64,912.55 L198.06,911.17 L198.49,909.80 L198.92,908.42 L199.35,907.05 L199.79,905.68 L200.23,904.32 L200.68,902.95 L201.13,901.59 L201.58,900.22 L202.04,898.86 L202.50,897.50 L202.96,896.15 L203.43,894.79 L203.90,893.44 L204.38,892.09 L204.86,890.74 L205.34,889.39 L205.83,888.05 L206.33,886.71 L206.82,885.36 L207.33,884.03 L207.83,882.69 L208.34,881.36 L208.86,880.03 L209.38,878.70 L209.90,877.37 L210.43,876.05 L210.96,874.73 L211.50,873.41 L212.04,872.09 L212.59,870.78 L213.14,869.47 L213.70,868.16 L214.26,866.86 L214.83,865.56 L215.40,864.26 L215.98,862.96 L216.56,861.67 L217.15,860.38 L217.74,859.09 L218.34,857.80 L218.94,856.52 L219.55,855.25 L220.16,853.97 L220.78,852.70 L221.40,851.43 L222.03,850.16 L222.67,848.90 L223.31,847.64 L223.96,846.39 L224.61,845.14 L225.27,843.89 L225.93,842.65 L226.60,841.40 L227.27,840.17 L227.95,838.93 L228.64,837.70 L229.33,836.48 L230.03,835.25 L230.73,834.04 L231.44,832.82 L232.16,831.61 L232.88,830.40 L233.61,829.20 L234.35,828.00 L235.09,826.81 L235.84,825.62 L236.59,824.43 L237.35,823.25 L238.11,822.07 L238.88,820.89 L239.66,819.73 L240.44,818.56 L241.23,817.40 L242.03,816.24 L242.83,815.09 L243.63,813.94 L244.44,812.80 L245.26,811.66 L246.09,810.53 L246.92,809.40 L247.75,808.28 L248.59,807.16 L249.44,806.04 L250.29,804.93 L251.15,803.83 L252.02,802.73 L252.89,801.63 L253.76,800.54 L254.64,799.46 L255.53,798.38 L256.42,797.31 L257.32,796.24 L258.23,795.17 L259.14,794.11 L260.05,793.06 L260.97,792.01 L261.90,790.97 L262.83,789.93 L263.77,788.90 L264.71,787.88 L265.66,786.86 L266.61,785.84 L267.57,784.83 L268.54,783.83 L269.51,782.83 L270.48,781.84 L271.47,780.86 L272.45,779.88 L273.44,778.90 L274.44,777.93 L275.45,776.97 L276.45,776.02 L277.47,775.07 L278.49,774.12 L279.51,773.19 L280.54,772.25 L281.57,771.33 L282.61,770.41 L283.66,769.50 L284.71,768.59 L285.77,767.69 L286.83,766.80 L287.89,765.91 L288.96,765.03 L290.04,764.16 L291.12,763.29 L292.21,762.44 L293.30,761.58 L294.40,760.74 L295.50,759.90 L296.61,759.06 L297.72,758.24 L298.84,757.42 L299.96,756.61 L301.09,755.80 L302.22,755.01 L303.36,754.22 L304.50,753.43 L305.65,752.66 L306.80,751.89 L307.95,751.13 L309.12,750.37 L310.28,749.63 L311.46,748.89 L312.63,748.15 L313.81,747.43 L315.00,746.71 L316.19,746.00 L317.39,745.30 L318.59,744.61 L319.79,743.92 L321.00,743.25 L322.22,742.57 L323.44,741.91 L324.66,741.26 L325.89,740.61 L327.13,739.97 L328.36,739.34 L329.61,738.72 L330.85,738.10 L332.11,737.50 L333.36,736.90 L334.63,736.31 L335.89,735.73 L337.16,735.15 L338.44,734.59 L339.72,734.03 L341.00,733.48 L342.29,732.94 L343.58,732.41 L344.88,731.88 L346.18,731.37 L347.49,730.86 L348.80,730.36 L350.11,729.86 L351.43,729.38 L352.75,728.90 L354.07,728.43 L355.40,727.96 L356.74,727.51 L358.07,727.06 L359.41,726.62 L360.76,726.18 L362.11,725.75 L363.46,725.33 L364.81,724.92 L366.17,724.51 L367.53,724.11 L368.90,723.72 L370.26,723.33 L371.64,722.95 L373.01,722.58 L374.39,722.21 L375.77,721.85 L377.15,721.50 L378.54,721.15 L379.93,720.81 L381.32,720.47 L382.71,720.14 L384.11,719.82 L385.51,719.50 L386.92,719.19 L388.32,718.89 L389.73,718.59 L391.14,718.30 L392.55,718.01 L393.97,717.73 L395.39,717.45 L396.81,717.18 L398.23,716.91 L399.65,716.65 L401.08,716.40 L402.51,716.15 L403.94,715.90 L405.37,715.66 L406.81,715.43 L408.24,715.20 L409.68,714.97 L411.12,714.75 L412.56,714.54 L414.00,714.33 L415.45,714.12 L416.90,713.92 L418.34,713.72 L419.79,713.53 L421.24,713.34 L422.70,713.16 L424.15,712.98 L425.60,712.80 L427.06,712.63 L428.51,712.46 L429.97,712.30 L431.43,712.14 L432.89,711.99 L434.35,711.84 L435.81,711.69 L437.28,711.54" fill="none" stroke="#e6c230" stroke-width="3.7" stroke-linejoin="round" stroke-linecap="round"/>
<path d="M127.60,1125.00 L131.00,1115.00 L136.00,1122.00 L140.00,1114.00 L145.00,1118.00 L149.00,1125.00 L153.00,1150.00" fill="none" stroke="#efa22e" stroke-width="2.8" stroke-linejoin="round" stroke-linecap="round"/>
<path d="M153.11,1139.38 L153.29,1138.00 L153.48,1136.61 L153.67,1135.22 L153.86,1133.84 L154.05,1132.45 L154.25,1131.06 L154.44,1129.68 L154.63,1128.29 L154.82,1126.90 L155.02,1125.52 L155.21,1124.13 L155.41,1122.75 L155.60,1121.36 L155.80,1119.97 L156.00,1118.59 L156.20,1117.20 L156.40,1115.82 L156.60,1114.43 L156.80,1113.05 L157.00,1111.66 L157.20,1110.27 L157.40,1108.89 L157.61,1107.50 L157.81,1106.12 L158.01,1104.73 L158.22,1103.35 L158.43,1101.96 L158.63,1100.58 L158.84,1099.19 L159.05,1097.81 L159.26,1096.42 L159.47,1095.03 L159.68,1093.65 L159.90,1092.26 L160.11,1090.88 L160.32,1089.49 L160.54,1088.11 L160.75,1086.72 L160.97,1085.33 L161.19,1083.95 L161.41,1082.56 L161.63,1081.18 L161.85,1079.79 L162.07,1078.40 L162.29,1077.02 L162.51,1075.63 L162.74,1074.25 L162.96,1072.86 L163.19,1071.47 L163.41,1070.09 L163.64,1068.70 L163.87,1067.31 L164.10,1065.93 L164.33,1064.54 L164.56,1063.15 L164.80,1061.77 L165.03,1060.38 L165.27,1058.99 L165.50,1057.60 L165.74,1056.22 L165.98,1054.83 L166.22,1053.44 L166.46,1052.05 L166.70,1050.66 L166.94,1049.28 L167.18,1047.89 L167.43,1046.50 L167.67,1045.11 L167.92,1043.72 L168.17,1042.33 L168.41,1040.94 L168.66,1039.55 L168.92,1038.16 L169.17,1036.77 L169.42,1035.38 L169.68,1033.99 L169.93,1032.60 L170.19,1031.21 L170.45,1029.82 L170.71,1028.43 L170.97,1027.04 L171.23,1025.65 L171.49,1024.25 L171.75,1022.86 L172.02,1021.47 L172.29,1020.08 L172.55,1018.69 L172.82,1017.29 L173.09,1015.90 L173.36,1014.51 L173.64,1013.11 L173.91,1011.72 L174.18,1010.32 L174.46,1008.93 L174.74,1007.53 L175.02,1006.14 L175.30,1004.74 L175.58,1003.35 L175.86,1001.95 L176.15,1000.56 L176.43,999.16 L176.72,997.76 L177.01,996.37 L177.30,994.97 L177.59,993.57 L177.88,992.17 L178.17,990.77 L178.47,989.38 L178.77,987.98 L179.06,986.58 L179.36,985.18 L179.66,983.78 L179.97,982.38 L180.27,980.98 L180.58,979.58 L180.88,978.17 L181.19,976.77 L181.50,975.37 L181.81,973.97 L182.12,972.57 L182.44,971.16 L182.75,969.76 L183.07,968.36 L183.39,966.95 L183.71,965.55 L184.03,964.14 L184.36,962.74 L184.68,961.34 L185.01,959.93 L185.34,958.53 L185.67,957.13 L186.01,955.72 L186.34,954.32 L186.68,952.92 L187.02,951.52 L187.37,950.12 L187.71,948.71 L188.06,947.31 L188.41,945.91 L188.76,944.51 L189.12,943.11 L189.48,941.71 L189.84,940.32 L190.20,938.92 L190.56,937.52 L190.93,936.13 L191.30,934.73 L191.68,933.34 L192.05,931.94 L192.43,930.55 L192.81,929.16 L193.20,927.77 L193.59,926.38 L193.98,924.99 L194.37,923.60 L194.77,922.22 L195.17,920.83 L195.57,919.45 L195.98,918.06 L196.39,916.68 L196.80,915.30 L197.22,913.92 L197.64,912.55 L198.06,911.17 L198.49,909.80 L198.92,908.42 L199.35,907.05 L199.79,905.68 L200.23,904.32 L200.68,902.95 L201.13,901.59 L201.58,900.22 L202.04,898.86 L202.50,897.50 L202.96,896.15 L203.43,894.79 L203.90,893.44 L204.38,892.09 L204.86,890.74 L205.34,889.39 L205.83,888.05 L206.33,886.71 L206.82,885.36 L207.33,884.03 L207.83,882.69 L208.34,881.36 L208.86,880.03 L209.38,878.70 L209.90,877.37 L210.43,876.05 L210.96,874.73 L211.50,873.41 L212.04,872.09 L212.59,870.78 L213.14,869.47 L213.70,868.16 L214.26,866.86 L214.83,865.56 L215.40,864.26 L215.98,862.96 L216.56,861.67 L217.15,860.38 L217.74,859.09 L218.34,857.80 L218.94,856.52 L219.55,855.25 L220.16,853.97 L220.78,852.70 L221.40,851.43 L222.03,850.16 L222.67,848.90 L223.31,847.64 L223.96,846.39 L224.61,845.14 L225.27,843.89 L225.93,842.65 L226.60,841.40 L227.27,840.17 L227.95,838.93 L228.64,837.70 L229.33,836.48 L230.03,835.25 L230.73,834.04 L231.44,832.82 L232.16,831.61 L232.88,830.40 L233.61,829.20 L234.35,828.00 L235.09,826.81 L235.84,825.62 L236.59,824.43 L237.35,823.25 L238.11,822.07 L238.88,820.89 L239.66,819.73 L240.44,818.56 L241.23,817.40 L242.03,816.24 L242.83,815.09 L243.63,813.94 L244.44,812.80 L245.26,811.66 L246.09,810.53 L246.92,809.40 L247.75,808.28 L248.59,807.16 L249.44,806.04 L250.29,804.93 L251.15,803.83 L252.02,802.73 L252.89,801.63 L253.76,800.54 L254.64,799.46 L255.53,798.38 L256.42,797.31 L257.32,796.24 L258.23,795.17 L259.14,794.11 L260.05,793.06 L260.97,792.01 L261.90,790.97 L262.83,789.93 L263.77,788.90 L264.71,787.88 L265.66,786.86 L266.61,785.84 L267.57,784.83 L268.54,783.83 L269.51,782.83 L270.48,781.84 L271.47,780.86 L272.45,779.88 L273.44,778.90 L274.44,777.93 L275.45,776.97 L276.45,776.02 L277.47,775.07 L278.49,774.12 L279.51,773.19 L280.54,772.25 L281.57,771.33 L282.61,770.41 L283.66,769.50 L284.71,768.59 L285.77,767.69 L286.83,766.80 L287.89,765.91 L288.96,765.03 L290.04,764.16 L291.12,763.29 L292.21,762.44 L293.30,761.58 L294.40,760.74 L295.50,759.90 L296.61,759.06 L297.72,758.24 L298.84,757.42 L299.96,756.61 L301.09,755.80 L302.22,755.01 L303.36,754.22 L304.50,753.43 L305.65,752.66 L306.80,751.89 L307.95,751.13 L309.12,750.37 L310.28,749.63 L311.46,748.89 L312.63,748.15 L313.81,747.43 L315.00,746.71 L316.19,746.00 L317.39,745.30 L318.59,744.61 L319.79,743.92 L321.00,743.25 L322.22,742.57 L323.44,741.91 L324.66,741.26 L325.89,740.61 L327.13,739.97 L328.36,739.34 L329.61,738.72 L330.85,738.10 L332.11,737.50 L333.36,736.90 L334.63,736.31 L335.89,735.73 L337.16,735.15 L338.44,734.59 L339.72,734.03 L341.00,733.48 L342.29,732.94 L343.58,732.41 L344.88,731.88 L346.18,731.37 L347.49,730.86 L348.80,730.36 L350.11,729.86 L351.43,729.38 L352.75,728.90 L354.07,728.43 L355.40,727.96 L356.74,727.51 L358.07,727.06 L359.41,726.62 L360.76,726.18 L362.11,725.75 L363.46,725.33 L364.81,724.92 L366.17,724.51" fill="none" stroke="#efa22e" stroke-width="3.7" stroke-linejoin="round" stroke-linecap="round"/>
<path d="M127.60,1120.00 L131.00,1106.00 L136.00,1110.00 L140.00,1108.00 L145.00,1105.00 L149.00,1115.00 L152.00,1130.00 L154.00,1152.00" fill="none" stroke="#f25c24" stroke-width="2.8" stroke-linejoin="round" stroke-linecap="round"/>
<path d="M153.11,1139.38 L153.29,1138.00 L153.48,1136.61 L153.67,1135.22 L153.86,1133.84 L154.05,1132.45 L154.25,1131.06 L154.44,1129.68 L154.63,1128.29 L154.82,1126.90 L155.02,1125.52 L155.21,1124.13 L155.41,1122.75 L155.60,1121.36 L155.80,1119.97 L156.00,1118.59 L156.20,1117.20 L156.40,1115.82 L156.60,1114.43 L156.80,1113.05 L157.00,1111.66 L157.20,1110.27 L157.40,1108.89 L157.61,1107.50 L157.81,1106.12 L158.01,1104.73 L158.22,1103.35 L158.43,1101.96 L158.63,1100.58 L158.84,1099.19 L159.05,1097.81 L159.26,1096.42 L159.47,1095.03 L159.68,1093.65 L159.90,1092.26 L160.11,1090.88 L160.32,1089.49 L160.54,1088.11 L160.75,1086.72 L160.97,1085.33 L161.19,1083.95 L161.41,1082.56 L161.63,1081.18 L161.85,1079.79 L162.07,1078.40 L162.29,1077.02 L162.51,1075.63 L162.74,1074.25 L162.96,1072.86 L163.19,1071.47 L163.41,1070.09 L163.64,1068.70 L163.87,1067.31 L164.10,1065.93 L164.33,1064.54 L164.56,1063.15 L164.80,1061.77 L165.03,1060.38 L165.27,1058.99 L165.50,1057.60 L165.74,1056.22 L165.98,1054.83 L166.22,1053.44 L166.46,1052.05 L166.70,1050.66 L166.94,1049.28 L167.18,1047.89 L167.43,1046.50 L167.67,1045.11 L167.92,1043.72 L168.17,1042.33 L168.41,1040.94 L168.66,1039.55 L168.92,1038.16 L169.17,1036.77 L169.42,1035.38 L169.68,1033.99 L169.93,1032.60 L170.19,1031.21 L170.45,1029.82 L170.71,1028.43 L170.97,1027.04 L171.23,1025.65 L171.49,1024.25 L171.75,1022.86 L172.02,1021.47 L172.29,1020.08 L172.55,1018.69 L172.82,1017.29 L173.09,1015.90 L173.36,1014.51 L173.64,1013.11 L173.91,1011.72 L174.18,1010.32 L174.46,1008.93 L174.74,1007.53 L175.02,1006.14 L175.30,1004.74 L175.58,1003.35 L175.86,1001.95 L176.15,1000.56 L176.43,999.16 L176.72,997.76 L177.01,996.37 L177.30,994.97 L177.59,993.57 L177.88,992.17 L178.17,990.77 L178.47,989.38 L178.77,987.98 L179.06,986.58 L179.36,985.18 L179.66,983.78 L179.97,982.38 L180.27,980.98 L180.58,979.58 L180.88,978.17 L181.19,976.77 L181.50,975.37 L181.81,973.97 L182.12,972.57 L182.44,971.16 L182.75,969.76 L183.07,968.36 L183.39,966.95 L183.71,965.55 L184.03,964.14 L184.36,962.74 L184.68,961.34 L185.01,959.93 L185.34,958.53 L185.67,957.13 L186.01,955.72 L186.34,954.32 L186.68,952.92 L187.02,951.52 L187.37,950.12 L187.71,948.71 L188.06,947.31 L188.41,945.91 L188.76,944.51 L189.12,943.11 L189.48,941.71 L189.84,940.32 L190.20,938.92 L190.56,937.52 L190.93,936.13 L191.30,934.73 L191.68,933.34 L192.05,931.94 L192.43,930.55 L192.81,929.16 L193.20,927.77 L193.59,926.38 L193.98,924.99 L194.37,923.60 L194.77,922.22 L195.17,920.83 L195.57,919.45 L195.98,918.06 L196.39,916.68 L196.80,915.30 L197.22,913.92 L197.64,912.55 L198.06,911.17 L198.49,909.80 L198.92,908.42 L199.35,907.05 L199.79,905.68 L200.23,904.32 L200.68,902.95 L201.13,901.59 L201.58,900.22 L202.04,898.86 L202.50,897.50 L202.96,896.15 L203.43,894.79 L203.90,893.44 L204.38,892.09 L204.86,890.74 L205.34,889.39 L205.83,888.05 L206.33,886.71 L206.82,885.36 L207.33,884.03 L207.83,882.69 L208.34,881.36 L208.86,880.03 L209.38,878.70 L209.90,877.37 L210.43,876.05 L210.96,874.73 L211.50,873.41 L212.04,872.09 L212.59,870.78 L213.14,869.47 L213.70,868.16 L214.26,866.86 L214.83,865.56 L215.40,864.26 L215.98,862.96 L216.56,861.67 L217.15,860.38 L217.74,859.09 L218.34,857.80 L218.94,856.52 L219.55,855.25 L220.16,853.97 L220.78,852.70 L221.40,851.43 L222.03,850.16 L222.67,848.90 L223.31,847.64 L223.96,846.39 L224.61,845.14 L225.27,843.89 L225.93,842.65 L226.60,841.40 L227.27,840.17 L227.95,838.93 L228.64,837.70 L229.33,836.48 L230.03,835.25 L230.73,834.04 L231.44,832.82 L232.16,831.61 L232.88,830.40 L233.61,829.20 L234.35,828.00 L235.09,826.81 L235.84,825.62 L236.59,824.43 L237.35,823.25 L238.11,822.07 L238.88,820.89 L239.66,819.73 L240.44,818.56 L241.23,817.40 L242.03,816.24 L242.83,815.09 L243.63,813.94 L244.44,812.80 L245.26,811.66 L246.09,810.53 L246.92,809.40 L247.75,808.28 L248.59,807.16 L249.44,806.04 L250.29,804.93 L251.15,803.83 L252.02,802.73 L252.89,801.63 L253.76,800.54 L254.64,799.46 L255.53,798.38 L256.42,797.31 L257.32,796.24 L258.23,795.17 L259.14,794.11 L260.05,793.06 L260.97,792.01 L261.90,790.97 L262.83,789.93 L263.77,788.90 L264.71,787.88 L265.66,786.86 L266.61,785.84 L267.57,784.83 L268.54,783.83 L269.51,782.83 L270.48,781.84 L271.47,780.86 L272.45,779.88 L273.44,778.90 L274.44,777.93 L275.45,776.97 L276.45,776.02 L277.47,775.07 L278.49,774.12 L279.51,773.19 L280.54,772.25 L281.57,771.33 L282.61,770.41 L283.66,769.50 L284.71,768.59 L285.77,767.69 L286.83,766.80 L287.89,765.91 L288.96,765.03 L290.04,764.16 L291.12,763.29 L292.21,762.44 L293.30,761.58 L294.40,760.74 L295.50,759.90 L296.61,759.06" fill="none" stroke="#f25c24" stroke-width="3.7" stroke-linejoin="round" stroke-linecap="round"/>
<path d="M127.60,1115.00 L131.00,1112.00 L134.00,1120.00 L138.00,1113.00 L142.00,1112.00 L146.00,1120.00 L150.00,1125.00 L153.00,1145.00" fill="none" stroke="#ff0022" stroke-width="2.8" stroke-linejoin="round" stroke-linecap="round"/>
<path d="M153.11,1139.38 L153.29,1138.00 L153.48,1136.61 L153.67,1135.22 L153.86,1133.84 L154.05,1132.45 L154.25,1131.06 L154.44,1129.68 L154.63,1128.29 L154.82,1126.90 L155.02,1125.52 L155.21,1124.13 L155.41,1122.75 L155.60,1121.36 L155.80,1119.97 L156.00,1118.59 L156.20,1117.20 L156.40,1115.82 L156.60,1114.43 L156.80,1113.05 L157.00,1111.66 L157.20,1110.27 L157.40,1108.89 L157.61,1107.50 L157.81,1106.12 L158.01,1104.73 L158.22,1103.35 L158.43,1101.96 L158.63,1100.58 L158.84,1099.19 L159.05,1097.81 L159.26,1096.42 L159.47,1095.03 L159.68,1093.65 L159.90,1092.26 L160.11,1090.88 L160.32,1089.49 L160.54,1088.11 L160.75,1086.72 L160.97,1085.33 L161.19,1083.95 L161.41,1082.56 L161.63,1081.18 L161.85,1079.79 L162.07,1078.40 L162.29,1077.02 L162.51,1075.63 L162.74,1074.25 L162.96,1072.86 L163.19,1071.47 L163.41,1070.09 L163.64,1068.70 L163.87,1067.31 L164.10,1065.93 L164.33,1064.54 L164.56,1063.15 L164.80,1061.77 L165.03,1060.38 L165.27,1058.99 L165.50,1057.60 L165.74,1056.22 L165.98,1054.83 L166.22,1053.44 L166.46,1052.05 L166.70,1050.66 L166.94,1049.28 L167.18,1047.89 L167.43,1046.50 L167.67,1045.11 L167.92,1043.72 L168.17,1042.33 L168.41,1040.94 L168.66,1039.55 L168.92,1038.16 L169.17,1036.77 L169.42,1035.38 L169.68,1033.99 L169.93,1032.60 L170.19,1031.21 L170.45,1029.82 L170.71,1028.43 L170.97,1027.04 L171.23,1025.65 L171.49,1024.25 L171.75,1022.86 L172.02,1021.47 L172.29,1020.08 L172.55,1018.69 L172.82,1017.29 L173.09,1015.90 L173.36,1014.51 L173.64,1013.11 L173.91,1011.72 L174.18,1010.32 L174.46,1008.93 L174.74,1007.53 L175.02,1006.14 L175.30,1004.74 L175.58,1003.35 L175.86,1001.95 L176.15,1000.56 L176.43,999.16 L176.72,997.76 L177.01,996.37 L177.30,994.97 L177.59,993.57 L177.88,992.17 L178.17,990.77 L178.47,989.38 L178.77,987.98 L179.06,986.58 L179.36,985.18 L179.66,983.78 L179.97,982.38 L180.27,980.98 L180.58,979.58 L180.88,978.17 L181.19,976.77 L181.50,975.37 L181.81,973.97 L182.12,972.57 L182.44,971.16 L182.75,969.76 L183.07,968.36 L183.39,966.95 L183.71,965.55 L184.03,964.14 L184.36,962.74 L184.68,961.34 L185.01,959.93 L185.34,958.53 L185.67,957.13 L186.01,955.72 L186.34,954.32 L186.68,952.92 L187.02,951.52 L187.37,950.12 L187.71,948.71 L188.06,947.31 L188.41,945.91 L188.76,944.51 L189.12,943.11 L189.48,941.71 L189.84,940.32 L190.20,938.92 L190.56,937.52 L190.93,936.13 L191.30,934.73 L191.68,933.34 L192.05,931.94 L192.43,930.55 L192.81,929.16 L193.20,927.77 L193.59,926.38 L193.98,924.99 L194.37,923.60 L194.77,922.22 L195.17,920.83 L195.57,919.45 L195.98,918.06 L196.39,916.68 L196.80,915.30 L197.22,913.92 L197.64,912.55 L198.06,911.17 L198.49,909.80 L198.92,908.42 L199.35,907.05 L199.79,905.68 L200.23,904.32 L200.68,902.95 L201.13,901.59 L201.58,900.22 L202.04,898.86 L202.50,897.50 L202.96,896.15 L203.43,894.79 L203.90,893.44 L204.38,892.09 L204.86,890.74 L205.34,889.39 L205.83,888.05 L206.33,886.71 L206.82,885.36 L207.33,884.03 L207.83,882.69 L208.34,881.36 L208.86,880.03 L209.38,878.70 L209.90,877.37 L210.43,876.05 L210.96,874.73 L211.50,873.41 L212.04,872.09 L212.59,870.78 L213.14,869.47 L213.70,868.16 L214.26,866.86 L214.83,865.56 L215.40,864.26 L215.98,862.96 L216.56,861.67 L217.15,860.38 L217.74,859.09 L218.34,857.80 L218.94,856.52 L219.55,855.25 L220.16,853.97 L220.78,852.70 L221.40,851.43 L222.03,850.16 L222.67,848.90 L223.31,847.64 L223.96,846.39 L224.61,845.14 L225.27,843.89 L225.93,842.65 L226.60,841.40" fill="none" stroke="#ff0022" stroke-width="3.7" stroke-linejoin="round" stroke-linecap="round"/>
<path d="M128.00,1130.00 L132.00,1118.00 L137.00,1125.00 L141.00,1116.00 L145.00,1122.00 L150.00,1135.00 L154.00,1152.00" fill="none" stroke="#ff0022" stroke-width="2.8" stroke-linejoin="round" stroke-linecap="round"/>
<path d="M128.00,1122.00 L131.00,1127.00 L134.00,1114.00 L138.00,1121.00 L142.00,1109.00 L146.00,1116.00 L150.00,1128.00 L153.00,1150.00" fill="none" stroke="#ff0022" stroke-width="2.6" stroke-linejoin="round" stroke-linecap="round"/>
<path d="M128.00,1140.00 L131.00,1133.00 L134.00,1146.00 L138.00,1134.00 L142.00,1148.00 L146.00,1136.00 L150.00,1152.00" fill="none" stroke="#e6c230" stroke-width="2.6" stroke-linejoin="round" stroke-linecap="round"/>
<path d="M128.00,1148.00 L131.00,1142.00 L135.00,1154.00 L139.00,1141.00 L143.00,1154.00 L147.00,1144.00 L151.00,1155.00" fill="none" stroke="#8a9e22" stroke-width="2.6" stroke-linejoin="round" stroke-linecap="round"/>
<path d="M128.00,1112.00 L131.00,1108.00 L135.00,1114.00 L139.00,1110.00 L143.00,1113.00 L147.00,1118.00 L151.00,1126.00" fill="none" stroke="#efa22e" stroke-width="2.4" stroke-linejoin="round" stroke-linecap="round"/>
</g>
<rect x="127.90" y="680.40" width="449.90" height="475.00" fill="none" stroke="#000" stroke-width="2.75"/>
<line x1="127.90" y1="680.40" x2="119.90" y2="680.40" stroke="#000" stroke-width="2.5" stroke-linecap="butt"/>
<line x1="127.90" y1="721.90" x2="123.70" y2="721.90" stroke="#000" stroke-width="1.6" stroke-linecap="butt"/>
<line x1="127.90" y1="711.45" x2="123.70" y2="711.45" stroke="#000" stroke-width="1.6" stroke-linecap="butt"/>
<line x1="127.90" y1="704.03" x2="123.70" y2="704.03" stroke="#000" stroke-width="1.6" stroke-linecap="butt"/>
<line x1="127.90" y1="698.27" x2="123.70" y2="698.27" stroke="#000" stroke-width="1.6" stroke-linecap="butt"/>
<line x1="127.90" y1="693.57" x2="123.70" y2="693.57" stroke="#000" stroke-width="1.6" stroke-linecap="butt"/>
<line x1="127.90" y1="689.60" x2="123.70" y2="689.60" stroke="#000" stroke-width="1.6" stroke-linecap="butt"/>
<line x1="127.90" y1="686.15" x2="123.70" y2="686.15" stroke="#000" stroke-width="1.6" stroke-linecap="butt"/>
<line x1="127.90" y1="683.12" x2="123.70" y2="683.12" stroke="#000" stroke-width="1.6" stroke-linecap="butt"/>
<text x="90.99" y="681.50" font-size="17.6">-5</text>
<text x="56.51" y="691.40" font-size="31">10</text>
<line x1="127.90" y1="739.77" x2="119.90" y2="739.77" stroke="#000" stroke-width="2.5" stroke-linecap="butt"/>
<line x1="127.90" y1="781.28" x2="123.70" y2="781.28" stroke="#000" stroke-width="1.6" stroke-linecap="butt"/>
<line x1="127.90" y1="770.82" x2="123.70" y2="770.82" stroke="#000" stroke-width="1.6" stroke-linecap="butt"/>
<line x1="127.90" y1="763.40" x2="123.70" y2="763.40" stroke="#000" stroke-width="1.6" stroke-linecap="butt"/>
<line x1="127.90" y1="757.65" x2="123.70" y2="757.65" stroke="#000" stroke-width="1.6" stroke-linecap="butt"/>
<line x1="127.90" y1="752.95" x2="123.70" y2="752.95" stroke="#000" stroke-width="1.6" stroke-linecap="butt"/>
<line x1="127.90" y1="748.97" x2="123.70" y2="748.97" stroke="#000" stroke-width="1.6" stroke-linecap="butt"/>
<line x1="127.90" y1="745.53" x2="123.70" y2="745.53" stroke="#000" stroke-width="1.6" stroke-linecap="butt"/>
<line x1="127.90" y1="742.49" x2="123.70" y2="742.49" stroke="#000" stroke-width="1.6" stroke-linecap="butt"/>
<text x="91.02" y="740.88" font-size="17.6">-6</text>
<text x="56.54" y="750.77" font-size="31">10</text>
<line x1="127.90" y1="799.15" x2="119.90" y2="799.15" stroke="#000" stroke-width="2.5" stroke-linecap="butt"/>
<line x1="127.90" y1="840.65" x2="123.70" y2="840.65" stroke="#000" stroke-width="1.6" stroke-linecap="butt"/>
<line x1="127.90" y1="830.20" x2="123.70" y2="830.20" stroke="#000" stroke-width="1.6" stroke-linecap="butt"/>
<line x1="127.90" y1="822.78" x2="123.70" y2="822.78" stroke="#000" stroke-width="1.6" stroke-linecap="butt"/>
<line x1="127.90" y1="817.02" x2="123.70" y2="817.02" stroke="#000" stroke-width="1.6" stroke-linecap="butt"/>
<line x1="127.90" y1="812.32" x2="123.70" y2="812.32" stroke="#000" stroke-width="1.6" stroke-linecap="butt"/>
<line x1="127.90" y1="808.35" x2="123.70" y2="808.35" stroke="#000" stroke-width="1.6" stroke-linecap="butt"/>
<line x1="127.90" y1="804.90" x2="123.70" y2="804.90" stroke="#000" stroke-width="1.6" stroke-linecap="butt"/>
<line x1="127.90" y1="801.87" x2="123.70" y2="801.87" stroke="#000" stroke-width="1.6" stroke-linecap="butt"/>
<text x="91.14" y="800.25" font-size="17.6">-7</text>
<text x="56.65" y="810.15" font-size="31">10</text>
<line x1="127.90" y1="858.53" x2="119.90" y2="858.53" stroke="#000" stroke-width="2.5" stroke-linecap="butt"/>
<line x1="127.90" y1="900.03" x2="123.70" y2="900.03" stroke="#000" stroke-width="1.6" stroke-linecap="butt"/>
<line x1="127.90" y1="889.57" x2="123.70" y2="889.57" stroke="#000" stroke-width="1.6" stroke-linecap="butt"/>
<line x1="127.90" y1="882.15" x2="123.70" y2="882.15" stroke="#000" stroke-width="1.6" stroke-linecap="butt"/>
<line x1="127.90" y1="876.40" x2="123.70" y2="876.40" stroke="#000" stroke-width="1.6" stroke-linecap="butt"/>
<line x1="127.90" y1="871.70" x2="123.70" y2="871.70" stroke="#000" stroke-width="1.6" stroke-linecap="butt"/>
<line x1="127.90" y1="867.72" x2="123.70" y2="867.72" stroke="#000" stroke-width="1.6" stroke-linecap="butt"/>
<line x1="127.90" y1="864.28" x2="123.70" y2="864.28" stroke="#000" stroke-width="1.6" stroke-linecap="butt"/>
<line x1="127.90" y1="861.24" x2="123.70" y2="861.24" stroke="#000" stroke-width="1.6" stroke-linecap="butt"/>
<text x="91.02" y="859.63" font-size="17.6">-8</text>
<text x="56.53" y="869.53" font-size="31">10</text>
<line x1="127.90" y1="917.90" x2="119.90" y2="917.90" stroke="#000" stroke-width="2.5" stroke-linecap="butt"/>
<line x1="127.90" y1="959.40" x2="123.70" y2="959.40" stroke="#000" stroke-width="1.6" stroke-linecap="butt"/>
<line x1="127.90" y1="948.95" x2="123.70" y2="948.95" stroke="#000" stroke-width="1.6" stroke-linecap="butt"/>
<line x1="127.90" y1="941.53" x2="123.70" y2="941.53" stroke="#000" stroke-width="1.6" stroke-linecap="butt"/>
<line x1="127.90" y1="935.77" x2="123.70" y2="935.77" stroke="#000" stroke-width="1.6" stroke-linecap="butt"/>
<line x1="127.90" y1="931.07" x2="123.70" y2="931.07" stroke="#000" stroke-width="1.6" stroke-linecap="butt"/>
<line x1="127.90" y1="927.10" x2="123.70" y2="927.10" stroke="#000" stroke-width="1.6" stroke-linecap="butt"/>
<line x1="127.90" y1="923.65" x2="123.70" y2="923.65" stroke="#000" stroke-width="1.6" stroke-linecap="butt"/>
<line x1="127.90" y1="920.62" x2="123.70" y2="920.62" stroke="#000" stroke-width="1.6" stroke-linecap="butt"/>
<text x="91.08" y="919.00" font-size="17.6">-9</text>
<text x="56.60" y="928.90" font-size="31">10</text>
<line x1="127.90" y1="977.28" x2="119.90" y2="977.28" stroke="#000" stroke-width="2.5" stroke-linecap="butt"/>
<line x1="127.90" y1="1018.78" x2="123.70" y2="1018.78" stroke="#000" stroke-width="1.6" stroke-linecap="butt"/>
<line x1="127.90" y1="1008.32" x2="123.70" y2="1008.32" stroke="#000" stroke-width="1.6" stroke-linecap="butt"/>
<line x1="127.90" y1="1000.90" x2="123.70" y2="1000.90" stroke="#000" stroke-width="1.6" stroke-linecap="butt"/>
<line x1="127.90" y1="995.15" x2="123.70" y2="995.15" stroke="#000" stroke-width="1.6" stroke-linecap="butt"/>
<line x1="127.90" y1="990.45" x2="123.70" y2="990.45" stroke="#000" stroke-width="1.6" stroke-linecap="butt"/>
<line x1="127.90" y1="986.47" x2="123.70" y2="986.47" stroke="#000" stroke-width="1.6" stroke-linecap="butt"/>
<line x1="127.90" y1="983.03" x2="123.70" y2="983.03" stroke="#000" stroke-width="1.6" stroke-linecap="butt"/>
<line x1="127.90" y1="979.99" x2="123.70" y2="979.99" stroke="#000" stroke-width="1.6" stroke-linecap="butt"/>
<text x="81.15" y="978.38" font-size="17.6">-10</text>
<text x="46.67" y="988.28" font-size="31">10</text>
<line x1="127.90" y1="1036.65" x2="119.90" y2="1036.65" stroke="#000" stroke-width="2.5" stroke-linecap="butt"/>
<line x1="127.90" y1="1078.15" x2="123.70" y2="1078.15" stroke="#000" stroke-width="1.6" stroke-linecap="butt"/>
<line x1="127.90" y1="1067.70" x2="123.70" y2="1067.70" stroke="#000" stroke-width="1.6" stroke-linecap="butt"/>
<line x1="127.90" y1="1060.28" x2="123.70" y2="1060.28" stroke="#000" stroke-width="1.6" stroke-linecap="butt"/>
<line x1="127.90" y1="1054.52" x2="123.70" y2="1054.52" stroke="#000" stroke-width="1.6" stroke-linecap="butt"/>
<line x1="127.90" y1="1049.82" x2="123.70" y2="1049.82" stroke="#000" stroke-width="1.6" stroke-linecap="butt"/>
<line x1="127.90" y1="1045.85" x2="123.70" y2="1045.85" stroke="#000" stroke-width="1.6" stroke-linecap="butt"/>
<line x1="127.90" y1="1042.40" x2="123.70" y2="1042.40" stroke="#000" stroke-width="1.6" stroke-linecap="butt"/>
<line x1="127.90" y1="1039.37" x2="123.70" y2="1039.37" stroke="#000" stroke-width="1.6" stroke-linecap="butt"/>
<text x="81.32" y="1037.75" font-size="17.6">-11</text>
<text x="46.84" y="1047.65" font-size="31">10</text>
<line x1="127.90" y1="1096.03" x2="119.90" y2="1096.03" stroke="#000" stroke-width="2.5" stroke-linecap="butt"/>
<line x1="127.90" y1="1137.53" x2="123.70" y2="1137.53" stroke="#000" stroke-width="1.6" stroke-linecap="butt"/>
<line x1="127.90" y1="1127.07" x2="123.70" y2="1127.07" stroke="#000" stroke-width="1.6" stroke-linecap="butt"/>
<line x1="127.90" y1="1119.65" x2="123.70" y2="1119.65" stroke="#000" stroke-width="1.6" stroke-linecap="butt"/>
<line x1="127.90" y1="1113.90" x2="123.70" y2="1113.90" stroke="#000" stroke-width="1.6" stroke-linecap="butt"/>
<line x1="127.90" y1="1109.20" x2="123.70" y2="1109.20" stroke="#000" stroke-width="1.6" stroke-linecap="butt"/>
<line x1="127.90" y1="1105.22" x2="123.70" y2="1105.22" stroke="#000" stroke-width="1.6" stroke-linecap="butt"/>
<line x1="127.90" y1="1101.78" x2="123.70" y2="1101.78" stroke="#000" stroke-width="1.6" stroke-linecap="butt"/>
<line x1="127.90" y1="1098.74" x2="123.70" y2="1098.74" stroke="#000" stroke-width="1.6" stroke-linecap="butt"/>
<text x="81.35" y="1097.12" font-size="17.6">-12</text>
<text x="46.87" y="1107.03" font-size="31">10</text>
<line x1="127.90" y1="1155.40" x2="119.90" y2="1155.40" stroke="#000" stroke-width="2.5" stroke-linecap="butt"/>
<text x="81.24" y="1156.50" font-size="17.6">-13</text>
<text x="46.75" y="1166.40" font-size="31">10</text>
<line x1="156.01" y1="1155.40" x2="156.01" y2="1163.40" stroke="#000" stroke-width="2.5" stroke-linecap="butt"/>
<line x1="226.31" y1="1155.40" x2="226.31" y2="1163.40" stroke="#000" stroke-width="2.5" stroke-linecap="butt"/>
<line x1="296.60" y1="1155.40" x2="296.60" y2="1163.40" stroke="#000" stroke-width="2.5" stroke-linecap="butt"/>
<line x1="366.90" y1="1155.40" x2="366.90" y2="1163.40" stroke="#000" stroke-width="2.5" stroke-linecap="butt"/>
<line x1="437.20" y1="1155.40" x2="437.20" y2="1163.40" stroke="#000" stroke-width="2.5" stroke-linecap="butt"/>
<line x1="507.49" y1="1155.40" x2="507.49" y2="1163.40" stroke="#000" stroke-width="2.5" stroke-linecap="butt"/>
<line x1="577.79" y1="1155.40" x2="577.79" y2="1163.40" stroke="#000" stroke-width="2.5" stroke-linecap="butt"/>
<line x1="191.16" y1="1155.40" x2="191.16" y2="1159.60" stroke="#000" stroke-width="1.8" stroke-linecap="butt"/>
<line x1="261.45" y1="1155.40" x2="261.45" y2="1159.60" stroke="#000" stroke-width="1.8" stroke-linecap="butt"/>
<line x1="331.75" y1="1155.40" x2="331.75" y2="1159.60" stroke="#000" stroke-width="1.8" stroke-linecap="butt"/>
<line x1="402.05" y1="1155.40" x2="402.05" y2="1159.60" stroke="#000" stroke-width="1.8" stroke-linecap="butt"/>
<line x1="472.35" y1="1155.40" x2="472.35" y2="1159.60" stroke="#000" stroke-width="1.8" stroke-linecap="butt"/>
<line x1="542.64" y1="1155.40" x2="542.64" y2="1159.60" stroke="#000" stroke-width="1.8" stroke-linecap="butt"/>
<text x="132.86" y="1201.50" font-size="31">1.5</text>
<text x="122.54" y="1201.50" font-size="31">-</text>
<text x="217.19" y="1201.50" font-size="31">1</text>
<text x="206.86" y="1201.50" font-size="31">-</text>
<text x="276.06" y="1201.50" font-size="31">0.5</text>
<text x="265.73" y="1201.50" font-size="31">-</text>
<text x="358.28" y="1201.50" font-size="31">0</text>
<text x="415.95" y="1201.50" font-size="31">0.5</text>
<text x="498.87" y="1201.50" font-size="31">1</text>
<text x="557.04" y="1201.50" font-size="31">1.5</text>
<text x="398.82" y="770.40" font-size="31" font-style="italic">V</text>
<text x="419.22" y="780.20" font-size="18.5">ds</text>
<text x="446.69" y="770.40" font-size="31">= 0.5 V</text>
<text x="368.12" y="856.70" font-size="31" font-style="italic">V</text>
<text x="387.82" y="866.70" font-size="18.5">g</text>
<text x="405.44" y="856.70" font-size="31">range</text>
<line x1="322.70" y1="895.00" x2="374.40" y2="895.00" stroke="#0b4f24" stroke-width="2.6" stroke-linecap="butt"/>
<text x="385.72" y="902.40" font-size="31">-1.7 to 1.5 V</text>
<line x1="322.70" y1="934.70" x2="374.40" y2="934.70" stroke="#8a9e22" stroke-width="2.6" stroke-linecap="butt"/>
<text x="385.72" y="942.10" font-size="31">-1.7 to 1 V</text>
<line x1="322.70" y1="974.40" x2="374.40" y2="974.40" stroke="#e6c230" stroke-width="2.6" stroke-linecap="butt"/>
<text x="385.72" y="981.80" font-size="31">-1.7 to 0.5 V</text>
<line x1="322.70" y1="1014.10" x2="374.40" y2="1014.10" stroke="#efa22e" stroke-width="2.6" stroke-linecap="butt"/>
<text x="385.72" y="1021.50" font-size="31">-1.7 to 0 V</text>
<line x1="322.70" y1="1053.80" x2="374.40" y2="1053.80" stroke="#f25c24" stroke-width="2.6" stroke-linecap="butt"/>
<text x="385.72" y="1061.20" font-size="31">-1.7 to -0.5 V</text>
<line x1="322.70" y1="1093.50" x2="374.40" y2="1093.50" stroke="#ff0022" stroke-width="2.6" stroke-linecap="butt"/>
<text x="385.72" y="1100.90" font-size="31">-1.7 to -1 V</text>
<line x1="187.80" y1="897.10" x2="200.79" y2="862.61" stroke="#000" stroke-width="3.0" stroke-linecap="butt"/>
<path d="M203.50,855.40 L203.48,870.35 L199.80,865.23 L193.65,866.65Z" fill="#000"/>
<line x1="234.00" y1="866.70" x2="221.82" y2="900.36" stroke="#000" stroke-width="3.0" stroke-linecap="butt"/>
<path d="M219.20,907.60 L219.03,892.65 L222.77,897.73 L228.90,896.22Z" fill="#000"/>
<text x="309.02" y="1246.80" font-size="31" font-style="italic">V</text>
<text x="328.62" y="1257.80" font-size="18.5">g</text>
<text x="355.78" y="1246.80" font-size="31">(V)</text>
<g transform="rotate(-90 22.90 995.93)">
<text x="22.90" y="995.93" font-size="31" font-style="italic">I</text>
<text x="31.45" y="1006.43" font-size="18.5">ds</text>
<text x="67.30" y="995.93" font-size="31">(A/μm)</text>
</g>
<text x="681.65" y="663.60" font-size="46">e</text>
<clipPath id="ce"><rect x="785.3" y="680.4" width="449.29999999999995" height="475.0000000000001"/></clipPath>
<g clip-path="url(#ce)">
<path d="M784.70,1093.00 L788.00,1093.50 L795.00,1095.00 L802.00,1096.50 L806.00,1100.00 L810.00,1120.00 L814.00,1140.00" fill="none" stroke="#0b4f24" stroke-width="2.6" stroke-linejoin="round" stroke-linecap="round"/>
<path d="M811.88,1144.62 L812.11,1143.21 L812.34,1141.81 L812.58,1140.41 L812.81,1139.01 L813.05,1137.61 L813.28,1136.21 L813.52,1134.80 L813.76,1133.41 L814.00,1132.01 L814.24,1130.61 L814.48,1129.21 L814.72,1127.81 L814.96,1126.41 L815.20,1125.01 L815.45,1123.62 L815.69,1122.22 L815.94,1120.82 L816.18,1119.43 L816.43,1118.03 L816.68,1116.64 L816.93,1115.24 L817.18,1113.85 L817.43,1112.45 L817.68,1111.06 L817.93,1109.66 L818.18,1108.27 L818.44,1106.87 L818.69,1105.48 L818.95,1104.09 L819.20,1102.69 L819.46,1101.30 L819.71,1099.91 L819.97,1098.52 L820.23,1097.12 L820.49,1095.73 L820.75,1094.34 L821.01,1092.95 L821.27,1091.56 L821.53,1090.16 L821.79,1088.77 L822.05,1087.38 L822.31,1085.99 L822.57,1084.60 L822.84,1083.21 L823.10,1081.82 L823.37,1080.43 L823.63,1079.04 L823.90,1077.64 L824.16,1076.25 L824.43,1074.86 L824.69,1073.47 L824.96,1072.08 L825.23,1070.69 L825.49,1069.30 L825.76,1067.91 L826.03,1066.52 L826.30,1065.13 L826.57,1063.74 L826.83,1062.34 L827.10,1060.95 L827.37,1059.56 L827.64,1058.17 L827.91,1056.78 L828.18,1055.39 L828.45,1054.00 L828.72,1052.61 L828.99,1051.21 L829.27,1049.82 L829.54,1048.43 L829.81,1047.04 L830.08,1045.64 L830.35,1044.25 L830.62,1042.86 L830.89,1041.47 L831.16,1040.07 L831.44,1038.68 L831.71,1037.29 L831.98,1035.89 L832.25,1034.50 L832.52,1033.10 L832.80,1031.71 L833.07,1030.31 L833.34,1028.92 L833.61,1027.52 L833.88,1026.13 L834.15,1024.73 L834.43,1023.34 L834.70,1021.94 L834.97,1020.54 L835.24,1019.15 L835.51,1017.75 L835.78,1016.35 L836.05,1014.95 L836.33,1013.55 L836.60,1012.15 L836.87,1010.75 L837.14,1009.35 L837.41,1007.95 L837.68,1006.55 L837.95,1005.15 L838.23,1003.75 L838.50,1002.35 L838.77,1000.95 L839.04,999.55 L839.32,998.15 L839.59,996.75 L839.87,995.35 L840.14,993.95 L840.42,992.55 L840.70,991.14 L840.98,989.74 L841.26,988.34 L841.54,986.94 L841.82,985.54 L842.10,984.14 L842.38,982.74 L842.67,981.34 L842.95,979.93 L843.24,978.53 L843.53,977.13 L843.82,975.73 L844.11,974.33 L844.40,972.93 L844.69,971.53 L844.99,970.13 L845.29,968.73 L845.58,967.33 L845.88,965.93 L846.19,964.54 L846.49,963.14 L846.80,961.74 L847.10,960.34 L847.41,958.94 L847.73,957.55 L848.04,956.15 L848.36,954.76 L848.67,953.36 L849.00,951.97 L849.32,950.57 L849.64,949.18 L849.97,947.78 L850.30,946.39 L850.63,945.00 L850.97,943.61 L851.31,942.22 L851.65,940.82 L851.99,939.43 L852.33,938.05 L852.68,936.66 L853.03,935.27 L853.39,933.88 L853.75,932.50 L854.11,931.11 L854.47,929.72 L854.84,928.34 L855.20,926.96 L855.58,925.58 L855.95,924.19 L856.33,922.81 L856.72,921.43 L857.10,920.05 L857.49,918.68 L857.88,917.30 L858.28,915.92 L858.68,914.55 L859.09,913.17 L859.49,911.80 L859.91,910.43 L860.32,909.06 L860.74,907.69 L861.16,906.32 L861.59,904.95 L862.02,903.58 L862.46,902.22 L862.90,900.85 L863.34,899.49 L863.79,898.13 L864.24,896.76 L864.70,895.40 L865.16,894.05 L865.62,892.69 L866.09,891.33 L866.57,889.98 L867.05,888.62 L867.53,887.27 L868.02,885.92 L868.51,884.57 L869.01,883.22 L869.52,881.88 L870.02,880.53 L870.54,879.19 L871.06,877.85 L871.58,876.51 L872.11,875.17 L872.64,873.83 L873.18,872.49 L873.72,871.16 L874.27,869.83 L874.82,868.50 L875.38,867.17 L875.95,865.84 L876.51,864.52 L877.09,863.19 L877.67,861.87 L878.25,860.56 L878.84,859.24 L879.43,857.93 L880.03,856.62 L880.64,855.31 L881.25,854.00 L881.86,852.70 L882.48,851.40 L883.11,850.11 L883.74,848.81 L884.38,847.52 L885.02,846.23 L885.66,844.95 L886.32,843.66 L886.97,842.38 L887.64,841.11 L888.30,839.84 L888.98,838.57 L889.65,837.30 L890.34,836.04 L891.03,834.78 L891.72,833.52 L892.42,832.27 L893.12,831.02 L893.83,829.78 L894.55,828.54 L895.27,827.30 L895.99,826.07 L896.73,824.84 L897.46,823.62 L898.20,822.40 L898.95,821.18 L899.70,819.97 L900.46,818.76 L901.23,817.56 L902.00,816.36 L902.77,815.17 L903.55,813.98 L904.34,812.79 L905.13,811.61 L905.92,810.44 L906.72,809.27 L907.53,808.10 L908.34,806.94 L909.16,805.79 L909.99,804.64 L910.82,803.49 L911.65,802.35 L912.49,801.22 L913.34,800.09 L914.19,798.97 L915.04,797.85 L915.91,796.74 L916.78,795.63 L917.65,794.53 L918.53,793.43 L919.41,792.34 L920.30,791.26 L921.20,790.18 L922.10,789.11 L923.01,788.04 L923.92,786.98 L924.84,785.93 L925.76,784.88 L926.69,783.84 L927.63,782.81 L928.57,781.78 L929.52,780.76 L930.47,779.74 L931.43,778.73 L932.39,777.73 L933.36,776.74 L934.34,775.75 L935.32,774.77 L936.31,773.79 L937.30,772.83 L938.30,771.86 L939.30,770.91 L940.31,769.97 L941.33,769.03 L942.35,768.10 L943.37,767.17 L944.41,766.25 L945.45,765.35 L946.49,764.44 L947.54,763.55 L948.60,762.66 L949.66,761.78 L950.73,760.91 L951.80,760.05 L952.88,759.20 L953.97,758.35 L955.06,757.51 L956.16,756.68 L957.26,755.86 L958.37,755.04 L959.49,754.24 L960.61,753.44 L961.73,752.65 L962.87,751.87 L964.01,751.10 L965.15,750.33 L966.30,749.58 L967.46,748.83 L968.62,748.10 L969.79,747.37 L970.97,746.65 L972.15,745.94 L973.33,745.24 L974.52,744.54 L975.72,743.86 L976.93,743.18 L978.14,742.52 L979.35,741.86 L980.57,741.21 L981.80,740.57 L983.03,739.93 L984.27,739.31 L985.51,738.69 L986.75,738.08 L988.01,737.48 L989.26,736.89 L990.53,736.30 L991.79,735.73 L993.07,735.16 L994.34,734.60 L995.63,734.04 L996.91,733.50 L998.20,732.96 L999.50,732.43 L1000.80,731.90 L1002.11,731.39 L1003.42,730.88 L1004.73,730.38 L1006.05,729.89 L1007.37,729.40 L1008.70,728.92 L1010.03,728.45 L1011.37,727.98 L1012.71,727.53 L1014.05,727.07 L1015.40,726.63 L1016.75,726.19 L1018.10,725.76 L1019.46,725.34 L1020.82,724.92 L1022.19,724.51 L1023.56,724.11 L1024.93,723.71 L1026.31,723.32 L1027.69,722.93 L1029.07,722.55 L1030.46,722.18 L1031.85,721.81 L1033.25,721.45 L1034.64,721.10 L1036.04,720.75 L1037.44,720.41 L1038.85,720.07 L1040.26,719.74 L1041.67,719.42 L1043.09,719.10 L1044.50,718.79 L1045.92,718.48 L1047.34,718.18 L1048.77,717.88 L1050.20,717.59 L1051.63,717.31 L1053.06,717.03 L1054.49,716.75 L1055.93,716.48 L1057.37,716.22 L1058.81,715.96 L1060.25,715.70 L1061.70,715.45 L1063.15,715.21 L1064.60,714.97 L1066.05,714.74 L1067.50,714.51 L1068.96,714.28 L1070.41,714.06 L1071.87,713.84 L1073.33,713.63 L1074.79,713.43 L1076.26,713.22 L1077.72,713.02 L1079.19,712.83 L1080.65,712.64 L1082.12,712.46 L1083.59,712.27 L1085.06,712.10 L1086.53,711.92 L1088.01,711.75 L1089.48,711.59 L1090.95,711.43 L1092.43,711.27 L1093.90,711.12 L1095.38,710.97 L1096.86,710.82 L1098.34,710.68 L1099.82,710.54 L1101.30,710.40 L1102.77,710.27 L1104.25,710.14 L1105.74,710.01 L1107.22,709.89 L1108.70,709.77 L1110.18,709.65 L1111.66,709.54 L1113.14,709.43 L1114.62,709.32 L1116.10,709.22 L1117.58,709.11 L1119.06,709.01 L1120.54,708.92 L1122.02,708.82 L1123.50,708.73 L1124.98,708.64 L1126.46,708.56 L1127.94,708.47 L1129.42,708.39 L1130.90,708.31 L1132.37,708.23 L1133.85,708.16 L1135.32,708.09 L1136.80,708.02 L1138.27,707.95 L1139.74,707.88 L1141.21,707.82 L1142.68,707.75 L1144.15,707.69 L1145.62,707.63 L1147.08,707.57 L1148.55,707.52 L1150.01,707.46 L1151.47,707.41 L1152.93,707.36 L1154.39,707.31 L1155.85,707.26 L1157.31,707.21 L1158.76,707.16 L1160.21,707.12 L1161.66,707.07 L1163.11,707.03 L1164.56,706.99 L1166.00,706.95 L1167.44,706.91 L1168.88,706.87 L1170.32,706.83 L1171.76,706.79 L1173.19,706.75 L1174.62,706.72 L1176.05,706.68 L1177.47,706.64 L1178.90,706.61 L1180.32,706.57 L1181.74,706.54 L1183.15,706.50 L1184.56,706.47 L1185.97,706.43 L1187.38,706.40 L1188.78,706.36 L1190.19,706.33 L1191.58,706.30 L1192.98,706.26 L1194.37,706.23 L1195.76,706.19 L1197.14,706.16 L1198.52,706.12 L1199.90,706.08 L1201.28,706.05 L1202.65,706.01 L1204.02,705.97 L1205.38,705.93 L1206.74,705.89 L1208.10,705.85 L1209.45,705.81 L1210.80,705.77 L1212.14,705.73 L1213.48,705.68 L1214.82,705.64 L1216.15,705.59 L1217.48,705.54 L1218.81,705.49 L1220.13,705.44 L1221.44,705.39 L1222.75,705.34 L1224.06,705.28 L1225.36,705.23 L1226.66,705.17 L1227.95,705.11 L1229.24,705.05 L1230.52,704.99 L1231.80,704.92 L1233.08,704.86" fill="none" stroke="#0b4f24" stroke-width="3.8" stroke-linejoin="round" stroke-linecap="round"/>
<path d="M784.70,1097.00 L790.00,1098.00 L797.00,1098.00 L803.00,1101.00 L807.00,1110.00 L811.00,1125.00" fill="none" stroke="#a8ae28" stroke-width="2.6" stroke-linejoin="round" stroke-linecap="round"/>
<path d="M811.88,1144.62 L812.11,1143.21 L812.34,1141.81 L812.58,1140.41 L812.81,1139.01 L813.05,1137.61 L813.28,1136.21 L813.52,1134.80 L813.76,1133.41 L814.00,1132.01 L814.24,1130.61 L814.48,1129.21 L814.72,1127.81 L814.96,1126.41 L815.20,1125.01 L815.45,1123.62 L815.69,1122.22 L815.94,1120.82 L816.18,1119.43 L816.43,1118.03 L816.68,1116.64 L816.93,1115.24 L817.18,1113.85 L817.43,1112.45 L817.68,1111.06 L817.93,1109.66 L818.18,1108.27 L818.44,1106.87 L818.69,1105.48 L818.95,1104.09 L819.20,1102.69 L819.46,1101.30 L819.71,1099.91 L819.97,1098.52 L820.23,1097.12 L820.49,1095.73 L820.75,1094.34 L821.01,1092.95 L821.27,1091.56 L821.53,1090.16 L821.79,1088.77 L822.05,1087.38 L822.31,1085.99 L822.57,1084.60 L822.84,1083.21 L823.10,1081.82 L823.37,1080.43 L823.63,1079.04 L823.90,1077.64 L824.16,1076.25 L824.43,1074.86 L824.69,1073.47 L824.96,1072.08 L825.23,1070.69 L825.49,1069.30 L825.76,1067.91 L826.03,1066.52 L826.30,1065.13 L826.57,1063.74 L826.83,1062.34 L827.10,1060.95 L827.37,1059.56 L827.64,1058.17 L827.91,1056.78 L828.18,1055.39 L828.45,1054.00 L828.72,1052.61 L828.99,1051.21 L829.27,1049.82 L829.54,1048.43 L829.81,1047.04 L830.08,1045.64 L830.35,1044.25 L830.62,1042.86 L830.89,1041.47 L831.16,1040.07 L831.44,1038.68 L831.71,1037.29 L831.98,1035.89 L832.25,1034.50 L832.52,1033.10 L832.80,1031.71 L833.07,1030.31 L833.34,1028.92 L833.61,1027.52 L833.88,1026.13 L834.15,1024.73 L834.43,1023.34 L834.70,1021.94 L834.97,1020.54 L835.24,1019.15 L835.51,1017.75 L835.78,1016.35 L836.05,1014.95 L836.33,1013.55 L836.60,1012.15 L836.87,1010.75 L837.14,1009.35 L837.41,1007.95 L837.68,1006.55 L837.95,1005.15 L838.23,1003.75 L838.50,1002.35 L838.77,1000.95 L839.04,999.55 L839.32,998.15 L839.59,996.75 L839.87,995.35 L840.14,993.95 L840.42,992.55 L840.70,991.14 L840.98,989.74 L841.26,988.34 L841.54,986.94 L841.82,985.54 L842.10,984.14 L842.38,982.74 L842.67,981.34 L842.95,979.93 L843.24,978.53 L843.53,977.13 L843.82,975.73 L844.11,974.33 L844.40,972.93 L844.69,971.53 L844.99,970.13 L845.29,968.73 L845.58,967.33 L845.88,965.93 L846.19,964.54 L846.49,963.14 L846.80,961.74 L847.10,960.34 L847.41,958.94 L847.73,957.55 L848.04,956.15 L848.36,954.76 L848.67,953.36 L849.00,951.97 L849.32,950.57 L849.64,949.18 L849.97,947.78 L850.30,946.39 L850.63,945.00 L850.97,943.61 L851.31,942.22 L851.65,940.82 L851.99,939.43 L852.33,938.05 L852.68,936.66 L853.03,935.27 L853.39,933.88 L853.75,932.50 L854.11,931.11 L854.47,929.72 L854.84,928.34 L855.20,926.96 L855.58,925.58 L855.95,924.19 L856.33,922.81 L856.72,921.43 L857.10,920.05 L857.49,918.68 L857.88,917.30 L858.28,915.92 L858.68,914.55 L859.09,913.17 L859.49,911.80 L859.91,910.43 L860.32,909.06 L860.74,907.69 L861.16,906.32 L861.59,904.95 L862.02,903.58 L862.46,902.22 L862.90,900.85 L863.34,899.49 L863.79,898.13 L864.24,896.76 L864.70,895.40 L865.16,894.05 L865.62,892.69 L866.09,891.33 L866.57,889.98 L867.05,888.62 L867.53,887.27 L868.02,885.92 L868.51,884.57 L869.01,883.22 L869.52,881.88 L870.02,880.53 L870.54,879.19 L871.06,877.85 L871.58,876.51 L872.11,875.17 L872.64,873.83 L873.18,872.49 L873.72,871.16 L874.27,869.83 L874.82,868.50 L875.38,867.17 L875.95,865.84 L876.51,864.52 L877.09,863.19 L877.67,861.87 L878.25,860.56 L878.84,859.24 L879.43,857.93 L880.03,856.62 L880.64,855.31 L881.25,854.00 L881.86,852.70 L882.48,851.40 L883.11,850.11 L883.74,848.81 L884.38,847.52 L885.02,846.23 L885.66,844.95 L886.32,843.66 L886.97,842.38 L887.64,841.11 L888.30,839.84 L888.98,838.57 L889.65,837.30 L890.34,836.04 L891.03,834.78 L891.72,833.52 L892.42,832.27 L893.12,831.02 L893.83,829.78 L894.55,828.54 L895.27,827.30 L895.99,826.07 L896.73,824.84 L897.46,823.62 L898.20,822.40 L898.95,821.18 L899.70,819.97 L900.46,818.76 L901.23,817.56 L902.00,816.36 L902.77,815.17 L903.55,813.98 L904.34,812.79 L905.13,811.61 L905.92,810.44 L906.72,809.27 L907.53,808.10 L908.34,806.94 L909.16,805.79 L909.99,804.64 L910.82,803.49 L911.65,802.35 L912.49,801.22 L913.34,800.09 L914.19,798.97 L915.04,797.85 L915.91,796.74 L916.78,795.63 L917.65,794.53 L918.53,793.43 L919.41,792.34 L920.30,791.26 L921.20,790.18 L922.10,789.11 L923.01,788.04 L923.92,786.98 L924.84,785.93 L925.76,784.88 L926.69,783.84 L927.63,782.81 L928.57,781.78 L929.52,780.76 L930.47,779.74 L931.43,778.73 L932.39,777.73 L933.36,776.74 L934.34,775.75 L935.32,774.77 L936.31,773.79 L937.30,772.83 L938.30,771.86 L939.30,770.91 L940.31,769.97 L941.33,769.03 L942.35,768.10 L943.37,767.17 L944.41,766.25 L945.45,765.35 L946.49,764.44 L947.54,763.55 L948.60,762.66 L949.66,761.78 L950.73,760.91 L951.80,760.05 L952.88,759.20 L953.97,758.35 L955.06,757.51 L956.16,756.68 L957.26,755.86 L958.37,755.04 L959.49,754.24 L960.61,753.44 L961.73,752.65 L962.87,751.87 L964.01,751.10 L965.15,750.33 L966.30,749.58 L967.46,748.83 L968.62,748.10 L969.79,747.37 L970.97,746.65 L972.15,745.94 L973.33,745.24 L974.52,744.54 L975.72,743.86 L976.93,743.18 L978.14,742.52 L979.35,741.86 L980.57,741.21 L981.80,740.57 L983.03,739.93 L984.27,739.31 L985.51,738.69 L986.75,738.08 L988.01,737.48 L989.26,736.89 L990.53,736.30 L991.79,735.73 L993.07,735.16 L994.34,734.60 L995.63,734.04 L996.91,733.50 L998.20,732.96 L999.50,732.43 L1000.80,731.90 L1002.11,731.39 L1003.42,730.88 L1004.73,730.38 L1006.05,729.89 L1007.37,729.40 L1008.70,728.92 L1010.03,728.45 L1011.37,727.98 L1012.71,727.53 L1014.05,727.07 L1015.40,726.63 L1016.75,726.19 L1018.10,725.76 L1019.46,725.34 L1020.82,724.92 L1022.19,724.51 L1023.56,724.11 L1024.93,723.71 L1026.31,723.32 L1027.69,722.93 L1029.07,722.55 L1030.46,722.18 L1031.85,721.81 L1033.25,721.45 L1034.64,721.10 L1036.04,720.75 L1037.44,720.41 L1038.85,720.07 L1040.26,719.74 L1041.67,719.42 L1043.09,719.10 L1044.50,718.79 L1045.92,718.48 L1047.34,718.18 L1048.77,717.88 L1050.20,717.59 L1051.63,717.31 L1053.06,717.03 L1054.49,716.75 L1055.93,716.48 L1057.37,716.22 L1058.81,715.96 L1060.25,715.70 L1061.70,715.45 L1063.15,715.21 L1064.60,714.97 L1066.05,714.74 L1067.50,714.51 L1068.96,714.28 L1070.41,714.06 L1071.87,713.84 L1073.33,713.63 L1074.79,713.43 L1076.26,713.22 L1077.72,713.02 L1079.19,712.83 L1080.65,712.64 L1082.12,712.46 L1083.59,712.27 L1085.06,712.10 L1086.53,711.92 L1088.01,711.75 L1089.48,711.59 L1090.95,711.43 L1092.43,711.27 L1093.90,711.12 L1095.38,710.97 L1096.86,710.82 L1098.34,710.68 L1099.82,710.54 L1101.30,710.40 L1102.77,710.27 L1104.25,710.14 L1105.74,710.01 L1107.22,709.89 L1108.70,709.77 L1110.18,709.65 L1111.66,709.54 L1113.14,709.43 L1114.62,709.32 L1116.10,709.22 L1117.58,709.11 L1119.06,709.01 L1120.54,708.92 L1122.02,708.82 L1123.50,708.73 L1124.98,708.64 L1126.46,708.56 L1127.94,708.47 L1129.42,708.39 L1130.90,708.31 L1132.37,708.23 L1133.85,708.16 L1135.32,708.09 L1136.80,708.02 L1138.27,707.95 L1139.74,707.88 L1141.21,707.82 L1142.68,707.75 L1144.15,707.69 L1145.62,707.63 L1147.08,707.57 L1148.55,707.52 L1150.01,707.46 L1151.47,707.41 L1152.93,707.36 L1154.39,707.31 L1155.85,707.26 L1157.31,707.21 L1158.76,707.16 L1160.21,707.12 L1161.66,707.07 L1163.11,707.03 L1164.56,706.99 L1166.00,706.95 L1167.44,706.91 L1168.88,706.87 L1170.32,706.83 L1171.76,706.79 L1173.19,706.75 L1174.62,706.72 L1176.05,706.68 L1177.47,706.64 L1178.90,706.61 L1180.32,706.57 L1181.74,706.54 L1183.15,706.50 L1184.56,706.47 L1185.97,706.43 L1187.38,706.40 L1188.78,706.36 L1190.19,706.33 L1191.58,706.30 L1192.98,706.26 L1194.37,706.23 L1195.76,706.19 L1197.14,706.16 L1198.52,706.12 L1199.90,706.08 L1201.28,706.05 L1202.65,706.01 L1204.02,705.97 L1205.38,705.93 L1206.74,705.89 L1208.10,705.85 L1209.45,705.81 L1210.80,705.77 L1212.14,705.73 L1213.48,705.68 L1214.82,705.64 L1216.15,705.59 L1217.48,705.54 L1218.81,705.49 L1220.13,705.44 L1221.44,705.39 L1222.75,705.34 L1224.06,705.28 L1225.36,705.23 L1226.66,705.17 L1227.95,705.11 L1229.24,705.05 L1230.52,704.99 L1231.80,704.92 L1233.08,704.86" fill="none" stroke="#a8ae28" stroke-width="3.8" stroke-linejoin="round" stroke-linecap="round"/>
<path d="M784.70,1102.00 L789.00,1104.00 L795.00,1103.00 L800.00,1106.00 L805.00,1108.00 L809.00,1125.00" fill="none" stroke="#efbf30" stroke-width="2.6" stroke-linejoin="round" stroke-linecap="round"/>
<path d="M811.88,1144.62 L812.11,1143.21 L812.34,1141.81 L812.58,1140.41 L812.81,1139.01 L813.05,1137.61 L813.28,1136.21 L813.52,1134.80 L813.76,1133.41 L814.00,1132.01 L814.24,1130.61 L814.48,1129.21 L814.72,1127.81 L814.96,1126.41 L815.20,1125.01 L815.45,1123.62 L815.69,1122.22 L815.94,1120.82 L816.18,1119.43 L816.43,1118.03 L816.68,1116.64 L816.93,1115.24 L817.18,1113.85 L817.43,1112.45 L817.68,1111.06 L817.93,1109.66 L818.18,1108.27 L818.44,1106.87 L818.69,1105.48 L818.95,1104.09 L819.20,1102.69 L819.46,1101.30 L819.71,1099.91 L819.97,1098.52 L820.23,1097.12 L820.49,1095.73 L820.75,1094.34 L821.01,1092.95 L821.27,1091.56 L821.53,1090.16 L821.79,1088.77 L822.05,1087.38 L822.31,1085.99 L822.57,1084.60 L822.84,1083.21 L823.10,1081.82 L823.37,1080.43 L823.63,1079.04 L823.90,1077.64 L824.16,1076.25 L824.43,1074.86 L824.69,1073.47 L824.96,1072.08 L825.23,1070.69 L825.49,1069.30 L825.76,1067.91 L826.03,1066.52 L826.30,1065.13 L826.57,1063.74 L826.83,1062.34 L827.10,1060.95 L827.37,1059.56 L827.64,1058.17 L827.91,1056.78 L828.18,1055.39 L828.45,1054.00 L828.72,1052.61 L828.99,1051.21 L829.27,1049.82 L829.54,1048.43 L829.81,1047.04 L830.08,1045.64 L830.35,1044.25 L830.62,1042.86 L830.89,1041.47 L831.16,1040.07 L831.44,1038.68 L831.71,1037.29 L831.98,1035.89 L832.25,1034.50 L832.52,1033.10 L832.80,1031.71 L833.07,1030.31 L833.34,1028.92 L833.61,1027.52 L833.88,1026.13 L834.15,1024.73 L834.43,1023.34 L834.70,1021.94 L834.97,1020.54 L835.24,1019.15 L835.51,1017.75 L835.78,1016.35 L836.05,1014.95 L836.33,1013.55 L836.60,1012.15 L836.87,1010.75 L837.14,1009.35 L837.41,1007.95 L837.68,1006.55 L837.95,1005.15 L838.23,1003.75 L838.50,1002.35 L838.77,1000.95 L839.04,999.55 L839.32,998.15 L839.59,996.75 L839.87,995.35 L840.14,993.95 L840.42,992.55 L840.70,991.14 L840.98,989.74 L841.26,988.34 L841.54,986.94 L841.82,985.54 L842.10,984.14 L842.38,982.74 L842.67,981.34 L842.95,979.93 L843.24,978.53 L843.53,977.13 L843.82,975.73 L844.11,974.33 L844.40,972.93 L844.69,971.53 L844.99,970.13 L845.29,968.73 L845.58,967.33 L845.88,965.93 L846.19,964.54 L846.49,963.14 L846.80,961.74 L847.10,960.34 L847.41,958.94 L847.73,957.55 L848.04,956.15 L848.36,954.76 L848.67,953.36 L849.00,951.97 L849.32,950.57 L849.64,949.18 L849.97,947.78 L850.30,946.39 L850.63,945.00 L850.97,943.61 L851.31,942.22 L851.65,940.82 L851.99,939.43 L852.33,938.05 L852.68,936.66 L853.03,935.27 L853.39,933.88 L853.75,932.50 L854.11,931.11 L854.47,929.72 L854.84,928.34 L855.20,926.96 L855.58,925.58 L855.95,924.19 L856.33,922.81 L856.72,921.43 L857.10,920.05 L857.49,918.68 L857.88,917.30 L858.28,915.92 L858.68,914.55 L859.09,913.17 L859.49,911.80 L859.91,910.43 L860.32,909.06 L860.74,907.69 L861.16,906.32 L861.59,904.95 L862.02,903.58 L862.46,902.22 L862.90,900.85 L863.34,899.49 L863.79,898.13 L864.24,896.76 L864.70,895.40 L865.16,894.05 L865.62,892.69 L866.09,891.33 L866.57,889.98 L867.05,888.62 L867.53,887.27 L868.02,885.92 L868.51,884.57 L869.01,883.22 L869.52,881.88 L870.02,880.53 L870.54,879.19 L871.06,877.85 L871.58,876.51 L872.11,875.17 L872.64,873.83 L873.18,872.49 L873.72,871.16 L874.27,869.83 L874.82,868.50 L875.38,867.17 L875.95,865.84 L876.51,864.52 L877.09,863.19 L877.67,861.87 L878.25,860.56 L878.84,859.24 L879.43,857.93 L880.03,856.62 L880.64,855.31 L881.25,854.00 L881.86,852.70 L882.48,851.40 L883.11,850.11 L883.74,848.81 L884.38,847.52 L885.02,846.23 L885.66,844.95 L886.32,843.66 L886.97,842.38 L887.64,841.11 L888.30,839.84 L888.98,838.57 L889.65,837.30 L890.34,836.04 L891.03,834.78 L891.72,833.52 L892.42,832.27 L893.12,831.02 L893.83,829.78 L894.55,828.54 L895.27,827.30 L895.99,826.07 L896.73,824.84 L897.46,823.62 L898.20,822.40 L898.95,821.18 L899.70,819.97 L900.46,818.76 L901.23,817.56 L902.00,816.36 L902.77,815.17 L903.55,813.98 L904.34,812.79 L905.13,811.61 L905.92,810.44 L906.72,809.27 L907.53,808.10 L908.34,806.94 L909.16,805.79 L909.99,804.64 L910.82,803.49 L911.65,802.35 L912.49,801.22 L913.34,800.09 L914.19,798.97 L915.04,797.85 L915.91,796.74 L916.78,795.63 L917.65,794.53 L918.53,793.43 L919.41,792.34 L920.30,791.26 L921.20,790.18 L922.10,789.11 L923.01,788.04 L923.92,786.98 L924.84,785.93 L925.76,784.88 L926.69,783.84 L927.63,782.81 L928.57,781.78 L929.52,780.76 L930.47,779.74 L931.43,778.73 L932.39,777.73 L933.36,776.74 L934.34,775.75 L935.32,774.77 L936.31,773.79 L937.30,772.83 L938.30,771.86 L939.30,770.91 L940.31,769.97 L941.33,769.03 L942.35,768.10 L943.37,767.17 L944.41,766.25 L945.45,765.35 L946.49,764.44 L947.54,763.55 L948.60,762.66 L949.66,761.78 L950.73,760.91 L951.80,760.05 L952.88,759.20 L953.97,758.35 L955.06,757.51 L956.16,756.68 L957.26,755.86 L958.37,755.04 L959.49,754.24 L960.61,753.44 L961.73,752.65 L962.87,751.87 L964.01,751.10 L965.15,750.33 L966.30,749.58 L967.46,748.83 L968.62,748.10 L969.79,747.37 L970.97,746.65 L972.15,745.94 L973.33,745.24 L974.52,744.54 L975.72,743.86 L976.93,743.18 L978.14,742.52 L979.35,741.86 L980.57,741.21 L981.80,740.57 L983.03,739.93 L984.27,739.31 L985.51,738.69 L986.75,738.08 L988.01,737.48 L989.26,736.89 L990.53,736.30 L991.79,735.73 L993.07,735.16 L994.34,734.60 L995.63,734.04 L996.91,733.50 L998.20,732.96 L999.50,732.43 L1000.80,731.90 L1002.11,731.39 L1003.42,730.88 L1004.73,730.38 L1006.05,729.89 L1007.37,729.40 L1008.70,728.92 L1010.03,728.45 L1011.37,727.98 L1012.71,727.53 L1014.05,727.07 L1015.40,726.63 L1016.75,726.19 L1018.10,725.76 L1019.46,725.34 L1020.82,724.92 L1022.19,724.51 L1023.56,724.11 L1024.93,723.71 L1026.31,723.32 L1027.69,722.93 L1029.07,722.55 L1030.46,722.18 L1031.85,721.81 L1033.25,721.45 L1034.64,721.10 L1036.04,720.75 L1037.44,720.41 L1038.85,720.07 L1040.26,719.74 L1041.67,719.42 L1043.09,719.10 L1044.50,718.79 L1045.92,718.48 L1047.34,718.18 L1048.77,717.88 L1050.20,717.59 L1051.63,717.31 L1053.06,717.03 L1054.49,716.75 L1055.93,716.48 L1057.37,716.22 L1058.81,715.96 L1060.25,715.70 L1061.70,715.45 L1063.15,715.21 L1064.60,714.97 L1066.05,714.74 L1067.50,714.51 L1068.96,714.28 L1070.41,714.06 L1071.87,713.84 L1073.33,713.63 L1074.79,713.43 L1076.26,713.22 L1077.72,713.02 L1079.19,712.83 L1080.65,712.64 L1082.12,712.46 L1083.59,712.27 L1085.06,712.10 L1086.53,711.92 L1088.01,711.75 L1089.48,711.59 L1090.95,711.43 L1092.43,711.27 L1093.90,711.12 L1095.38,710.97 L1096.86,710.82 L1098.34,710.68 L1099.82,710.54 L1101.30,710.40 L1102.77,710.27 L1104.25,710.14 L1105.74,710.01 L1107.22,709.89 L1108.70,709.77 L1110.18,709.65 L1111.66,709.54 L1113.14,709.43 L1114.62,709.32 L1116.10,709.22 L1117.58,709.11 L1119.06,709.01 L1120.54,708.92 L1122.02,708.82 L1123.50,708.73 L1124.98,708.64 L1126.46,708.56 L1127.94,708.47 L1129.42,708.39 L1130.90,708.31 L1132.37,708.23 L1133.85,708.16 L1135.32,708.09 L1136.80,708.02 L1138.27,707.95 L1139.74,707.88 L1141.21,707.82 L1142.68,707.75 L1144.15,707.69 L1145.62,707.63 L1147.08,707.57 L1148.55,707.52 L1150.01,707.46 L1151.47,707.41 L1152.93,707.36 L1154.39,707.31 L1155.85,707.26 L1157.31,707.21 L1158.76,707.16 L1160.21,707.12 L1161.66,707.07 L1163.11,707.03 L1164.56,706.99 L1166.00,706.95 L1167.44,706.91 L1168.88,706.87 L1170.32,706.83 L1171.76,706.79 L1173.19,706.75 L1174.62,706.72 L1176.05,706.68 L1177.47,706.64 L1178.90,706.61 L1180.32,706.57 L1181.74,706.54 L1183.15,706.50 L1184.56,706.47 L1185.97,706.43 L1187.38,706.40 L1188.78,706.36 L1190.19,706.33 L1191.58,706.30 L1192.98,706.26 L1194.37,706.23 L1195.76,706.19 L1197.14,706.16 L1198.52,706.12 L1199.90,706.08 L1201.28,706.05 L1202.65,706.01 L1204.02,705.97 L1205.38,705.93 L1206.74,705.89 L1208.10,705.85 L1209.45,705.81 L1210.80,705.77 L1212.14,705.73 L1213.48,705.68 L1214.82,705.64 L1216.15,705.59 L1217.48,705.54 L1218.81,705.49 L1220.13,705.44 L1221.44,705.39 L1222.75,705.34 L1224.06,705.28 L1225.36,705.23 L1226.66,705.17 L1227.95,705.11 L1229.24,705.05 L1230.52,704.99 L1231.80,704.92 L1233.08,704.86" fill="none" stroke="#efbf30" stroke-width="3.8" stroke-linejoin="round" stroke-linecap="round"/>
<path d="M784.70,1106.00 L789.00,1102.00 L794.00,1108.00 L799.00,1111.00 L804.00,1106.00 L808.00,1118.00 L812.00,1140.00" fill="none" stroke="#f26a22" stroke-width="2.6" stroke-linejoin="round" stroke-linecap="round"/>
<path d="M811.88,1144.62 L812.11,1143.21 L812.34,1141.81 L812.58,1140.41 L812.81,1139.01 L813.05,1137.61 L813.28,1136.21 L813.52,1134.80 L813.76,1133.41 L814.00,1132.01 L814.24,1130.61 L814.48,1129.21 L814.72,1127.81 L814.96,1126.41 L815.20,1125.01 L815.45,1123.62 L815.69,1122.22 L815.94,1120.82 L816.18,1119.43 L816.43,1118.03 L816.68,1116.64 L816.93,1115.24 L817.18,1113.85 L817.43,1112.45 L817.68,1111.06 L817.93,1109.66 L818.18,1108.27 L818.44,1106.87 L818.69,1105.48 L818.95,1104.09 L819.20,1102.69 L819.46,1101.30 L819.71,1099.91 L819.97,1098.52 L820.23,1097.12 L820.49,1095.73 L820.75,1094.34 L821.01,1092.95 L821.27,1091.56 L821.53,1090.16 L821.79,1088.77 L822.05,1087.38 L822.31,1085.99 L822.57,1084.60 L822.84,1083.21 L823.10,1081.82 L823.37,1080.43 L823.63,1079.04 L823.90,1077.64 L824.16,1076.25 L824.43,1074.86 L824.69,1073.47 L824.96,1072.08 L825.23,1070.69 L825.49,1069.30 L825.76,1067.91 L826.03,1066.52 L826.30,1065.13 L826.57,1063.74 L826.83,1062.34 L827.10,1060.95 L827.37,1059.56 L827.64,1058.17 L827.91,1056.78 L828.18,1055.39 L828.45,1054.00 L828.72,1052.61 L828.99,1051.21 L829.27,1049.82 L829.54,1048.43 L829.81,1047.04 L830.08,1045.64 L830.35,1044.25 L830.62,1042.86 L830.89,1041.47 L831.16,1040.07 L831.44,1038.68 L831.71,1037.29 L831.98,1035.89 L832.25,1034.50 L832.52,1033.10 L832.80,1031.71 L833.07,1030.31 L833.34,1028.92 L833.61,1027.52 L833.88,1026.13 L834.15,1024.73 L834.43,1023.34 L834.70,1021.94 L834.97,1020.54 L835.24,1019.15 L835.51,1017.75 L835.78,1016.35 L836.05,1014.95 L836.33,1013.55 L836.60,1012.15 L836.87,1010.75 L837.14,1009.35 L837.41,1007.95 L837.68,1006.55 L837.95,1005.15 L838.23,1003.75 L838.50,1002.35 L838.77,1000.95 L839.04,999.55 L839.32,998.15 L839.59,996.75 L839.87,995.35 L840.14,993.95 L840.42,992.55 L840.70,991.14 L840.98,989.74 L841.26,988.34 L841.54,986.94 L841.82,985.54 L842.10,984.14 L842.38,982.74 L842.67,981.34 L842.95,979.93 L843.24,978.53 L843.53,977.13 L843.82,975.73 L844.11,974.33 L844.40,972.93 L844.69,971.53 L844.99,970.13 L845.29,968.73 L845.58,967.33 L845.88,965.93 L846.19,964.54 L846.49,963.14 L846.80,961.74 L847.10,960.34 L847.41,958.94 L847.73,957.55 L848.04,956.15 L848.36,954.76 L848.67,953.36 L849.00,951.97 L849.32,950.57 L849.64,949.18 L849.97,947.78 L850.30,946.39 L850.63,945.00 L850.97,943.61 L851.31,942.22 L851.65,940.82 L851.99,939.43 L852.33,938.05 L852.68,936.66 L853.03,935.27 L853.39,933.88 L853.75,932.50 L854.11,931.11 L854.47,929.72 L854.84,928.34 L855.20,926.96 L855.58,925.58 L855.95,924.19 L856.33,922.81 L856.72,921.43 L857.10,920.05 L857.49,918.68 L857.88,917.30 L858.28,915.92 L858.68,914.55 L859.09,913.17 L859.49,911.80 L859.91,910.43 L860.32,909.06 L860.74,907.69 L861.16,906.32 L861.59,904.95 L862.02,903.58 L862.46,902.22 L862.90,900.85 L863.34,899.49 L863.79,898.13 L864.24,896.76 L864.70,895.40 L865.16,894.05 L865.62,892.69 L866.09,891.33 L866.57,889.98 L867.05,888.62 L867.53,887.27 L868.02,885.92 L868.51,884.57 L869.01,883.22 L869.52,881.88 L870.02,880.53 L870.54,879.19 L871.06,877.85 L871.58,876.51 L872.11,875.17 L872.64,873.83 L873.18,872.49 L873.72,871.16 L874.27,869.83 L874.82,868.50 L875.38,867.17 L875.95,865.84 L876.51,864.52 L877.09,863.19 L877.67,861.87 L878.25,860.56 L878.84,859.24 L879.43,857.93 L880.03,856.62 L880.64,855.31 L881.25,854.00 L881.86,852.70 L882.48,851.40 L883.11,850.11 L883.74,848.81 L884.38,847.52 L885.02,846.23 L885.66,844.95 L886.32,843.66 L886.97,842.38 L887.64,841.11 L888.30,839.84 L888.98,838.57 L889.65,837.30 L890.34,836.04 L891.03,834.78 L891.72,833.52 L892.42,832.27 L893.12,831.02 L893.83,829.78 L894.55,828.54 L895.27,827.30 L895.99,826.07 L896.73,824.84 L897.46,823.62 L898.20,822.40 L898.95,821.18 L899.70,819.97 L900.46,818.76 L901.23,817.56 L902.00,816.36 L902.77,815.17 L903.55,813.98 L904.34,812.79 L905.13,811.61 L905.92,810.44 L906.72,809.27 L907.53,808.10 L908.34,806.94 L909.16,805.79 L909.99,804.64 L910.82,803.49 L911.65,802.35 L912.49,801.22 L913.34,800.09 L914.19,798.97 L915.04,797.85 L915.91,796.74 L916.78,795.63 L917.65,794.53 L918.53,793.43 L919.41,792.34 L920.30,791.26 L921.20,790.18 L922.10,789.11 L923.01,788.04 L923.92,786.98 L924.84,785.93 L925.76,784.88 L926.69,783.84 L927.63,782.81 L928.57,781.78 L929.52,780.76 L930.47,779.74 L931.43,778.73 L932.39,777.73 L933.36,776.74 L934.34,775.75 L935.32,774.77 L936.31,773.79 L937.30,772.83 L938.30,771.86 L939.30,770.91 L940.31,769.97 L941.33,769.03 L942.35,768.10 L943.37,767.17 L944.41,766.25 L945.45,765.35 L946.49,764.44 L947.54,763.55 L948.60,762.66 L949.66,761.78 L950.73,760.91 L951.80,760.05 L952.88,759.20 L953.97,758.35 L955.06,757.51 L956.16,756.68 L957.26,755.86 L958.37,755.04 L959.49,754.24 L960.61,753.44 L961.73,752.65 L962.87,751.87 L964.01,751.10 L965.15,750.33 L966.30,749.58 L967.46,748.83 L968.62,748.10 L969.79,747.37 L970.97,746.65 L972.15,745.94 L973.33,745.24 L974.52,744.54 L975.72,743.86 L976.93,743.18 L978.14,742.52 L979.35,741.86 L980.57,741.21 L981.80,740.57 L983.03,739.93 L984.27,739.31 L985.51,738.69 L986.75,738.08 L988.01,737.48 L989.26,736.89 L990.53,736.30 L991.79,735.73 L993.07,735.16 L994.34,734.60 L995.63,734.04 L996.91,733.50 L998.20,732.96 L999.50,732.43 L1000.80,731.90 L1002.11,731.39 L1003.42,730.88 L1004.73,730.38 L1006.05,729.89 L1007.37,729.40 L1008.70,728.92 L1010.03,728.45 L1011.37,727.98 L1012.71,727.53 L1014.05,727.07 L1015.40,726.63 L1016.75,726.19 L1018.10,725.76 L1019.46,725.34 L1020.82,724.92 L1022.19,724.51 L1023.56,724.11 L1024.93,723.71 L1026.31,723.32 L1027.69,722.93 L1029.07,722.55 L1030.46,722.18 L1031.85,721.81 L1033.25,721.45 L1034.64,721.10 L1036.04,720.75 L1037.44,720.41 L1038.85,720.07 L1040.26,719.74 L1041.67,719.42 L1043.09,719.10 L1044.50,718.79 L1045.92,718.48 L1047.34,718.18 L1048.77,717.88 L1050.20,717.59 L1051.63,717.31 L1053.06,717.03 L1054.49,716.75 L1055.93,716.48 L1057.37,716.22 L1058.81,715.96 L1060.25,715.70 L1061.70,715.45 L1063.15,715.21 L1064.60,714.97 L1066.05,714.74 L1067.50,714.51 L1068.96,714.28 L1070.41,714.06 L1071.87,713.84 L1073.33,713.63 L1074.79,713.43 L1076.26,713.22 L1077.72,713.02 L1079.19,712.83 L1080.65,712.64 L1082.12,712.46 L1083.59,712.27 L1085.06,712.10 L1086.53,711.92 L1088.01,711.75 L1089.48,711.59 L1090.95,711.43 L1092.43,711.27 L1093.90,711.12 L1095.38,710.97 L1096.86,710.82 L1098.34,710.68 L1099.82,710.54 L1101.30,710.40 L1102.77,710.27 L1104.25,710.14 L1105.74,710.01 L1107.22,709.89 L1108.70,709.77 L1110.18,709.65 L1111.66,709.54 L1113.14,709.43 L1114.62,709.32 L1116.10,709.22 L1117.58,709.11 L1119.06,709.01 L1120.54,708.92 L1122.02,708.82 L1123.50,708.73 L1124.98,708.64 L1126.46,708.56 L1127.94,708.47 L1129.42,708.39 L1130.90,708.31 L1132.37,708.23 L1133.85,708.16 L1135.32,708.09 L1136.80,708.02 L1138.27,707.95 L1139.74,707.88 L1141.21,707.82 L1142.68,707.75 L1144.15,707.69 L1145.62,707.63 L1147.08,707.57 L1148.55,707.52 L1150.01,707.46 L1151.47,707.41 L1152.93,707.36 L1154.39,707.31 L1155.85,707.26 L1157.31,707.21 L1158.76,707.16 L1160.21,707.12 L1161.66,707.07 L1163.11,707.03 L1164.56,706.99 L1166.00,706.95 L1167.44,706.91 L1168.88,706.87 L1170.32,706.83 L1171.76,706.79 L1173.19,706.75 L1174.62,706.72 L1176.05,706.68 L1177.47,706.64 L1178.90,706.61 L1180.32,706.57 L1181.74,706.54 L1183.15,706.50 L1184.56,706.47 L1185.97,706.43 L1187.38,706.40 L1188.78,706.36 L1190.19,706.33 L1191.58,706.30 L1192.98,706.26 L1194.37,706.23 L1195.76,706.19 L1197.14,706.16 L1198.52,706.12 L1199.90,706.08 L1201.28,706.05 L1202.65,706.01 L1204.02,705.97 L1205.38,705.93 L1206.74,705.89 L1208.10,705.85 L1209.45,705.81 L1210.80,705.77 L1212.14,705.73 L1213.48,705.68 L1214.82,705.64 L1216.15,705.59 L1217.48,705.54 L1218.81,705.49 L1220.13,705.44 L1221.44,705.39 L1222.75,705.34 L1224.06,705.28 L1225.36,705.23 L1226.66,705.17 L1227.95,705.11 L1229.24,705.05 L1230.52,704.99 L1231.80,704.92 L1233.08,704.86" fill="none" stroke="#f26a22" stroke-width="3.8" stroke-linejoin="round" stroke-linecap="round"/>
<path d="M784.70,1101.00 L788.20,1100.70 L792.40,1105.00 L796.00,1103.00 L800.60,1099.70 L805.70,1102.80 L809.00,1115.00 L812.90,1152.20" fill="none" stroke="#ff0022" stroke-width="2.6" stroke-linejoin="round" stroke-linecap="round"/>
<path d="M811.88,1144.62 L812.11,1143.21 L812.34,1141.81 L812.58,1140.41 L812.81,1139.01 L813.05,1137.61 L813.28,1136.21 L813.52,1134.80 L813.76,1133.41 L814.00,1132.01 L814.24,1130.61 L814.48,1129.21 L814.72,1127.81 L814.96,1126.41 L815.20,1125.01 L815.45,1123.62 L815.69,1122.22 L815.94,1120.82 L816.18,1119.43 L816.43,1118.03 L816.68,1116.64 L816.93,1115.24 L817.18,1113.85 L817.43,1112.45 L817.68,1111.06 L817.93,1109.66 L818.18,1108.27 L818.44,1106.87 L818.69,1105.48 L818.95,1104.09 L819.20,1102.69 L819.46,1101.30 L819.71,1099.91 L819.97,1098.52 L820.23,1097.12 L820.49,1095.73 L820.75,1094.34 L821.01,1092.95 L821.27,1091.56 L821.53,1090.16 L821.79,1088.77 L822.05,1087.38 L822.31,1085.99 L822.57,1084.60 L822.84,1083.21 L823.10,1081.82 L823.37,1080.43 L823.63,1079.04 L823.90,1077.64 L824.16,1076.25 L824.43,1074.86 L824.69,1073.47 L824.96,1072.08 L825.23,1070.69 L825.49,1069.30 L825.76,1067.91 L826.03,1066.52 L826.30,1065.13 L826.57,1063.74 L826.83,1062.34 L827.10,1060.95 L827.37,1059.56 L827.64,1058.17 L827.91,1056.78 L828.18,1055.39 L828.45,1054.00 L828.72,1052.61 L828.99,1051.21 L829.27,1049.82 L829.54,1048.43 L829.81,1047.04 L830.08,1045.64 L830.35,1044.25 L830.62,1042.86 L830.89,1041.47 L831.16,1040.07 L831.44,1038.68 L831.71,1037.29 L831.98,1035.89 L832.25,1034.50 L832.52,1033.10 L832.80,1031.71 L833.07,1030.31 L833.34,1028.92 L833.61,1027.52 L833.88,1026.13 L834.15,1024.73 L834.43,1023.34 L834.70,1021.94 L834.97,1020.54 L835.24,1019.15 L835.51,1017.75 L835.78,1016.35 L836.05,1014.95 L836.33,1013.55 L836.60,1012.15 L836.87,1010.75 L837.14,1009.35 L837.41,1007.95 L837.68,1006.55 L837.95,1005.15 L838.23,1003.75 L838.50,1002.35 L838.77,1000.95 L839.04,999.55 L839.32,998.15 L839.59,996.75 L839.87,995.35 L840.14,993.95 L840.42,992.55 L840.70,991.14 L840.98,989.74 L841.26,988.34 L841.54,986.94 L841.82,985.54 L842.10,984.14 L842.38,982.74 L842.67,981.34 L842.95,979.93 L843.24,978.53 L843.53,977.13 L843.82,975.73 L844.11,974.33 L844.40,972.93 L844.69,971.53 L844.99,970.13 L845.29,968.73 L845.58,967.33 L845.88,965.93 L846.19,964.54 L846.49,963.14 L846.80,961.74 L847.10,960.34 L847.41,958.94 L847.73,957.55 L848.04,956.15 L848.36,954.76 L848.67,953.36 L849.00,951.97 L849.32,950.57 L849.64,949.18 L849.97,947.78 L850.30,946.39 L850.63,945.00 L850.97,943.61 L851.31,942.22 L851.65,940.82 L851.99,939.43 L852.33,938.05 L852.68,936.66 L853.03,935.27 L853.39,933.88 L853.75,932.50 L854.11,931.11 L854.47,929.72 L854.84,928.34 L855.20,926.96 L855.58,925.58 L855.95,924.19 L856.33,922.81 L856.72,921.43 L857.10,920.05 L857.49,918.68 L857.88,917.30 L858.28,915.92 L858.68,914.55 L859.09,913.17 L859.49,911.80 L859.91,910.43 L860.32,909.06 L860.74,907.69 L861.16,906.32 L861.59,904.95 L862.02,903.58 L862.46,902.22 L862.90,900.85 L863.34,899.49 L863.79,898.13 L864.24,896.76 L864.70,895.40 L865.16,894.05 L865.62,892.69 L866.09,891.33 L866.57,889.98 L867.05,888.62 L867.53,887.27 L868.02,885.92 L868.51,884.57 L869.01,883.22 L869.52,881.88 L870.02,880.53 L870.54,879.19 L871.06,877.85 L871.58,876.51 L872.11,875.17 L872.64,873.83 L873.18,872.49 L873.72,871.16 L874.27,869.83 L874.82,868.50 L875.38,867.17 L875.95,865.84 L876.51,864.52 L877.09,863.19 L877.67,861.87 L878.25,860.56 L878.84,859.24 L879.43,857.93 L880.03,856.62 L880.64,855.31 L881.25,854.00 L881.86,852.70 L882.48,851.40 L883.11,850.11 L883.74,848.81 L884.38,847.52 L885.02,846.23 L885.66,844.95 L886.32,843.66 L886.97,842.38 L887.64,841.11 L888.30,839.84 L888.98,838.57 L889.65,837.30 L890.34,836.04 L891.03,834.78 L891.72,833.52 L892.42,832.27 L893.12,831.02 L893.83,829.78 L894.55,828.54 L895.27,827.30 L895.99,826.07 L896.73,824.84 L897.46,823.62 L898.20,822.40 L898.95,821.18 L899.70,819.97 L900.46,818.76 L901.23,817.56 L902.00,816.36 L902.77,815.17 L903.55,813.98 L904.34,812.79 L905.13,811.61 L905.92,810.44 L906.72,809.27 L907.53,808.10 L908.34,806.94 L909.16,805.79 L909.99,804.64 L910.82,803.49 L911.65,802.35 L912.49,801.22 L913.34,800.09 L914.19,798.97 L915.04,797.85 L915.91,796.74 L916.78,795.63 L917.65,794.53 L918.53,793.43 L919.41,792.34 L920.30,791.26 L921.20,790.18 L922.10,789.11 L923.01,788.04 L923.92,786.98 L924.84,785.93 L925.76,784.88 L926.69,783.84 L927.63,782.81 L928.57,781.78 L929.52,780.76 L930.47,779.74 L931.43,778.73 L932.39,777.73 L933.36,776.74 L934.34,775.75 L935.32,774.77 L936.31,773.79 L937.30,772.83 L938.30,771.86 L939.30,770.91 L940.31,769.97 L941.33,769.03 L942.35,768.10 L943.37,767.17 L944.41,766.25 L945.45,765.35 L946.49,764.44 L947.54,763.55 L948.60,762.66 L949.66,761.78 L950.73,760.91 L951.80,760.05 L952.88,759.20 L953.97,758.35 L955.06,757.51 L956.16,756.68 L957.26,755.86 L958.37,755.04 L959.49,754.24 L960.61,753.44 L961.73,752.65 L962.87,751.87 L964.01,751.10 L965.15,750.33 L966.30,749.58 L967.46,748.83 L968.62,748.10 L969.79,747.37 L970.97,746.65 L972.15,745.94 L973.33,745.24 L974.52,744.54 L975.72,743.86 L976.93,743.18 L978.14,742.52 L979.35,741.86 L980.57,741.21 L981.80,740.57 L983.03,739.93 L984.27,739.31 L985.51,738.69 L986.75,738.08 L988.01,737.48 L989.26,736.89 L990.53,736.30 L991.79,735.73 L993.07,735.16 L994.34,734.60 L995.63,734.04 L996.91,733.50 L998.20,732.96 L999.50,732.43 L1000.80,731.90 L1002.11,731.39 L1003.42,730.88 L1004.73,730.38 L1006.05,729.89 L1007.37,729.40 L1008.70,728.92 L1010.03,728.45 L1011.37,727.98 L1012.71,727.53 L1014.05,727.07 L1015.40,726.63 L1016.75,726.19 L1018.10,725.76 L1019.46,725.34 L1020.82,724.92 L1022.19,724.51 L1023.56,724.11 L1024.93,723.71 L1026.31,723.32 L1027.69,722.93 L1029.07,722.55 L1030.46,722.18 L1031.85,721.81 L1033.25,721.45 L1034.64,721.10 L1036.04,720.75 L1037.44,720.41 L1038.85,720.07 L1040.26,719.74 L1041.67,719.42 L1043.09,719.10 L1044.50,718.79 L1045.92,718.48 L1047.34,718.18 L1048.77,717.88 L1050.20,717.59 L1051.63,717.31 L1053.06,717.03 L1054.49,716.75 L1055.93,716.48 L1057.37,716.22 L1058.81,715.96 L1060.25,715.70 L1061.70,715.45 L1063.15,715.21 L1064.60,714.97 L1066.05,714.74 L1067.50,714.51 L1068.96,714.28 L1070.41,714.06 L1071.87,713.84 L1073.33,713.63 L1074.79,713.43 L1076.26,713.22 L1077.72,713.02 L1079.19,712.83 L1080.65,712.64 L1082.12,712.46 L1083.59,712.27 L1085.06,712.10 L1086.53,711.92 L1088.01,711.75 L1089.48,711.59 L1090.95,711.43 L1092.43,711.27 L1093.90,711.12 L1095.38,710.97 L1096.86,710.82 L1098.34,710.68 L1099.82,710.54 L1101.30,710.40 L1102.77,710.27 L1104.25,710.14 L1105.74,710.01 L1107.22,709.89 L1108.70,709.77 L1110.18,709.65 L1111.66,709.54 L1113.14,709.43 L1114.62,709.32 L1116.10,709.22 L1117.58,709.11 L1119.06,709.01 L1120.54,708.92 L1122.02,708.82 L1123.50,708.73 L1124.98,708.64 L1126.46,708.56 L1127.94,708.47 L1129.42,708.39 L1130.90,708.31 L1132.37,708.23 L1133.85,708.16 L1135.32,708.09 L1136.80,708.02 L1138.27,707.95 L1139.74,707.88 L1141.21,707.82 L1142.68,707.75 L1144.15,707.69 L1145.62,707.63 L1147.08,707.57 L1148.55,707.52 L1150.01,707.46 L1151.47,707.41 L1152.93,707.36 L1154.39,707.31 L1155.85,707.26 L1157.31,707.21 L1158.76,707.16 L1160.21,707.12 L1161.66,707.07 L1163.11,707.03 L1164.56,706.99 L1166.00,706.95 L1167.44,706.91 L1168.88,706.87 L1170.32,706.83 L1171.76,706.79 L1173.19,706.75 L1174.62,706.72 L1176.05,706.68 L1177.47,706.64 L1178.90,706.61 L1180.32,706.57 L1181.74,706.54 L1183.15,706.50 L1184.56,706.47 L1185.97,706.43 L1187.38,706.40 L1188.78,706.36 L1190.19,706.33 L1191.58,706.30 L1192.98,706.26 L1194.37,706.23 L1195.76,706.19 L1197.14,706.16 L1198.52,706.12 L1199.90,706.08 L1201.28,706.05 L1202.65,706.01 L1204.02,705.97 L1205.38,705.93 L1206.74,705.89 L1208.10,705.85 L1209.45,705.81 L1210.80,705.77 L1212.14,705.73 L1213.48,705.68 L1214.82,705.64 L1216.15,705.59 L1217.48,705.54 L1218.81,705.49 L1220.13,705.44 L1221.44,705.39 L1222.75,705.34 L1224.06,705.28 L1225.36,705.23 L1226.66,705.17 L1227.95,705.11 L1229.24,705.05 L1230.52,704.99 L1231.80,704.92 L1233.08,704.86" fill="none" stroke="#ff0022" stroke-width="3.8" stroke-linejoin="round" stroke-linecap="round"/>
<path d="M784.70,1112.00 L788.20,1116.00 L792.40,1106.90 L796.00,1112.00 L799.60,1116.00 L803.70,1114.00 L807.80,1128.50 L812.90,1152.20" fill="none" stroke="#ff0022" stroke-width="2.6" stroke-linejoin="round" stroke-linecap="round"/>
<path d="M811.88,1144.62 L812.11,1143.21 L812.34,1141.81 L812.58,1140.41 L812.81,1139.01 L813.05,1137.61 L813.28,1136.21 L813.52,1134.80 L813.76,1133.41 L814.00,1132.01 L814.24,1130.61 L814.48,1129.21 L814.72,1127.81 L814.96,1126.41 L815.20,1125.01 L815.45,1123.62 L815.69,1122.22 L815.94,1120.82 L816.18,1119.43 L816.43,1118.03 L816.68,1116.64 L816.93,1115.24 L817.18,1113.85 L817.43,1112.45 L817.68,1111.06 L817.93,1109.66 L818.18,1108.27 L818.44,1106.87 L818.69,1105.48 L818.95,1104.09 L819.20,1102.69 L819.46,1101.30 L819.71,1099.91 L819.97,1098.52 L820.23,1097.12 L820.49,1095.73 L820.75,1094.34 L821.01,1092.95 L821.27,1091.56 L821.53,1090.16 L821.79,1088.77 L822.05,1087.38 L822.31,1085.99 L822.57,1084.60 L822.84,1083.21 L823.10,1081.82 L823.37,1080.43 L823.63,1079.04 L823.90,1077.64 L824.16,1076.25 L824.43,1074.86 L824.69,1073.47 L824.96,1072.08 L825.23,1070.69 L825.49,1069.30 L825.76,1067.91 L826.03,1066.52 L826.30,1065.13 L826.57,1063.74 L826.83,1062.34 L827.10,1060.95 L827.37,1059.56 L827.64,1058.17 L827.91,1056.78 L828.18,1055.39 L828.45,1054.00 L828.72,1052.61 L828.99,1051.21 L829.27,1049.82 L829.54,1048.43 L829.81,1047.04 L830.08,1045.64 L830.35,1044.25 L830.62,1042.86 L830.89,1041.47 L831.16,1040.07 L831.44,1038.68 L831.71,1037.29 L831.98,1035.89 L832.25,1034.50 L832.52,1033.10 L832.80,1031.71 L833.07,1030.31 L833.34,1028.92 L833.61,1027.52 L833.88,1026.13 L834.15,1024.73 L834.43,1023.34 L834.70,1021.94 L834.97,1020.54 L835.24,1019.15 L835.51,1017.75 L835.78,1016.35 L836.05,1014.95 L836.33,1013.55 L836.60,1012.15 L836.87,1010.75 L837.14,1009.35 L837.41,1007.95 L837.68,1006.55 L837.95,1005.15 L838.23,1003.75 L838.50,1002.35 L838.77,1000.95 L839.04,999.55 L839.32,998.15 L839.59,996.75 L839.87,995.35 L840.14,993.95 L840.42,992.55 L840.70,991.14 L840.98,989.74 L841.26,988.34 L841.54,986.94 L841.82,985.54 L842.10,984.14 L842.38,982.74 L842.67,981.34 L842.95,979.93 L843.24,978.53 L843.53,977.13 L843.82,975.73 L844.11,974.33 L844.40,972.93 L844.69,971.53 L844.99,970.13 L845.29,968.73 L845.58,967.33 L845.88,965.93 L846.19,964.54 L846.49,963.14 L846.80,961.74 L847.10,960.34 L847.41,958.94 L847.73,957.55 L848.04,956.15 L848.36,954.76 L848.67,953.36 L849.00,951.97 L849.32,950.57 L849.64,949.18 L849.97,947.78 L850.30,946.39 L850.63,945.00 L850.97,943.61 L851.31,942.22 L851.65,940.82 L851.99,939.43 L852.33,938.05 L852.68,936.66 L853.03,935.27 L853.39,933.88 L853.75,932.50 L854.11,931.11 L854.47,929.72 L854.84,928.34 L855.20,926.96 L855.58,925.58 L855.95,924.19 L856.33,922.81 L856.72,921.43 L857.10,920.05 L857.49,918.68 L857.88,917.30 L858.28,915.92 L858.68,914.55 L859.09,913.17 L859.49,911.80 L859.91,910.43 L860.32,909.06 L860.74,907.69 L861.16,906.32 L861.59,904.95 L862.02,903.58 L862.46,902.22 L862.90,900.85 L863.34,899.49 L863.79,898.13 L864.24,896.76 L864.70,895.40 L865.16,894.05 L865.62,892.69 L866.09,891.33 L866.57,889.98 L867.05,888.62 L867.53,887.27 L868.02,885.92 L868.51,884.57 L869.01,883.22 L869.52,881.88 L870.02,880.53 L870.54,879.19 L871.06,877.85 L871.58,876.51 L872.11,875.17 L872.64,873.83 L873.18,872.49 L873.72,871.16 L874.27,869.83 L874.82,868.50 L875.38,867.17 L875.95,865.84 L876.51,864.52 L877.09,863.19 L877.67,861.87 L878.25,860.56 L878.84,859.24 L879.43,857.93 L880.03,856.62 L880.64,855.31 L881.25,854.00 L881.86,852.70 L882.48,851.40 L883.11,850.11 L883.74,848.81 L884.38,847.52 L885.02,846.23 L885.66,844.95 L886.32,843.66 L886.97,842.38 L887.64,841.11 L888.30,839.84 L888.98,838.57 L889.65,837.30 L890.34,836.04 L891.03,834.78 L891.72,833.52 L892.42,832.27 L893.12,831.02 L893.83,829.78 L894.55,828.54 L895.27,827.30 L895.99,826.07 L896.73,824.84 L897.46,823.62 L898.20,822.40 L898.95,821.18 L899.70,819.97 L900.46,818.76 L901.23,817.56 L902.00,816.36 L902.77,815.17 L903.55,813.98 L904.34,812.79 L905.13,811.61 L905.92,810.44 L906.72,809.27 L907.53,808.10 L908.34,806.94 L909.16,805.79 L909.99,804.64 L910.82,803.49 L911.65,802.35 L912.49,801.22 L913.34,800.09 L914.19,798.97 L915.04,797.85 L915.91,796.74 L916.78,795.63 L917.65,794.53 L918.53,793.43 L919.41,792.34 L920.30,791.26 L921.20,790.18 L922.10,789.11 L923.01,788.04 L923.92,786.98 L924.84,785.93 L925.76,784.88 L926.69,783.84 L927.63,782.81 L928.57,781.78 L929.52,780.76 L930.47,779.74 L931.43,778.73 L932.39,777.73 L933.36,776.74 L934.34,775.75 L935.32,774.77 L936.31,773.79 L937.30,772.83 L938.30,771.86 L939.30,770.91 L940.31,769.97 L941.33,769.03 L942.35,768.10 L943.37,767.17 L944.41,766.25 L945.45,765.35 L946.49,764.44 L947.54,763.55 L948.60,762.66 L949.66,761.78 L950.73,760.91 L951.80,760.05 L952.88,759.20 L953.97,758.35 L955.06,757.51 L956.16,756.68 L957.26,755.86 L958.37,755.04 L959.49,754.24 L960.61,753.44 L961.73,752.65 L962.87,751.87 L964.01,751.10 L965.15,750.33 L966.30,749.58 L967.46,748.83 L968.62,748.10 L969.79,747.37 L970.97,746.65 L972.15,745.94 L973.33,745.24 L974.52,744.54 L975.72,743.86 L976.93,743.18 L978.14,742.52 L979.35,741.86 L980.57,741.21 L981.80,740.57 L983.03,739.93 L984.27,739.31 L985.51,738.69 L986.75,738.08 L988.01,737.48 L989.26,736.89 L990.53,736.30 L991.79,735.73 L993.07,735.16 L994.34,734.60 L995.63,734.04 L996.91,733.50 L998.20,732.96 L999.50,732.43 L1000.80,731.90 L1002.11,731.39 L1003.42,730.88 L1004.73,730.38 L1006.05,729.89 L1007.37,729.40 L1008.70,728.92 L1010.03,728.45 L1011.37,727.98 L1012.71,727.53 L1014.05,727.07 L1015.40,726.63 L1016.75,726.19 L1018.10,725.76 L1019.46,725.34 L1020.82,724.92 L1022.19,724.51 L1023.56,724.11 L1024.93,723.71 L1026.31,723.32 L1027.69,722.93 L1029.07,722.55 L1030.46,722.18 L1031.85,721.81 L1033.25,721.45 L1034.64,721.10 L1036.04,720.75 L1037.44,720.41 L1038.85,720.07 L1040.26,719.74 L1041.67,719.42 L1043.09,719.10 L1044.50,718.79 L1045.92,718.48 L1047.34,718.18 L1048.77,717.88 L1050.20,717.59 L1051.63,717.31 L1053.06,717.03 L1054.49,716.75 L1055.93,716.48 L1057.37,716.22 L1058.81,715.96 L1060.25,715.70 L1061.70,715.45 L1063.15,715.21 L1064.60,714.97 L1066.05,714.74 L1067.50,714.51 L1068.96,714.28 L1070.41,714.06 L1071.87,713.84 L1073.33,713.63 L1074.79,713.43 L1076.26,713.22 L1077.72,713.02 L1079.19,712.83 L1080.65,712.64 L1082.12,712.46 L1083.59,712.27 L1085.06,712.10 L1086.53,711.92 L1088.01,711.75 L1089.48,711.59 L1090.95,711.43 L1092.43,711.27 L1093.90,711.12 L1095.38,710.97 L1096.86,710.82 L1098.34,710.68 L1099.82,710.54 L1101.30,710.40 L1102.77,710.27 L1104.25,710.14 L1105.74,710.01 L1107.22,709.89 L1108.70,709.77 L1110.18,709.65 L1111.66,709.54 L1113.14,709.43 L1114.62,709.32 L1116.10,709.22 L1117.58,709.11 L1119.06,709.01 L1120.54,708.92 L1122.02,708.82 L1123.50,708.73 L1124.98,708.64 L1126.46,708.56 L1127.94,708.47 L1129.42,708.39 L1130.90,708.31 L1132.37,708.23 L1133.85,708.16 L1135.32,708.09 L1136.80,708.02 L1138.27,707.95 L1139.74,707.88 L1141.21,707.82 L1142.68,707.75 L1144.15,707.69 L1145.62,707.63 L1147.08,707.57 L1148.55,707.52 L1150.01,707.46 L1151.47,707.41 L1152.93,707.36 L1154.39,707.31 L1155.85,707.26 L1157.31,707.21 L1158.76,707.16 L1160.21,707.12 L1161.66,707.07 L1163.11,707.03 L1164.56,706.99 L1166.00,706.95 L1167.44,706.91 L1168.88,706.87 L1170.32,706.83 L1171.76,706.79 L1173.19,706.75 L1174.62,706.72 L1176.05,706.68 L1177.47,706.64 L1178.90,706.61 L1180.32,706.57 L1181.74,706.54 L1183.15,706.50 L1184.56,706.47 L1185.97,706.43 L1187.38,706.40 L1188.78,706.36 L1190.19,706.33 L1191.58,706.30 L1192.98,706.26 L1194.37,706.23 L1195.76,706.19 L1197.14,706.16 L1198.52,706.12 L1199.90,706.08 L1201.28,706.05 L1202.65,706.01 L1204.02,705.97 L1205.38,705.93 L1206.74,705.89 L1208.10,705.85 L1209.45,705.81 L1210.80,705.77 L1212.14,705.73 L1213.48,705.68 L1214.82,705.64 L1216.15,705.59 L1217.48,705.54 L1218.81,705.49 L1220.13,705.44 L1221.44,705.39 L1222.75,705.34 L1224.06,705.28 L1225.36,705.23 L1226.66,705.17 L1227.95,705.11 L1229.24,705.05 L1230.52,704.99 L1231.80,704.92 L1233.08,704.86" fill="none" stroke="#ff0022" stroke-width="3.8" stroke-linejoin="round" stroke-linecap="round"/>
</g>
<rect x="785.30" y="680.40" width="449.30" height="475.00" fill="none" stroke="#000" stroke-width="2.75"/>
<line x1="785.30" y1="680.40" x2="777.30" y2="680.40" stroke="#000" stroke-width="2.5" stroke-linecap="butt"/>
<line x1="785.30" y1="721.90" x2="781.10" y2="721.90" stroke="#000" stroke-width="1.6" stroke-linecap="butt"/>
<line x1="785.30" y1="711.45" x2="781.10" y2="711.45" stroke="#000" stroke-width="1.6" stroke-linecap="butt"/>
<line x1="785.30" y1="704.03" x2="781.10" y2="704.03" stroke="#000" stroke-width="1.6" stroke-linecap="butt"/>
<line x1="785.30" y1="698.27" x2="781.10" y2="698.27" stroke="#000" stroke-width="1.6" stroke-linecap="butt"/>
<line x1="785.30" y1="693.57" x2="781.10" y2="693.57" stroke="#000" stroke-width="1.6" stroke-linecap="butt"/>
<line x1="785.30" y1="689.60" x2="781.10" y2="689.60" stroke="#000" stroke-width="1.6" stroke-linecap="butt"/>
<line x1="785.30" y1="686.15" x2="781.10" y2="686.15" stroke="#000" stroke-width="1.6" stroke-linecap="butt"/>
<line x1="785.30" y1="683.12" x2="781.10" y2="683.12" stroke="#000" stroke-width="1.6" stroke-linecap="butt"/>
<text x="748.39" y="681.50" font-size="17.6">-5</text>
<text x="713.91" y="691.40" font-size="31">10</text>
<line x1="785.30" y1="739.77" x2="777.30" y2="739.77" stroke="#000" stroke-width="2.5" stroke-linecap="butt"/>
<line x1="785.30" y1="781.28" x2="781.10" y2="781.28" stroke="#000" stroke-width="1.6" stroke-linecap="butt"/>
<line x1="785.30" y1="770.82" x2="781.10" y2="770.82" stroke="#000" stroke-width="1.6" stroke-linecap="butt"/>
<line x1="785.30" y1="763.40" x2="781.10" y2="763.40" stroke="#000" stroke-width="1.6" stroke-linecap="butt"/>
<line x1="785.30" y1="757.65" x2="781.10" y2="757.65" stroke="#000" stroke-width="1.6" stroke-linecap="butt"/>
<line x1="785.30" y1="752.95" x2="781.10" y2="752.95" stroke="#000" stroke-width="1.6" stroke-linecap="butt"/>
<line x1="785.30" y1="748.97" x2="781.10" y2="748.97" stroke="#000" stroke-width="1.6" stroke-linecap="butt"/>
<line x1="785.30" y1="745.53" x2="781.10" y2="745.53" stroke="#000" stroke-width="1.6" stroke-linecap="butt"/>
<line x1="785.30" y1="742.49" x2="781.10" y2="742.49" stroke="#000" stroke-width="1.6" stroke-linecap="butt"/>
<text x="748.42" y="740.88" font-size="17.6">-6</text>
<text x="713.94" y="750.77" font-size="31">10</text>
<line x1="785.30" y1="799.15" x2="777.30" y2="799.15" stroke="#000" stroke-width="2.5" stroke-linecap="butt"/>
<line x1="785.30" y1="840.65" x2="781.10" y2="840.65" stroke="#000" stroke-width="1.6" stroke-linecap="butt"/>
<line x1="785.30" y1="830.20" x2="781.10" y2="830.20" stroke="#000" stroke-width="1.6" stroke-linecap="butt"/>
<line x1="785.30" y1="822.78" x2="781.10" y2="822.78" stroke="#000" stroke-width="1.6" stroke-linecap="butt"/>
<line x1="785.30" y1="817.02" x2="781.10" y2="817.02" stroke="#000" stroke-width="1.6" stroke-linecap="butt"/>
<line x1="785.30" y1="812.32" x2="781.10" y2="812.32" stroke="#000" stroke-width="1.6" stroke-linecap="butt"/>
<line x1="785.30" y1="808.35" x2="781.10" y2="808.35" stroke="#000" stroke-width="1.6" stroke-linecap="butt"/>
<line x1="785.30" y1="804.90" x2="781.10" y2="804.90" stroke="#000" stroke-width="1.6" stroke-linecap="butt"/>
<line x1="785.30" y1="801.87" x2="781.10" y2="801.87" stroke="#000" stroke-width="1.6" stroke-linecap="butt"/>
<text x="748.54" y="800.25" font-size="17.6">-7</text>
<text x="714.05" y="810.15" font-size="31">10</text>
<line x1="785.30" y1="858.53" x2="777.30" y2="858.53" stroke="#000" stroke-width="2.5" stroke-linecap="butt"/>
<line x1="785.30" y1="900.03" x2="781.10" y2="900.03" stroke="#000" stroke-width="1.6" stroke-linecap="butt"/>
<line x1="785.30" y1="889.57" x2="781.10" y2="889.57" stroke="#000" stroke-width="1.6" stroke-linecap="butt"/>
<line x1="785.30" y1="882.15" x2="781.10" y2="882.15" stroke="#000" stroke-width="1.6" stroke-linecap="butt"/>
<line x1="785.30" y1="876.40" x2="781.10" y2="876.40" stroke="#000" stroke-width="1.6" stroke-linecap="butt"/>
<line x1="785.30" y1="871.70" x2="781.10" y2="871.70" stroke="#000" stroke-width="1.6" stroke-linecap="butt"/>
<line x1="785.30" y1="867.72" x2="781.10" y2="867.72" stroke="#000" stroke-width="1.6" stroke-linecap="butt"/>
<line x1="785.30" y1="864.28" x2="781.10" y2="864.28" stroke="#000" stroke-width="1.6" stroke-linecap="butt"/>
<line x1="785.30" y1="861.24" x2="781.10" y2="861.24" stroke="#000" stroke-width="1.6" stroke-linecap="butt"/>
<text x="748.42" y="859.63" font-size="17.6">-8</text>
<text x="713.93" y="869.53" font-size="31">10</text>
<line x1="785.30" y1="917.90" x2="777.30" y2="917.90" stroke="#000" stroke-width="2.5" stroke-linecap="butt"/>
<line x1="785.30" y1="959.40" x2="781.10" y2="959.40" stroke="#000" stroke-width="1.6" stroke-linecap="butt"/>
<line x1="785.30" y1="948.95" x2="781.10" y2="948.95" stroke="#000" stroke-width="1.6" stroke-linecap="butt"/>
<line x1="785.30" y1="941.53" x2="781.10" y2="941.53" stroke="#000" stroke-width="1.6" stroke-linecap="butt"/>
<line x1="785.30" y1="935.77" x2="781.10" y2="935.77" stroke="#000" stroke-width="1.6" stroke-linecap="butt"/>
<line x1="785.30" y1="931.07" x2="781.10" y2="931.07" stroke="#000" stroke-width="1.6" stroke-linecap="butt"/>
<line x1="785.30" y1="927.10" x2="781.10" y2="927.10" stroke="#000" stroke-width="1.6" stroke-linecap="butt"/>
<line x1="785.30" y1="923.65" x2="781.10" y2="923.65" stroke="#000" stroke-width="1.6" stroke-linecap="butt"/>
<line x1="785.30" y1="920.62" x2="781.10" y2="920.62" stroke="#000" stroke-width="1.6" stroke-linecap="butt"/>
<text x="748.48" y="919.00" font-size="17.6">-9</text>
<text x="714.00" y="928.90" font-size="31">10</text>
<line x1="785.30" y1="977.28" x2="777.30" y2="977.28" stroke="#000" stroke-width="2.5" stroke-linecap="butt"/>
<line x1="785.30" y1="1018.78" x2="781.10" y2="1018.78" stroke="#000" stroke-width="1.6" stroke-linecap="butt"/>
<line x1="785.30" y1="1008.32" x2="781.10" y2="1008.32" stroke="#000" stroke-width="1.6" stroke-linecap="butt"/>
<line x1="785.30" y1="1000.90" x2="781.10" y2="1000.90" stroke="#000" stroke-width="1.6" stroke-linecap="butt"/>
<line x1="785.30" y1="995.15" x2="781.10" y2="995.15" stroke="#000" stroke-width="1.6" stroke-linecap="butt"/>
<line x1="785.30" y1="990.45" x2="781.10" y2="990.45" stroke="#000" stroke-width="1.6" stroke-linecap="butt"/>
<line x1="785.30" y1="986.47" x2="781.10" y2="986.47" stroke="#000" stroke-width="1.6" stroke-linecap="butt"/>
<line x1="785.30" y1="983.03" x2="781.10" y2="983.03" stroke="#000" stroke-width="1.6" stroke-linecap="butt"/>
<line x1="785.30" y1="979.99" x2="781.10" y2="979.99" stroke="#000" stroke-width="1.6" stroke-linecap="butt"/>
<text x="738.55" y="978.38" font-size="17.6">-10</text>
<text x="704.07" y="988.28" font-size="31">10</text>
<line x1="785.30" y1="1036.65" x2="777.30" y2="1036.65" stroke="#000" stroke-width="2.5" stroke-linecap="butt"/>
<line x1="785.30" y1="1078.15" x2="781.10" y2="1078.15" stroke="#000" stroke-width="1.6" stroke-linecap="butt"/>
<line x1="785.30" y1="1067.70" x2="781.10" y2="1067.70" stroke="#000" stroke-width="1.6" stroke-linecap="butt"/>
<line x1="785.30" y1="1060.28" x2="781.10" y2="1060.28" stroke="#000" stroke-width="1.6" stroke-linecap="butt"/>
<line x1="785.30" y1="1054.52" x2="781.10" y2="1054.52" stroke="#000" stroke-width="1.6" stroke-linecap="butt"/>
<line x1="785.30" y1="1049.82" x2="781.10" y2="1049.82" stroke="#000" stroke-width="1.6" stroke-linecap="butt"/>
<line x1="785.30" y1="1045.85" x2="781.10" y2="1045.85" stroke="#000" stroke-width="1.6" stroke-linecap="butt"/>
<line x1="785.30" y1="1042.40" x2="781.10" y2="1042.40" stroke="#000" stroke-width="1.6" stroke-linecap="butt"/>
<line x1="785.30" y1="1039.37" x2="781.10" y2="1039.37" stroke="#000" stroke-width="1.6" stroke-linecap="butt"/>
<text x="738.72" y="1037.75" font-size="17.6">-11</text>
<text x="704.24" y="1047.65" font-size="31">10</text>
<line x1="785.30" y1="1096.03" x2="777.30" y2="1096.03" stroke="#000" stroke-width="2.5" stroke-linecap="butt"/>
<line x1="785.30" y1="1137.53" x2="781.10" y2="1137.53" stroke="#000" stroke-width="1.6" stroke-linecap="butt"/>
<line x1="785.30" y1="1127.07" x2="781.10" y2="1127.07" stroke="#000" stroke-width="1.6" stroke-linecap="butt"/>
<line x1="785.30" y1="1119.65" x2="781.10" y2="1119.65" stroke="#000" stroke-width="1.6" stroke-linecap="butt"/>
<line x1="785.30" y1="1113.90" x2="781.10" y2="1113.90" stroke="#000" stroke-width="1.6" stroke-linecap="butt"/>
<line x1="785.30" y1="1109.20" x2="781.10" y2="1109.20" stroke="#000" stroke-width="1.6" stroke-linecap="butt"/>
<line x1="785.30" y1="1105.22" x2="781.10" y2="1105.22" stroke="#000" stroke-width="1.6" stroke-linecap="butt"/>
<line x1="785.30" y1="1101.78" x2="781.10" y2="1101.78" stroke="#000" stroke-width="1.6" stroke-linecap="butt"/>
<line x1="785.30" y1="1098.74" x2="781.10" y2="1098.74" stroke="#000" stroke-width="1.6" stroke-linecap="butt"/>
<text x="738.75" y="1097.12" font-size="17.6">-12</text>
<text x="704.27" y="1107.03" font-size="31">10</text>
<line x1="785.30" y1="1155.40" x2="777.30" y2="1155.40" stroke="#000" stroke-width="2.5" stroke-linecap="butt"/>
<text x="738.64" y="1156.50" font-size="17.6">-13</text>
<text x="704.15" y="1166.40" font-size="31">10</text>
<line x1="813.39" y1="1155.40" x2="813.39" y2="1163.40" stroke="#000" stroke-width="2.5" stroke-linecap="butt"/>
<line x1="883.59" y1="1155.40" x2="883.59" y2="1163.40" stroke="#000" stroke-width="2.5" stroke-linecap="butt"/>
<line x1="953.80" y1="1155.40" x2="953.80" y2="1163.40" stroke="#000" stroke-width="2.5" stroke-linecap="butt"/>
<line x1="1024.00" y1="1155.40" x2="1024.00" y2="1163.40" stroke="#000" stroke-width="2.5" stroke-linecap="butt"/>
<line x1="1094.20" y1="1155.40" x2="1094.20" y2="1163.40" stroke="#000" stroke-width="2.5" stroke-linecap="butt"/>
<line x1="1164.41" y1="1155.40" x2="1164.41" y2="1163.40" stroke="#000" stroke-width="2.5" stroke-linecap="butt"/>
<line x1="1234.61" y1="1155.40" x2="1234.61" y2="1163.40" stroke="#000" stroke-width="2.5" stroke-linecap="butt"/>
<line x1="848.49" y1="1155.40" x2="848.49" y2="1159.60" stroke="#000" stroke-width="1.8" stroke-linecap="butt"/>
<line x1="918.70" y1="1155.40" x2="918.70" y2="1159.60" stroke="#000" stroke-width="1.8" stroke-linecap="butt"/>
<line x1="988.90" y1="1155.40" x2="988.90" y2="1159.60" stroke="#000" stroke-width="1.8" stroke-linecap="butt"/>
<line x1="1059.10" y1="1155.40" x2="1059.10" y2="1159.60" stroke="#000" stroke-width="1.8" stroke-linecap="butt"/>
<line x1="1129.30" y1="1155.40" x2="1129.30" y2="1159.60" stroke="#000" stroke-width="1.8" stroke-linecap="butt"/>
<line x1="1199.51" y1="1155.40" x2="1199.51" y2="1159.60" stroke="#000" stroke-width="1.8" stroke-linecap="butt"/>
<text x="790.24" y="1201.50" font-size="31">1.5</text>
<text x="779.92" y="1201.50" font-size="31">-</text>
<text x="874.47" y="1201.50" font-size="31">1</text>
<text x="864.15" y="1201.50" font-size="31">-</text>
<text x="933.25" y="1201.50" font-size="31">0.5</text>
<text x="922.93" y="1201.50" font-size="31">-</text>
<text x="1015.38" y="1201.50" font-size="31">0</text>
<text x="1072.96" y="1201.50" font-size="31">0.5</text>
<text x="1155.79" y="1201.50" font-size="31">1</text>
<text x="1213.86" y="1201.50" font-size="31">1.5</text>
<text x="1058.62" y="770.40" font-size="31" font-style="italic">V</text>
<text x="1079.02" y="780.20" font-size="18.5">ds</text>
<text x="1106.49" y="770.40" font-size="31">= 0.5 V</text>
<text x="979.94" y="892.00" font-size="31">sweep speeds</text>
<line x1="1000.50" y1="930.60" x2="1052.50" y2="930.60" stroke="#0b4f24" stroke-width="2.6" stroke-linecap="butt"/>
<text x="1067.99" y="941.10" font-size="31">0.250 V s</text>
<text x="1198.97" y="931.10" font-size="17.6">-1</text>
<line x1="1000.50" y1="970.30" x2="1052.50" y2="970.30" stroke="#a8ae28" stroke-width="2.6" stroke-linecap="butt"/>
<text x="1067.99" y="980.80" font-size="31">0.150 V s</text>
<text x="1198.97" y="970.80" font-size="17.6">-1</text>
<line x1="1000.50" y1="1010.00" x2="1052.50" y2="1010.00" stroke="#efbf30" stroke-width="2.6" stroke-linecap="butt"/>
<text x="1067.99" y="1020.50" font-size="31">0.100 V s</text>
<text x="1198.97" y="1010.50" font-size="17.6">-1</text>
<line x1="1000.50" y1="1049.70" x2="1052.50" y2="1049.70" stroke="#f26a22" stroke-width="2.6" stroke-linecap="butt"/>
<text x="1067.99" y="1060.20" font-size="31">0.075 V s</text>
<text x="1198.97" y="1050.20" font-size="17.6">-1</text>
<line x1="1000.50" y1="1089.40" x2="1052.50" y2="1089.40" stroke="#ff0022" stroke-width="2.6" stroke-linecap="butt"/>
<text x="1067.99" y="1099.90" font-size="31">0.050 V s</text>
<text x="1198.97" y="1089.90" font-size="17.6">-1</text>
<line x1="844.20" y1="907.10" x2="856.94" y2="873.89" stroke="#000" stroke-width="3.0" stroke-linecap="butt"/>
<path d="M859.70,866.70 L859.59,881.65 L855.94,876.50 L849.78,877.89Z" fill="#000"/>
<line x1="889.70" y1="877.10" x2="877.38" y2="910.28" stroke="#000" stroke-width="3.0" stroke-linecap="butt"/>
<path d="M874.70,917.50 L874.65,902.55 L878.35,907.66 L884.49,906.20Z" fill="#000"/>
<text x="966.92" y="1246.80" font-size="31" font-style="italic">V</text>
<text x="985.72" y="1257.80" font-size="18.5">g</text>
<text x="1013.78" y="1246.80" font-size="31">(V)</text>
<g transform="rotate(-90 678.90 995.93)">
<text x="678.90" y="995.93" font-size="31" font-style="italic">I</text>
<text x="687.45" y="1006.43" font-size="18.5">ds</text>
<text x="723.30" y="995.93" font-size="31">(A/μm)</text>
</g>
<defs><radialGradient id="gr" cx="0.37" cy="0.37" r="0.63" fx="0.37" fy="0.37"><stop offset="0" stop-color="#ffffff"/><stop offset="0.12" stop-color="#ffffff"/><stop offset="0.42" stop-color="#ff2020"/><stop offset="1" stop-color="#ff0000"/></radialGradient><radialGradient id="gb" cx="0.37" cy="0.37" r="0.63" fx="0.37" fy="0.37"><stop offset="0" stop-color="#ffffff"/><stop offset="0.12" stop-color="#ffffff"/><stop offset="0.42" stop-color="#2020ff"/><stop offset="1" stop-color="#0000f0"/></radialGradient></defs>
<text x="1366.55" y="663.20" font-size="46">f</text>
<rect x="1442.75" y="681.20" width="448.75" height="180.70" fill="none" stroke="#000" stroke-width="2.75"/>
<line x1="1442.75" y1="696.90" x2="1434.75" y2="696.90" stroke="#000" stroke-width="2.5" stroke-linecap="butt"/>
<line x1="1442.75" y1="721.65" x2="1438.55" y2="721.65" stroke="#000" stroke-width="1.8" stroke-linecap="butt"/>
<line x1="1442.75" y1="746.40" x2="1434.75" y2="746.40" stroke="#000" stroke-width="2.5" stroke-linecap="butt"/>
<line x1="1442.75" y1="771.15" x2="1438.55" y2="771.15" stroke="#000" stroke-width="1.8" stroke-linecap="butt"/>
<line x1="1442.75" y1="795.90" x2="1434.75" y2="795.90" stroke="#000" stroke-width="2.5" stroke-linecap="butt"/>
<line x1="1442.75" y1="820.65" x2="1438.55" y2="820.65" stroke="#000" stroke-width="1.8" stroke-linecap="butt"/>
<line x1="1442.75" y1="845.40" x2="1434.75" y2="845.40" stroke="#000" stroke-width="2.5" stroke-linecap="butt"/>
<text x="1379.92" y="707.90" font-size="31">7.0</text>
<text x="1380.01" y="757.40" font-size="31">6.5</text>
<text x="1379.92" y="806.90" font-size="31">4.0</text>
<text x="1380.01" y="856.40" font-size="31">2.5</text>
<line x1="1457.70" y1="861.90" x2="1457.70" y2="869.90" stroke="#000" stroke-width="2.5" stroke-linecap="butt"/>
<line x1="1529.92" y1="861.90" x2="1529.92" y2="869.90" stroke="#000" stroke-width="2.5" stroke-linecap="butt"/>
<line x1="1602.15" y1="861.90" x2="1602.15" y2="869.90" stroke="#000" stroke-width="2.5" stroke-linecap="butt"/>
<line x1="1674.38" y1="861.90" x2="1674.38" y2="869.90" stroke="#000" stroke-width="2.5" stroke-linecap="butt"/>
<line x1="1746.60" y1="861.90" x2="1746.60" y2="869.90" stroke="#000" stroke-width="2.5" stroke-linecap="butt"/>
<line x1="1818.83" y1="861.90" x2="1818.83" y2="869.90" stroke="#000" stroke-width="2.5" stroke-linecap="butt"/>
<line x1="1891.05" y1="861.90" x2="1891.05" y2="869.90" stroke="#000" stroke-width="2.5" stroke-linecap="butt"/>
<line x1="1493.81" y1="861.90" x2="1493.81" y2="866.10" stroke="#000" stroke-width="1.8" stroke-linecap="butt"/>
<line x1="1566.04" y1="861.90" x2="1566.04" y2="866.10" stroke="#000" stroke-width="1.8" stroke-linecap="butt"/>
<line x1="1638.26" y1="861.90" x2="1638.26" y2="866.10" stroke="#000" stroke-width="1.8" stroke-linecap="butt"/>
<line x1="1710.49" y1="861.90" x2="1710.49" y2="866.10" stroke="#000" stroke-width="1.8" stroke-linecap="butt"/>
<line x1="1782.71" y1="861.90" x2="1782.71" y2="866.10" stroke="#000" stroke-width="1.8" stroke-linecap="butt"/>
<line x1="1854.94" y1="861.90" x2="1854.94" y2="866.10" stroke="#000" stroke-width="1.8" stroke-linecap="butt"/>
<text x="1436.15" y="907.80" font-size="31">0.5</text>
<text x="1521.30" y="907.80" font-size="31">1</text>
<text x="1580.60" y="907.80" font-size="31">1.5</text>
<text x="1665.75" y="907.80" font-size="31">2</text>
<text x="1725.05" y="907.80" font-size="31">2.5</text>
<text x="1810.20" y="907.80" font-size="31">3</text>
<text x="1869.50" y="907.80" font-size="31">3.5</text>
<path d="M1486.59,818.90 L1558.82,804.90 L1631.04,795.40 L1703.27,765.70 L1775.49,743.10 L1847.72,722.90" fill="none" stroke="#ff0000" stroke-width="2.3" stroke-linejoin="round" stroke-linecap="round"/>
<circle cx="1486.59" cy="818.90" r="10.6" fill="url(#gr)"/>
<circle cx="1558.82" cy="804.90" r="10.6" fill="url(#gr)"/>
<circle cx="1631.04" cy="795.40" r="10.6" fill="url(#gr)"/>
<circle cx="1703.27" cy="765.70" r="10.6" fill="url(#gr)"/>
<circle cx="1775.49" cy="743.10" r="10.6" fill="url(#gr)"/>
<circle cx="1847.72" cy="722.90" r="10.6" fill="url(#gr)"/>
<text x="1563.46" y="952.00" font-size="31">Bias range  (V)</text>
<g transform="rotate(-90 1351.2 888.24)">
<text x="1351.20" y="888.24" font-size="31">Hysteresis  (mV)</text>
</g>
<text x="1366.97" y="945.30" font-size="46">g</text>
<rect x="1442.75" y="973.40" width="448.75" height="181.70" fill="none" stroke="#000" stroke-width="2.75"/>
<line x1="1442.75" y1="988.50" x2="1434.75" y2="988.50" stroke="#000" stroke-width="2.5" stroke-linecap="butt"/>
<line x1="1442.75" y1="1007.10" x2="1438.55" y2="1007.10" stroke="#000" stroke-width="1.8" stroke-linecap="butt"/>
<line x1="1442.75" y1="1025.75" x2="1434.75" y2="1025.75" stroke="#000" stroke-width="2.5" stroke-linecap="butt"/>
<line x1="1442.75" y1="1044.35" x2="1438.55" y2="1044.35" stroke="#000" stroke-width="1.8" stroke-linecap="butt"/>
<line x1="1442.75" y1="1063.00" x2="1434.75" y2="1063.00" stroke="#000" stroke-width="2.5" stroke-linecap="butt"/>
<line x1="1442.75" y1="1081.60" x2="1438.55" y2="1081.60" stroke="#000" stroke-width="1.8" stroke-linecap="butt"/>
<line x1="1442.75" y1="1100.25" x2="1434.75" y2="1100.25" stroke="#000" stroke-width="2.5" stroke-linecap="butt"/>
<line x1="1442.75" y1="1118.85" x2="1438.55" y2="1118.85" stroke="#000" stroke-width="1.8" stroke-linecap="butt"/>
<line x1="1442.75" y1="1137.50" x2="1434.75" y2="1137.50" stroke="#000" stroke-width="2.5" stroke-linecap="butt"/>
<text x="1378.72" y="998.10" font-size="31">9.0</text>
<text x="1378.81" y="1035.35" font-size="31">7.5</text>
<text x="1378.72" y="1072.60" font-size="31">6.0</text>
<text x="1378.81" y="1109.85" font-size="31">4.5</text>
<text x="1378.72" y="1147.10" font-size="31">3.0</text>
<line x1="1487.80" y1="1155.10" x2="1487.80" y2="1163.10" stroke="#000" stroke-width="2.5" stroke-linecap="butt"/>
<line x1="1577.40" y1="1155.10" x2="1577.40" y2="1163.10" stroke="#000" stroke-width="2.5" stroke-linecap="butt"/>
<line x1="1667.00" y1="1155.10" x2="1667.00" y2="1163.10" stroke="#000" stroke-width="2.5" stroke-linecap="butt"/>
<line x1="1756.60" y1="1155.10" x2="1756.60" y2="1163.10" stroke="#000" stroke-width="2.5" stroke-linecap="butt"/>
<line x1="1846.20" y1="1155.10" x2="1846.20" y2="1163.10" stroke="#000" stroke-width="2.5" stroke-linecap="butt"/>
<line x1="1443.00" y1="1155.10" x2="1443.00" y2="1159.30" stroke="#000" stroke-width="1.8" stroke-linecap="butt"/>
<line x1="1532.60" y1="1155.10" x2="1532.60" y2="1159.30" stroke="#000" stroke-width="1.8" stroke-linecap="butt"/>
<line x1="1622.20" y1="1155.10" x2="1622.20" y2="1159.30" stroke="#000" stroke-width="1.8" stroke-linecap="butt"/>
<line x1="1711.80" y1="1155.10" x2="1711.80" y2="1159.30" stroke="#000" stroke-width="1.8" stroke-linecap="butt"/>
<line x1="1801.40" y1="1155.10" x2="1801.40" y2="1159.30" stroke="#000" stroke-width="1.8" stroke-linecap="butt"/>
<line x1="1891.00" y1="1155.10" x2="1891.00" y2="1159.30" stroke="#000" stroke-width="1.8" stroke-linecap="butt"/>
<text x="1460.33" y="1201.30" font-size="31">0.05</text>
<text x="1558.55" y="1201.30" font-size="31">0.1</text>
<text x="1639.53" y="1201.30" font-size="31">0.15</text>
<text x="1737.75" y="1201.30" font-size="31">0.2</text>
<text x="1818.73" y="1201.30" font-size="31">0.25</text>
<path d="M1488.00,1010.40 L1532.40,1068.20 L1577.40,1085.50 L1667.50,1107.90 L1846.50,1117.80" fill="none" stroke="#0000f0" stroke-width="2.3" stroke-linejoin="round" stroke-linecap="round"/>
<circle cx="1488.00" cy="1010.40" r="10.6" fill="url(#gb)"/>
<circle cx="1532.40" cy="1068.20" r="10.6" fill="url(#gb)"/>
<circle cx="1577.40" cy="1085.50" r="10.6" fill="url(#gb)"/>
<circle cx="1667.50" cy="1107.90" r="10.6" fill="url(#gb)"/>
<circle cx="1846.50" cy="1117.80" r="10.6" fill="url(#gb)"/>
<text x="1539.59" y="1255.70" font-size="31">Sweep rate  (V s</text>
<text x="1768.75" y="1245.70" font-size="17.6">-1</text>
<text x="1784.40" y="1255.70" font-size="31">)</text>
<g transform="rotate(-90 1351.2 1177.94)">
<text x="1351.20" y="1177.94" font-size="31">Hysteresis  (mV)</text>
</g>
</svg>
</body></html>
